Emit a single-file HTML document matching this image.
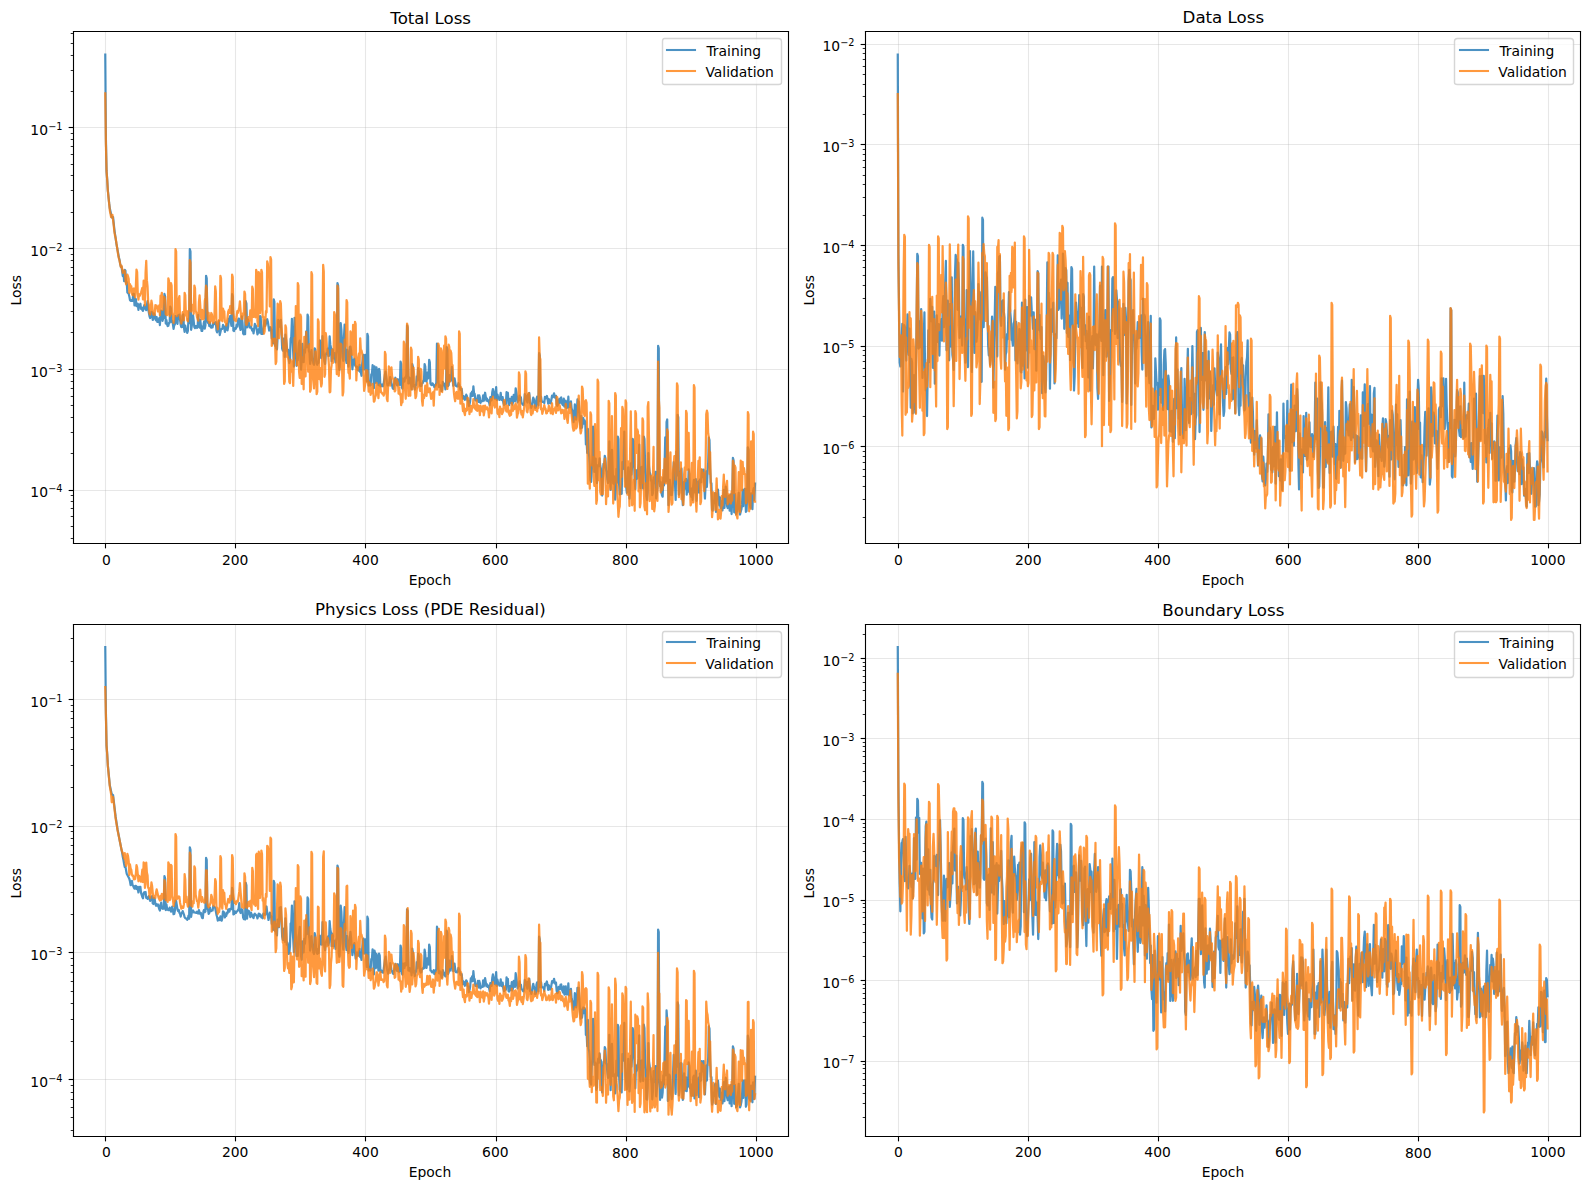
<!DOCTYPE html>
<html><head><meta charset="utf-8"><title>Training Losses</title>
<style>html,body{margin:0;padding:0;background:#fff}body{width:1590px;height:1189px;position:relative;overflow:hidden;font-family:"DejaVu Sans","Liberation Sans",sans-serif}</style>
</head><body>
<svg width="1590" height="1189" viewBox="0 0 1590 1189" style="position:absolute;left:0;top:0;display:block"><g transform="translate(1.4156 0.336) scale(1.388889)"><defs><style type="text/css">*{stroke-linejoin: round; stroke-linecap: butt}</style></defs><g id="figure_1"><g id="patch_1"><path d="M-0.299 855.118L1143.781 855.118L1143.781 -0.242L-0.299 -0.242z" style="fill: #ffffff"/></g><g id="axes_1"><g id="patch_2"><path d="M51.541 390.718L566.341 390.718L566.341 22.078L51.541 22.078z" style="fill: #ffffff"/></g><g id="matplotlib.axis_1"><g id="xtick_1"><g id="line2d_1"><path d="M74.941 391.078L74.941 22.438" clip-path="url(#pe0cba275ca)" style="fill: none; stroke: #b0b0b0; stroke-opacity: 0.3; stroke-width: 0.8; stroke-linecap: square"/></g><g id="line2d_2"><defs><path id="m1504cfccaf" d="M 0 0 L 0 3.5 " style="stroke: #000000; stroke-width: 0.8"/></defs><g><use href="#m1504cfccaf" x="74.941" y="391.078" style="stroke: #000000; stroke-width: 0.8"/></g></g><g id="text_1" transform="translate(0.823 1.153)"><text style="font-size: 10px; font-family: 'DejaVu Sans', 'Liberation Sans', sans-serif; text-anchor: middle" x="74.769" y="405.477">0</text></g></g><g id="xtick_2"><g id="line2d_3"><path d="M168.541 391.078L168.541 22.438" clip-path="url(#pe0cba275ca)" style="fill: none; stroke: #b0b0b0; stroke-opacity: 0.3; stroke-width: 0.8; stroke-linecap: square"/></g><g id="line2d_4"><g><use href="#m1504cfccaf" x="168.541" y="391.078" style="stroke: #000000; stroke-width: 0.8"/></g></g><g id="text_2" transform="translate(-0.089 0.995)"><text style="font-size: 10px; font-family: 'DejaVu Sans', 'Liberation Sans', sans-serif; text-anchor: middle" x="168.427" y="405.477">200</text></g></g><g id="xtick_3"><g id="line2d_5"><path d="M262.141 391.078L262.141 22.438" clip-path="url(#pe0cba275ca)" style="fill: none; stroke: #b0b0b0; stroke-opacity: 0.3; stroke-width: 0.8; stroke-linecap: square"/></g><g id="line2d_6"><g><use href="#m1504cfccaf" x="262.141" y="391.078" style="stroke: #000000; stroke-width: 0.8"/></g></g><g id="text_3" transform="translate(0.076 0.909)"><text style="font-size: 10px; font-family: 'DejaVu Sans', 'Liberation Sans', sans-serif; text-anchor: middle" x="262.085" y="405.477">400</text></g></g><g id="xtick_4"><g id="line2d_7"><path d="M356.461 391.078L356.461 22.438" clip-path="url(#pe0cba275ca)" style="fill: none; stroke: #b0b0b0; stroke-opacity: 0.3; stroke-width: 0.8; stroke-linecap: square"/></g><g id="line2d_8"><g><use href="#m1504cfccaf" x="356.461" y="391.078" style="stroke: #000000; stroke-width: 0.8"/></g></g><g id="text_4" transform="translate(-0.14 1.194)"><text style="font-size: 10px; font-family: 'DejaVu Sans', 'Liberation Sans', sans-serif; text-anchor: middle" x="355.743" y="405.477">600</text></g></g><g id="xtick_5"><g id="line2d_9"><path d="M450.061 391.078L450.061 22.438" clip-path="url(#pe0cba275ca)" style="fill: none; stroke: #b0b0b0; stroke-opacity: 0.3; stroke-width: 0.8; stroke-linecap: square"/></g><g id="line2d_10"><g><use href="#m1504cfccaf" x="450.061" y="391.078" style="stroke: #000000; stroke-width: 0.8"/></g></g><g id="text_5" transform="translate(-0.215 1.091)"><text style="font-size: 10px; font-family: 'DejaVu Sans', 'Liberation Sans', sans-serif; text-anchor: middle" x="449.4" y="405.477">800</text></g></g><g id="xtick_6"><g id="line2d_11"><path d="M543.661 391.078L543.661 22.438" clip-path="url(#pe0cba275ca)" style="fill: none; stroke: #b0b0b0; stroke-opacity: 0.3; stroke-width: 0.8; stroke-linecap: square"/></g><g id="line2d_12"><g><use href="#m1504cfccaf" x="543.661" y="391.078" style="stroke: #000000; stroke-width: 0.8"/></g></g><g id="text_6" transform="translate(0.141 1.043)"><text style="font-size: 10px; font-family: 'DejaVu Sans', 'Liberation Sans', sans-serif; text-anchor: middle" x="543.058" y="405.477">1000</text></g></g><g id="text_7" transform="translate(-0.08 1.515)"><text style="font-size: 10px; font-family: 'DejaVu Sans', 'Liberation Sans', sans-serif; text-anchor: middle" x="308.68" y="419.155">Epoch</text></g></g><g id="matplotlib.axis_2"><g id="ytick_1"><g id="line2d_13"><path d="M51.901 352.918L566.701 352.918" clip-path="url(#pe0cba275ca)" style="fill: none; stroke: #b0b0b0; stroke-opacity: 0.3; stroke-width: 0.8; stroke-linecap: square"/></g><g id="line2d_14"><defs><path id="m5d545ce8f8" d="M 0 0 L -3.5 0 " style="stroke: #000000; stroke-width: 0.8"/></defs><g><use href="#m5d545ce8f8" x="51.901" y="352.918" style="stroke: #000000; stroke-width: 0.8"/></g></g><g id="text_8" transform="translate(-0.039 1.5)"><g transform="translate(20.878 356.105)"><text><tspan x="0" y="-0.064" style="font-size: 10px; font-family: 'DejaVu Sans', 'Liberation Sans', sans-serif">1</tspan><tspan x="6.362" y="-0.064" style="font-size: 10px; font-family: 'DejaVu Sans', 'Liberation Sans', sans-serif">0</tspan><tspan x="12.82" y="-3.892" style="font-size: 7px; font-family: 'DejaVu Sans', 'Liberation Sans', sans-serif">−</tspan><tspan x="18.686" y="-3.892" style="font-size: 7px; font-family: 'DejaVu Sans', 'Liberation Sans', sans-serif">4</tspan></text></g></g></g><g id="ytick_2"><g id="line2d_15"><path d="M51.901 265.798L566.701 265.798" clip-path="url(#pe0cba275ca)" style="fill: none; stroke: #b0b0b0; stroke-opacity: 0.3; stroke-width: 0.8; stroke-linecap: square"/></g><g id="line2d_16"><g><use href="#m5d545ce8f8" x="51.901" y="265.798" style="stroke: #000000; stroke-width: 0.8"/></g></g><g id="text_9" transform="translate(-0.097 3.13)"><g transform="translate(20.878 269.129)"><text><tspan x="0" y="-0.977" style="font-size: 10px; font-family: 'DejaVu Sans', 'Liberation Sans', sans-serif">1</tspan><tspan x="6.362" y="-0.977" style="font-size: 10px; font-family: 'DejaVu Sans', 'Liberation Sans', sans-serif">0</tspan><tspan x="12.82" y="-4.805" style="font-size: 7px; font-family: 'DejaVu Sans', 'Liberation Sans', sans-serif">−</tspan><tspan x="18.686" y="-4.805" style="font-size: 7px; font-family: 'DejaVu Sans', 'Liberation Sans', sans-serif">3</tspan></text></g></g></g><g id="ytick_3"><g id="line2d_17"><path d="M51.901 178.678L566.701 178.678" clip-path="url(#pe0cba275ca)" style="fill: none; stroke: #b0b0b0; stroke-opacity: 0.3; stroke-width: 0.8; stroke-linecap: square"/></g><g id="line2d_18"><g><use href="#m5d545ce8f8" x="51.901" y="178.678" style="stroke: #000000; stroke-width: 0.8"/></g></g><g id="text_10" transform="translate(-0.033 2.888)"><g transform="translate(20.878 182.153)"><text><tspan x="0" y="-0.977" style="font-size: 10px; font-family: 'DejaVu Sans', 'Liberation Sans', sans-serif">1</tspan><tspan x="6.362" y="-0.977" style="font-size: 10px; font-family: 'DejaVu Sans', 'Liberation Sans', sans-serif">0</tspan><tspan x="12.82" y="-4.805" style="font-size: 7px; font-family: 'DejaVu Sans', 'Liberation Sans', sans-serif">−</tspan><tspan x="18.686" y="-4.805" style="font-size: 7px; font-family: 'DejaVu Sans', 'Liberation Sans', sans-serif">2</tspan></text></g></g></g><g id="ytick_4"><g id="line2d_19"><path d="M51.901 91.558L566.701 91.558" clip-path="url(#pe0cba275ca)" style="fill: none; stroke: #b0b0b0; stroke-opacity: 0.3; stroke-width: 0.8; stroke-linecap: square"/></g><g id="line2d_20"><g><use href="#m5d545ce8f8" x="51.901" y="91.558" style="stroke: #000000; stroke-width: 0.8"/></g></g><g id="text_11" transform="translate(-0.035 1.767)"><g transform="translate(20.878 95.177)"><text><tspan x="0" y="-0.064" style="font-size: 10px; font-family: 'DejaVu Sans', 'Liberation Sans', sans-serif">1</tspan><tspan x="6.362" y="-0.064" style="font-size: 10px; font-family: 'DejaVu Sans', 'Liberation Sans', sans-serif">0</tspan><tspan x="12.82" y="-3.892" style="font-size: 7px; font-family: 'DejaVu Sans', 'Liberation Sans', sans-serif">−</tspan><tspan x="18.686" y="-3.892" style="font-size: 7px; font-family: 'DejaVu Sans', 'Liberation Sans', sans-serif">1</tspan></text></g></g></g><g id="ytick_5"><g id="line2d_21"><defs><path id="mc3d89a154a" d="M 0 0 L -2 0 " style="stroke: #000000; stroke-width: 0.6"/></defs><g><use href="#mc3d89a154a" x="51.901" y="387.478" style="stroke: #000000; stroke-width: 0.6"/></g></g></g><g id="ytick_6"><g id="line2d_22"><g><use href="#mc3d89a154a" x="51.901" y="378.838" style="stroke: #000000; stroke-width: 0.6"/></g></g></g><g id="ytick_7"><g id="line2d_23"><g><use href="#mc3d89a154a" x="51.901" y="371.638" style="stroke: #000000; stroke-width: 0.6"/></g></g></g><g id="ytick_8"><g id="line2d_24"><g><use href="#mc3d89a154a" x="51.901" y="365.878" style="stroke: #000000; stroke-width: 0.6"/></g></g></g><g id="ytick_9"><g id="line2d_25"><g><use href="#mc3d89a154a" x="51.901" y="360.838" style="stroke: #000000; stroke-width: 0.6"/></g></g></g><g id="ytick_10"><g id="line2d_26"><g><use href="#mc3d89a154a" x="51.901" y="356.518" style="stroke: #000000; stroke-width: 0.6"/></g></g></g><g id="ytick_11"><g id="line2d_27"><g><use href="#mc3d89a154a" x="51.901" y="326.278" style="stroke: #000000; stroke-width: 0.6"/></g></g></g><g id="ytick_12"><g id="line2d_28"><g><use href="#mc3d89a154a" x="51.901" y="311.158" style="stroke: #000000; stroke-width: 0.6"/></g></g></g><g id="ytick_13"><g id="line2d_29"><g><use href="#mc3d89a154a" x="51.901" y="300.358" style="stroke: #000000; stroke-width: 0.6"/></g></g></g><g id="ytick_14"><g id="line2d_30"><g><use href="#mc3d89a154a" x="51.901" y="291.718" style="stroke: #000000; stroke-width: 0.6"/></g></g></g><g id="ytick_15"><g id="line2d_31"><g><use href="#mc3d89a154a" x="51.901" y="285.238" style="stroke: #000000; stroke-width: 0.6"/></g></g></g><g id="ytick_16"><g id="line2d_32"><g><use href="#mc3d89a154a" x="51.901" y="279.478" style="stroke: #000000; stroke-width: 0.6"/></g></g></g><g id="ytick_17"><g id="line2d_33"><g><use href="#mc3d89a154a" x="51.901" y="274.438" style="stroke: #000000; stroke-width: 0.6"/></g></g></g><g id="ytick_18"><g id="line2d_34"><g><use href="#mc3d89a154a" x="51.901" y="269.398" style="stroke: #000000; stroke-width: 0.6"/></g></g></g><g id="ytick_19"><g id="line2d_35"><g><use href="#mc3d89a154a" x="51.901" y="239.158" style="stroke: #000000; stroke-width: 0.6"/></g></g></g><g id="ytick_20"><g id="line2d_36"><g><use href="#mc3d89a154a" x="51.901" y="224.038" style="stroke: #000000; stroke-width: 0.6"/></g></g></g><g id="ytick_21"><g id="line2d_37"><g><use href="#mc3d89a154a" x="51.901" y="213.238" style="stroke: #000000; stroke-width: 0.6"/></g></g></g><g id="ytick_22"><g id="line2d_38"><g><use href="#mc3d89a154a" x="51.901" y="204.598" style="stroke: #000000; stroke-width: 0.6"/></g></g></g><g id="ytick_23"><g id="line2d_39"><g><use href="#mc3d89a154a" x="51.901" y="198.118" style="stroke: #000000; stroke-width: 0.6"/></g></g></g><g id="ytick_24"><g id="line2d_40"><g><use href="#mc3d89a154a" x="51.901" y="192.358" style="stroke: #000000; stroke-width: 0.6"/></g></g></g><g id="ytick_25"><g id="line2d_41"><g><use href="#mc3d89a154a" x="51.901" y="187.318" style="stroke: #000000; stroke-width: 0.6"/></g></g></g><g id="ytick_26"><g id="line2d_42"><g><use href="#mc3d89a154a" x="51.901" y="182.998" style="stroke: #000000; stroke-width: 0.6"/></g></g></g><g id="ytick_27"><g id="line2d_43"><g><use href="#mc3d89a154a" x="51.901" y="152.758" style="stroke: #000000; stroke-width: 0.6"/></g></g></g><g id="ytick_28"><g id="line2d_44"><g><use href="#mc3d89a154a" x="51.901" y="136.918" style="stroke: #000000; stroke-width: 0.6"/></g></g></g><g id="ytick_29"><g id="line2d_45"><g><use href="#mc3d89a154a" x="51.901" y="126.118" style="stroke: #000000; stroke-width: 0.6"/></g></g></g><g id="ytick_30"><g id="line2d_46"><g><use href="#mc3d89a154a" x="51.901" y="118.198" style="stroke: #000000; stroke-width: 0.6"/></g></g></g><g id="ytick_31"><g id="line2d_47"><g><use href="#mc3d89a154a" x="51.901" y="110.998" style="stroke: #000000; stroke-width: 0.6"/></g></g></g><g id="ytick_32"><g id="line2d_48"><g><use href="#mc3d89a154a" x="51.901" y="105.238" style="stroke: #000000; stroke-width: 0.6"/></g></g></g><g id="ytick_33"><g id="line2d_49"><g><use href="#mc3d89a154a" x="51.901" y="100.198" style="stroke: #000000; stroke-width: 0.6"/></g></g></g><g id="ytick_34"><g id="line2d_50"><g><use href="#mc3d89a154a" x="51.901" y="95.878" style="stroke: #000000; stroke-width: 0.6"/></g></g></g><g id="ytick_35"><g id="line2d_51"><g><use href="#mc3d89a154a" x="51.901" y="65.638" style="stroke: #000000; stroke-width: 0.6"/></g></g></g><g id="ytick_36"><g id="line2d_52"><g><use href="#mc3d89a154a" x="51.901" y="50.518" style="stroke: #000000; stroke-width: 0.6"/></g></g></g><g id="ytick_37"><g id="line2d_53"><g><use href="#mc3d89a154a" x="51.901" y="39.718" style="stroke: #000000; stroke-width: 0.6"/></g></g></g><g id="ytick_38"><g id="line2d_54"><g><use href="#mc3d89a154a" x="51.901" y="31.078" style="stroke: #000000; stroke-width: 0.6"/></g></g></g><g id="ytick_39"><g id="line2d_55"><g><use href="#mc3d89a154a" x="51.901" y="23.878" style="stroke: #000000; stroke-width: 0.6"/></g></g></g><g id="text_12" transform="translate(-0.534 2.131)"><text style="font-size: 10px; font-family: 'DejaVu Sans', 'Liberation Sans', sans-serif; text-anchor: middle" x="14.798" y="206.598" transform="rotate(-90 14.798 206.598)">Loss</text></g></g><g id="line2d_56"><path d="M74.77 39.03L75.24 99.95L75.71 122.82L76.17 129.03L76.64 136.92L77.58 146.02L78.05 149.73L79.45 156.31L79.92 156.72L80.39 156.13L81.33 165.04L82.73 174.84L84.6 185.11L85.07 187.01L85.54 189.76L86.01 191.77L86.48 191.68L87.41 198.64L87.88 195.18L88.35 202.22L88.82 194.12L89.29 194.51L89.75 203.66L90.22 202.91L90.69 210.33L91.63 211.3L92.1 213.17L92.56 215.84L93.03 216.4L93.5 216.36L93.97 215.64L94.44 216.4L94.91 211.33L95.37 211.32L95.84 219.7L96.31 218.21L96.78 215.02L97.25 220.15L97.72 218.84L98.18 218.45L98.65 222.85L99.12 219.41L99.59 220.85L100.06 218.44L100.53 222.16L100.99 221.24L101.46 222.94L101.93 223.56L102.87 219.5L103.33 221.46L104.27 223.07L105.21 216.62L105.68 222.13L106.61 227.39L107.08 228.76L107.55 227.2L108.02 224.27L108.49 224.56L108.95 230.15L109.42 228.93L109.89 225.38L110.36 226.65L110.83 229.23L111.3 230.37L111.76 227.98L112.23 231.48L112.7 230.59L113.17 231.54L113.64 228.81L114.11 233.79L114.57 226.03L115.04 223.45L115.51 223.69L115.98 230.81L116.45 229.07L116.92 228.62L117.38 211.4L117.85 213.14L118.32 232.72L118.79 230.16L119.26 233.33L119.72 234.55L120.19 234.33L120.66 232.24L121.13 232.15L121.6 220.47L122.07 221.74L122.53 231.58L123 230.66L123.47 233.05L123.94 236.53L124.41 233.9L124.88 233.38L125.34 227.17L125.81 228.5L126.28 231.89L126.75 232.94L127.22 226.77L127.69 229.29L128.15 226.33L129.09 233.71L129.56 235.36L130.03 235.23L130.5 226.89L130.96 226.15L131.43 235.75L131.9 238.71L132.37 234.28L132.84 237.11L133.31 236.36L133.77 239.45L134.24 238.01L134.71 229.2L135.18 232.49L135.65 179.05L136.12 180.79L136.58 237.19L137.05 234.48L137.99 226.82L138.92 235.3L139.39 236.04L139.86 234.58L140.33 234.48L140.8 235.93L141.27 235.07L141.73 226.44L142.2 232.98L142.67 235.64L143.14 230.1L144.08 238L144.54 238.02L145.48 233.76L145.95 231.24L146.42 236.32L146.89 233.95L147.35 198.36L147.82 200.1L148.29 230.82L148.76 232.32L149.23 231.72L149.7 234.47L150.16 231.89L150.63 235.22L151.1 235.68L151.57 234.53L152.04 235.52L152.51 232.56L152.97 233.25L153.44 232.74L153.91 232.06L154.38 231.7L154.85 237.77L155.31 239.1L155.78 237.94L156.25 232.77L156.72 230.82L157.19 241L158.12 236.94L158.59 236.62L159.06 236.51L159.53 233.62L160.47 235.94L160.93 238.71L161.4 234.76L161.87 237.17L162.34 232.91L162.81 237.66L163.28 234.97L163.74 229.25L164.21 229.51L164.68 227.34L165.15 231.42L165.62 234.33L166.09 211.59L166.55 213.1L167.02 237.81L167.49 238.06L167.96 236.12L168.43 236.57L168.9 236.41L169.36 233.49L169.83 234.89L170.3 230.72L170.77 229.09L171.24 229.23L171.71 235.48L172.17 237.35L172.64 235.79L173.11 227.59L173.58 232.03L174.05 239.9L174.51 240.48L174.98 240.22L175.45 240.36L175.92 216.62L176.39 218.36L176.86 235.5L177.32 229.59L177.79 230.51L178.73 235.55L179.2 235.59L179.67 234.92L180.6 237.87L181.07 236.83L181.54 239.73L182.48 232.93L182.94 234.02L183.41 234.61L184.35 240.52L185.29 236.77L185.75 239.19L186.22 227.28L186.69 227.91L187.16 240.13L187.63 239.26L188.1 240.1L189.03 233.41L189.5 230.42L189.97 234.41L190.44 232.74L190.9 230.5L191.37 229.59L191.84 231.4L192.78 237.75L193.25 236.01L193.71 235.41L194.18 237.08L194.65 243.48L195.12 241.98L195.59 246.92L196.06 215.32L196.52 217.06L196.99 248.74L197.46 244.19L197.93 250.6L198.4 251.24L198.87 242.1L199.33 230.13L199.8 231.11L200.27 232.62L200.74 235.22L201.21 230L201.68 239.32L202.14 250.85L202.61 252.2L203.08 243.49L203.55 246.94L204.02 256.7L204.49 240.68L204.95 244.23L205.89 252.82L206.36 251.6L206.83 255.36L207.29 261.14L207.76 259.02L208.23 243.76L208.7 242.48L209.17 229.28L209.64 243.66L210.57 263.66L211.04 228.58L212.45 263.11L212.91 255.84L213.38 259.06L213.85 251.21L214.32 246.52L214.79 245.04L215.26 257.71L215.72 265.84L216.19 259.65L216.66 247.38L217.13 255.02L217.6 260.48L218.07 251.73L218.53 253.68L219 247.45L219.47 238.37L219.94 249.79L220.41 226.19L220.88 227.93L221.34 252.31L221.81 253.78L222.28 261.8L222.75 257.65L223.22 251.77L223.69 258.05L224.15 259.2L224.62 261.55L225.09 262.41L225.56 250.6L226.03 251.49L226.96 261.28L227.43 262.39L227.9 260.14L228.37 260.98L228.84 255.71L229.3 244.74L230.24 257.54L230.71 254.04L231.18 241.75L231.65 252.05L232.11 255.2L232.58 260.03L233.05 261.74L233.52 255.32L233.99 254.09L234.46 254.49L234.92 250.8L235.39 255.92L235.86 255.99L236.33 241.88L236.8 247.91L237.27 249.91L237.73 259.77L238.2 251.24L238.67 251.42L239.14 257.78L239.61 253.8L240.08 256.41L240.54 260.68L241.01 254.52L241.48 251.74L241.95 203.58L242.42 205.32L242.88 260.79L243.35 266.11L243.82 256.32L244.29 232.34L244.76 236.99L245.69 257.33L246.16 259.52L246.63 242.62L247.1 233.44L248.04 258.59L248.5 261.07L248.97 251.67L249.44 258.94L249.91 263.67L250.38 258.21L250.85 249.53L251.31 249.3L251.78 252.02L252.72 265.63L253.19 260.77L253.66 258.98L254.12 258.08L254.59 262.53L255.06 263.49L255.53 263.91L256 263.79L256.47 266.09L256.93 265.73L257.4 266.6L257.87 262.52L258.34 267.56L258.81 268L259.28 270.3L259.74 262.08L260.21 257.17L260.68 255.29L261.15 265.84L261.62 257.4L262.08 255.28L263.02 274.26L263.49 240.11L263.96 241.85L264.43 277.37L264.89 274.96L265.36 274.48L265.83 277.28L266.3 269.3L266.77 268.91L267.24 262.72L267.7 264.46L268.17 279.3L268.64 263.59L269.11 265.33L269.58 275.37L270.05 264.34L270.51 266.83L271.45 277.08L271.92 265.33L272.39 267.07L272.86 277.87L273.32 277.87L273.79 276.65L274.26 277.55L274.73 277.84L275.2 275.98L276.13 269.37L276.6 267.29L277.54 275.27L278.01 277.27L278.47 277.15L279.41 274.77L279.88 271.27L280.35 273.03L280.82 275.81L281.28 277.24L281.75 279.28L282.22 279.75L283.16 273.61L283.63 271.74L284.56 276.8L285.03 277.25L285.5 272.81L286.44 276.76L286.9 276.86L287.37 260.11L287.84 261.85L288.31 278.91L288.78 279.58L289.25 272.37L290.18 274.48L290.65 271.48L291.12 272.14L291.59 269.08L292.06 234.02L292.52 235.76L292.99 275.83L293.46 275.81L293.93 271.73L294.4 275.52L294.87 275.68L295.33 280.19L295.8 261.85L296.27 263.59L296.74 277.88L297.21 276.91L297.67 280.32L298.14 277.71L298.61 276.75L299.08 270.74L299.55 273.76L300.02 264.74L300.48 266.58L300.95 270.23L301.42 277.45L301.89 277.73L302.36 277.57L302.83 275.75L303.29 275.61L303.76 273.88L304.23 274.19L304.7 261.85L305.17 263.59L305.64 274.11L306.1 274.52L306.57 267.98L307.04 272.3L307.51 271.7L307.98 258.81L308.45 260.55L308.91 275.87L309.38 276.77L309.85 277.03L310.32 275.76L311.26 276.88L311.72 278.59L312.19 277.1L312.66 277.31L313.13 275.23L313.6 247.07L314.06 248.8L314.53 273.27L315 278.36L315.47 278.14L315.94 277.21L316.41 278.81L316.87 281.24L317.34 280.63L317.81 274.75L318.28 277.29L318.75 276.38L319.22 275.95L319.68 280.14L320.15 275.88L320.62 249.67L321.09 251.41L321.56 277.71L322.03 277.06L322.49 269.91L322.96 273.52L323.43 273.9L323.9 270.69L324.37 263.87L324.84 271.96L325.3 277.51L325.77 276.66L326.24 272.1L327.18 277.51L328.11 278.05L328.58 277.83L329.05 275.62L329.52 276.53L329.99 278.05L330.46 280.29L330.92 280.49L331.39 279.72L331.86 284.1L332.33 286.81L332.8 285.01L333.26 285.84L333.73 287.62L334.2 285.98L334.67 283.93L335.14 284.85L335.61 288.13L336.07 288.4L336.54 292.04L337.01 290.98L337.48 288.74L337.95 282.95L338.42 284.88L338.88 281.64L339.35 284.74L339.82 277.85L340.29 282.74L340.76 283.39L341.23 288.01L341.69 287.07L342.16 288.24L342.63 287.23L343.1 284.43L343.57 289.09L344.04 284.38L344.5 286.21L344.97 289.82L345.44 288.46L346.38 288.62L346.85 284.36L347.31 288.26L348.25 282.53L349.19 288.23L349.65 286.77L350.12 288.5L350.59 287.88L351.06 289.22L351.53 291.42L352 285.65L352.46 287.25L352.93 287.93L353.4 282.24L353.87 279.86L354.81 284.52L355.27 286.81L356.21 278.51L356.68 287.79L357.15 283.82L357.62 285.86L358.08 285.99L358.55 287.69L359.02 286.5L359.49 282.65L359.96 287.45L360.43 287.79L360.89 285.63L361.36 289.68L361.83 291.35L362.3 288.86L362.77 288.92L363.24 290.53L363.7 282.03L364.17 283.56L364.64 282.6L365.11 290.26L365.58 291.47L366.05 287L366.51 289.85L366.98 289.24L367.45 285.47L367.92 291.02L368.39 289.08L368.85 284.05L369.32 288.43L369.79 288.57L370.26 279.3L370.73 281.97L371.66 289.41L372.13 287.86L372.6 288.04L373.07 284.6L373.54 287.82L374.01 285.8L374.47 289.75L375.41 291.06L375.88 291.4L376.35 289.97L376.82 283.49L377.28 284.42L377.75 285.03L378.22 287.97L378.69 289.57L379.16 283.92L379.63 285.4L380.09 282.71L380.56 289.89L381.03 290.45L381.5 293.41L381.97 291.49L382.44 288.34L382.9 286.08L383.37 287.18L383.84 289.5L384.31 293.43L384.78 293.14L385.24 287.01L385.71 285.39L386.18 289.1L386.65 291.6L387.12 254.02L387.59 255.76L388.05 288.64L388.52 285.37L388.99 288.54L389.46 289.07L390.4 288.96L390.86 289.94L391.33 285.45L391.8 286.65L392.74 284.8L393.21 286.77L393.67 290.42L394.14 287.05L394.61 289.47L395.08 290.09L395.55 289.76L396.48 284.56L396.95 285.82L397.42 285.04L397.89 282.95L398.36 285.39L398.83 286.21L399.29 284.72L399.76 290.74L400.23 291.94L400.7 291.15L401.17 287.71L401.63 287.07L402.1 289.84L402.57 286.6L403.04 285.91L403.51 289.99L403.98 291.09L404.44 291.62L404.91 286.81L405.38 292.59L405.85 289.16L406.32 288.26L406.79 293.52L407.25 290.85L407.72 293.24L408.19 285.38L408.66 292.9L409.13 291.88L409.6 292.62L410.06 288.68L410.53 293.76L411 295.01L411.94 303.68L412.41 299.87L412.87 290.93L413.34 295.23L413.81 301.92L414.28 297.89L414.75 287.33L415.22 296.42L415.68 288.87L416.15 298.23L416.62 304.1L417.09 308.15L417.56 299.41L418.03 307.61L418.49 303.59L418.96 300.85L419.43 304.78L419.9 302.44L420.37 303.76L420.83 319.7L421.3 316.7L421.77 325.89L422.24 308.59L422.71 324.88L423.18 328.28L424.11 345.41L424.58 346.71L425.52 330.3L425.99 306.89L426.45 311.97L426.92 339.59L427.39 338.12L427.86 329.87L428.33 343.25L428.8 347.56L429.26 336.59L429.73 334.38L430.2 335.16L430.67 329.81L431.14 334.94L431.61 337.15L432.54 356.53L433.48 333.73L433.95 336.25L434.42 327.95L434.88 329.69L435.35 338.13L435.82 339.71L436.29 345.08L436.76 347.53L437.22 339.09L437.69 317.57L438.16 337.77L438.63 352.52L439.1 333.99L439.57 323.65L440.5 347.92L440.97 342.52L441.44 345.96L441.91 359.52L442.38 350.41L442.84 337.36L443.31 347.29L443.78 314.04L444.25 315.78L444.72 347.93L445.19 355.79L446.12 352.06L446.59 355.29L447.06 332.55L447.53 337.55L448 331.38L448.46 310.49L448.93 333.89L449.4 344.88L449.87 350.71L450.34 354.55L450.81 347.53L451.27 336.28L452.21 358.73L452.68 351.69L453.15 333.32L453.62 341.53L454.08 335.84L454.55 315.78L455.02 317.52L455.96 345.18L456.42 351.91L456.89 338.28L457.36 344.54L457.83 344.18L458.77 333.7L459.23 319.8L459.7 347.76L460.17 351.19L460.64 338.01L461.11 335.88L461.58 338.16L462.04 351.53L462.51 314.04L462.98 315.78L463.45 333.7L463.92 341.97L464.39 356.88L464.85 359.71L465.32 354.07L465.79 326.02L466.26 335.71L466.73 339.71L467.2 341.07L467.66 345.74L468.13 345.66L468.6 356.23L469.07 354.84L469.54 343.43L470.01 347.68L470.47 344.51L470.94 339.51L471.41 358.62L472.35 351.15L472.81 248.8L473.28 250.54L473.75 342.96L474.22 349.84L474.69 346.83L475.16 353.86L475.62 356.41L476.09 357.38L476.56 343.61L477.03 349.25L477.5 334.42L477.97 314.72L478.43 346.54L478.9 303.6L479.37 301.77L480.31 363.48L480.78 346.93L481.24 345.27L481.71 353.39L482.18 356.26L482.65 356.17L483.12 351.84L483.59 344.37L484.05 332.52L484.52 336.12L485.46 359.75L485.93 324.84L486.4 342.03L486.86 298.38L487.33 300.12L487.8 355.95L488.27 349.62L488.74 346.12L489.21 338.99L489.67 337.22L490.14 354.3L490.61 363.45L491.08 357.27L491.55 346.71L492.01 351.63L492.48 345.18L492.95 344.62L493.42 355.87L493.89 348.18L494.36 353.74L494.82 337.63L495.29 341.38L495.76 355.36L496.23 354.82L496.7 357.45L497.17 351.38L497.63 359.61L498.1 349.19L498.57 345.23L499.04 354.21L499.51 350.4L499.98 344.64L500.44 360.33L500.91 350.76L501.38 346.71L501.85 346.44L502.32 354.43L502.79 345.07L503.25 346.49L503.72 347.01L504.19 337.8L504.66 343.36L505.13 342.42L505.6 337.81L506.53 358.73L507.47 339.15L507.94 350.28L508.4 339.69L508.87 332.73L509.34 314.91L509.81 316.65L510.28 337.53L510.75 347.41L511.21 347.81L511.68 366.78L512.15 367.45L512.62 360.15L513.09 362.12L513.56 355.05L514.02 354.74L514.49 368.3L514.96 357.57L515.43 357.24L515.9 352.33L516.83 363.7L517.3 357.83L517.77 365.61L518.24 361.21L518.71 360.65L519.18 367.29L519.64 357.21L520.11 352.45L520.58 365.41L521.52 350.04L521.99 352.2L522.45 364.05L522.92 365.56L523.39 364.7L523.86 356.59L524.33 367.42L524.8 363.61L525.26 355.72L525.73 369.89L526.2 358.6L526.67 329.34L527.14 331.08L527.6 368.6L528.07 355.36L529.01 370.06L529.95 366.45L530.88 354.5L531.35 364.03L531.82 370.28L532.29 368.12L532.76 366.59L533.22 363.3L533.69 352.47L534.16 364.14L534.63 352.71L535.1 351.79L535.57 351.78L536.03 368.29L536.5 367.67L536.97 355.44L537.44 321.86L537.91 323.6L538.38 361.08L539.31 365.35L539.78 355.03L540.25 359.39L540.72 366.35L541.19 353.3L541.65 351.2L542.12 359.67L542.59 347.96L542.59 347.96" clip-path="url(#pe0cba275ca)" style="fill: none; stroke: #1f77b4; stroke-opacity: 0.8; stroke-width: 1.6; stroke-linecap: square"/></g><g id="line2d_57"><path d="M74.77 67.04L75.24 103.99L75.71 123.25L76.17 129.46L76.64 137.41L78.05 151.28L78.98 156.05L79.45 155.8L79.92 154.44L80.86 161.94L81.33 166.74L81.79 169.43L82.26 171.21L84.13 183.74L84.6 185.89L85.07 187.5L85.54 190.09L86.01 192.05L86.48 191.12L86.94 193.26L87.41 196.18L87.88 195.69L88.35 194.5L88.82 194.88L89.29 200.97L89.75 204.45L90.22 202.71L90.69 197.49L91.16 198.79L91.63 200.53L92.1 210.66L92.56 204.34L93.03 205.68L93.5 205.87L93.97 211.3L94.44 212.28L94.91 207.61L95.37 207.39L95.84 212.72L96.31 213.88L96.78 206.47L97.25 193.91L97.72 195.65L98.18 211.32L98.65 215.5L99.12 211.69L99.59 212.76L100.06 211.42L100.53 210.45L101.46 206.97L101.93 215.29L102.4 201.84L102.87 203.58L103.33 219.67L103.8 195.87L104.27 187.58L104.74 201.47L105.21 205.88L105.68 217.25L106.14 219.25L106.61 225.43L107.08 226.17L108.02 216.18L108.49 218.96L108.95 223.81L109.42 226.23L109.89 225.9L110.36 226.51L110.83 219.4L111.3 221.38L111.76 219.79L112.23 221.59L112.7 224.03L113.17 222.92L113.64 219.54L114.11 226.69L114.57 212.66L115.04 213.43L115.51 210.55L115.98 222.86L116.45 213.54L116.92 213.29L117.38 214.01L117.85 215.75L118.32 226.25L119.26 226.62L119.72 225.91L120.19 200.1L120.66 201.84L121.13 227.34L121.6 225.9L122.07 203.58L122.53 205.32L123 225.64L123.47 226.38L123.94 232.22L124.41 227.36L124.88 224.25L125.34 179.05L125.81 180.79L126.28 227.36L126.75 226.97L127.22 223.64L127.69 214.67L128.15 212.98L128.62 227.87L129.56 232.69L130.03 229.43L130.5 224.48L131.43 230.36L131.9 210.54L132.37 212.27L132.84 226.91L133.31 223.62L133.77 230.21L134.24 231.11L134.71 223.92L135.18 223.28L135.65 187.05L136.12 188.79L136.58 224.08L137.05 220.33L137.52 221.42L137.99 219.08L138.46 225.71L138.92 205.32L139.39 207.06L139.86 223.42L140.33 224.78L140.8 228.02L141.27 229.68L141.73 230.63L142.2 217.32L142.67 212.47L143.14 219.23L143.61 227.61L144.08 229.63L144.54 222.85L145.01 228.95L145.48 229.72L145.95 228.63L146.42 216.33L146.89 213.87L147.35 205.32L147.82 207.06L148.29 225.83L148.76 230.42L149.23 225.07L149.7 232.27L150.16 232.13L150.63 230.25L151.1 225.11L151.57 226.21L152.04 230.91L152.51 232.26L152.97 231.06L153.44 225.3L153.91 205.98L154.38 209.6L154.85 233.14L155.31 233.34L155.78 236.83L156.25 231.36L156.72 230.11L157.19 230.68L157.66 198.36L158.12 200.1L158.59 229.4L159.06 231.07L159.53 221.94L160 223.64L160.47 223.98L160.93 231.61L161.4 231.39L161.87 234.18L162.34 232.14L163.28 224.07L163.74 222.9L164.21 225.01L164.68 220.13L165.15 223.58L165.62 225.56L166.09 197.49L166.55 199.23L167.02 224.17L167.49 228.98L167.96 230.49L168.43 229.82L168.9 230.88L169.36 227.84L169.83 223.81L170.3 225.01L171.24 221.21L171.71 216.72L172.64 228.37L173.11 229.58L173.58 229.38L174.05 225.16L174.51 226.12L174.98 209.67L175.45 211.4L175.92 231.9L176.39 233.7L176.86 232.65L177.32 230.65L177.79 228.02L178.26 230.73L178.73 229.8L179.2 223.24L180.13 234.1L180.6 206.19L181.07 207.93L181.54 227.95L182.01 226.48L182.94 228.17L183.41 194.01L183.88 195.75L184.35 230.76L184.82 234.5L185.29 195.75L185.75 197.49L186.22 225.27L186.69 220.18L187.16 194.01L187.63 195.75L188.1 228.04L188.56 227.72L189.03 240.11L189.5 238.37L189.97 232.32L190.44 223.74L190.9 224.68L191.37 187.92L191.84 189.66L192.31 195.75L192.78 197.49L193.25 220.34L193.71 184.88L194.18 186.62L194.65 248.8L195.12 247.07L195.59 244.16L196.06 245.62L196.52 243.53L196.99 243.93L197.46 261.85L197.93 260.11L198.4 234.69L198.87 218.36L199.33 220.1L199.8 243.29L200.27 240.37L200.74 216.62L201.21 218.36L201.68 233.66L202.14 241.97L202.61 247.66L203.08 251.21L203.55 276.2L204.02 274.46L204.49 234.02L204.95 235.76L205.42 248.7L205.89 256.86L206.36 256.61L206.83 260.73L207.29 274.81L207.76 275.65L208.23 258.71L208.7 266.25L209.17 267.38L209.64 260.01L210.1 277.57L211.04 243.07L211.51 252.89L211.98 220.1L212.45 221.84L212.91 262.76L213.38 203.58L213.85 205.32L214.32 267.44L214.79 271.9L215.26 226.19L215.72 227.93L216.19 276.15L216.66 268.32L217.13 256.85L217.6 280.05L218.07 242.33L218.53 269.97L219 270.67L219.47 238.61L219.94 251.71L220.41 248.7L220.88 267.32L221.81 247.51L222.28 281.86L222.75 280.12L223.22 195.75L223.69 197.49L224.15 270.42L225.09 279.36L226.03 252.68L226.49 262.48L226.96 283.59L227.43 281.86L227.9 229.67L228.37 231.41L228.84 272.66L229.3 264.63L229.77 272.48L230.24 278.06L230.71 275.95L231.65 190.5L232.11 195.31L232.58 271.1L233.05 269.28L233.52 239.58L233.99 243.34L234.46 251.76L234.92 251.77L235.39 256.43L235.86 263.54L236.33 282.23L236.8 281.86L237.27 266.06L237.73 262.79L238.2 251.71L238.67 261.05L239.14 256.26L239.61 224.45L240.08 226.19L240.54 247.27L241.01 256.1L241.48 269.18L241.95 205.32L242.42 207.06L242.88 270.48L243.35 265.75L243.82 263.45L244.29 247.17L244.76 247.74L245.23 261.63L245.69 284.46L246.16 281.98L247.1 244.53L247.57 249.27L248.04 242.05L248.5 215.75L248.97 217.49L249.44 259.81L249.91 268.29L250.38 267.97L250.85 272.3L251.31 238.37L251.78 240.11L252.25 254.55L252.72 255.16L253.19 233.74L253.66 238.94L254.12 257.17L254.59 231.41L255.06 233.15L255.53 273.63L256 263.98L256.47 266.25L256.93 256.9L257.4 254.19L257.87 262.67L258.34 243.39L258.81 252.41L259.28 252.09L259.74 254.26L260.21 258.09L260.68 267.96L261.15 281.18L262.08 275.35L262.55 266.32L263.02 274.86L263.49 266.54L264.43 281.82L264.89 275.05L265.36 276.47L265.83 284.04L266.3 281.82L266.77 282.79L267.24 276.05L267.7 281.8L268.17 288.99L268.64 288.43L269.11 285.67L269.58 284.58L270.05 275.33L270.51 276.78L270.98 280.48L271.45 286.45L271.92 279.49L272.39 276.66L272.86 278.18L273.32 282.25L273.79 282.24L274.26 283.36L274.73 283.24L275.2 284.59L275.67 283.27L276.13 253.15L276.6 254.89L277.07 277.88L277.54 287.03L278.01 288.59L278.94 263.59L279.41 265.33L279.88 277.42L280.35 272.54L280.82 264.25L281.28 270.55L281.75 272.29L282.22 272.62L282.69 275.5L283.16 281.61L283.63 280.99L284.09 272.59L284.56 273.36L285.5 275.47L285.97 283.24L286.44 278.64L286.9 283.89L287.37 283.26L287.84 291.45L288.31 287.9L288.78 289.43L289.25 276.43L289.71 245.76L290.18 247.5L290.65 280.73L291.12 286.87L291.59 270.2L292.06 232.71L292.52 234.45L292.99 284.72L293.46 284.36L293.93 283.67L294.4 284.64L294.87 250.11L295.33 251.85L295.8 280.07L296.27 273.1L296.74 264.42L297.21 270.51L297.67 280.05L298.14 286.47L298.61 285.2L299.08 279.86L299.55 277.79L300.02 256.63L300.48 258.37L300.95 277.74L301.42 281.18L301.89 265.33L302.36 267.07L302.83 288.06L303.29 291.85L303.76 284.11L304.23 286.44L304.7 284.29L305.17 277.47L305.64 283.8L306.1 284.79L306.57 275.67L307.04 282.14L307.51 282.16L307.98 279.51L308.45 279.36L309.38 286.99L309.85 285.35L310.32 283.09L310.79 282.17L311.26 291.81L311.72 281.33L312.66 278.72L313.13 276.66L313.6 280.29L314.06 275.27L314.53 247.07L315 248.8L315.47 284.13L315.94 278.77L316.41 250.54L316.87 252.28L317.34 282.06L318.28 257.1L318.75 248.61L319.22 265.06L319.68 241.85L320.15 243.59L320.62 277.71L321.09 279.81L321.56 271.95L322.03 247.93L322.49 249.67L322.96 274.57L323.43 252.28L323.9 254.02L324.37 263.8L324.84 262.52L325.3 275.54L325.77 282.14L326.24 286.22L326.71 288.64L327.18 282.95L327.65 281.99L328.11 286.33L328.58 286.81L329.05 286.78L329.52 238.37L329.99 240.11L330.46 290.43L330.92 278.54L331.39 282.31L331.86 290.91L332.33 295.83L332.8 290.67L333.26 296.8L333.73 298.6L334.2 294.09L334.67 295.61L335.14 295.27L335.61 286.03L336.07 286.58L336.54 290.59L337.01 297.96L337.48 292.36L337.95 291.95L338.42 296.19L338.88 292.98L339.35 292.87L339.82 287.12L340.29 291.77L340.76 293.82L341.23 293.98L341.69 294.84L342.16 287.77L342.63 295.59L343.1 291.62L343.57 295.23L344.04 292.33L344.5 298.67L344.97 291.75L345.91 295.11L346.38 296.02L346.85 291.91L347.31 298.79L347.78 296.1L348.25 291.88L348.72 294.33L349.19 293.81L349.65 293.03L350.12 294.95L350.59 295.7L351.06 300.28L351.53 293.13L352.46 287.19L352.93 297.4L353.4 289.31L353.87 285.28L354.34 288.94L354.81 291.47L355.27 293.17L355.74 287.43L356.21 287.97L356.68 288.01L357.15 297.16L357.62 297.93L358.08 294.74L358.55 300.05L359.02 292.54L359.49 294.58L359.96 294.11L360.43 297.93L361.36 295.78L361.83 288.42L362.3 287.69L363.24 295.08L363.7 296.05L364.17 291.78L364.64 291.74L365.11 296.78L366.05 299.12L366.51 295.2L366.98 298.4L367.45 289.87L367.92 294.27L368.39 295.49L368.85 293.9L369.32 291.69L369.79 294.06L370.26 290.22L370.73 292.89L371.2 300.44L371.66 298.04L372.13 297.15L372.6 267.94L373.07 269.68L373.54 293.33L374.47 298.27L374.94 295.74L375.41 300.34L376.82 289.98L377.28 267.07L377.75 268.81L378.22 295.69L378.69 296.58L379.16 293.63L379.63 282.73L380.09 284.46L380.56 291.51L381.03 296.75L381.5 298.56L381.97 291.98L382.44 297.47L382.9 294.23L383.84 291.57L384.31 294.9L384.78 294.93L385.24 293.63L385.71 296.03L386.18 292.26L386.65 293.42L387.12 242.72L387.59 256.63L388.05 258.37L388.52 294.52L388.99 293.77L389.46 297.72L389.93 295.63L390.4 294.37L390.86 291.42L391.33 293.46L391.8 294.06L392.27 297.35L392.74 297.21L393.21 295.43L393.67 295.63L394.14 291.77L394.61 294.83L395.08 294.38L395.55 297.31L396.02 293.2L396.48 290.08L396.95 297.94L397.42 295.85L397.89 294.42L398.36 295.03L398.83 292.9L399.29 297.11L399.76 285.4L400.23 285.82L400.7 295.23L401.17 294.79L401.63 291.12L402.1 292.39L403.04 297.39L403.51 295.08L403.98 294.83L404.44 297.04L404.91 295.31L405.38 301.29L405.85 297.61L406.32 290.48L407.25 301.43L407.72 304.27L408.19 298.32L408.66 294.05L409.13 296.97L409.6 290.23L410.06 295.22L410.53 298.31L411.47 307.75L411.94 309.84L412.41 309.47L412.87 300.1L413.34 301.48L413.81 308.17L414.28 307.32L414.75 303.2L415.22 291.57L415.68 284.62L416.62 307.8L417.09 311.8L417.56 309.96L418.03 278.03L418.49 279.77L418.96 291.24L419.43 297.48L419.9 299.31L420.37 288.62L420.83 287.94L421.3 289.68L421.77 310.73L422.24 347.96L423.18 339.7L423.64 351.61L424.11 296.64L424.58 298.38L425.05 334.79L425.52 329.66L425.99 328.9L426.45 343.28L426.92 349.62L427.39 305.11L428.33 362.51L428.8 359.7L429.26 273.15L429.73 274.89L430.2 345.53L430.67 325.16L431.14 354.05L431.61 355.79L432.07 352.04L432.54 344.29L433.01 355.62L433.48 337.13L434.42 330L434.88 333.43L435.35 362.79L435.82 350.54L436.29 349.95L436.76 357.14L437.22 288.38L437.69 290.12L438.16 347.81L438.63 352.16L439.1 337.78L439.57 299.35L440.03 326.41L440.5 362.31L440.97 350.32L441.44 343.53L441.91 282.73L442.38 284.46L442.84 346.02L443.31 350.4L444.25 371.86L444.72 366.22L445.19 364.48L445.65 350.1L446.12 308.05L446.59 343.18L447.06 292.73L447.53 294.47L448 306.48L448.46 313.4L448.93 350.19L449.4 287.94L449.87 289.68L450.34 345.91L450.81 355.97L451.27 331.93L451.74 345.52L452.21 364.08L452.68 322.74L453.15 295.94L454.08 363.61L454.55 361.87L455.02 362.06L455.49 345.02L455.96 367.52L456.42 295.76L456.89 297.5L457.36 325.89L457.83 308.82L458.3 310.56L458.77 353.56L459.23 313.19L459.7 365.04L460.17 361.95L460.64 342.6L461.11 347.45L461.58 300.99L462.04 302.73L462.51 352.32L462.98 364.43L463.45 367.09L463.92 347.78L464.39 347.86L464.85 370.05L465.32 292.73L465.79 289.27L466.26 315.75L466.73 360.49L467.2 356.33L467.66 347.84L468.13 342.35L468.6 366.31L469.54 321.56L470.01 367.89L470.47 364.37L470.94 352.15L471.41 359.26L471.88 342.16L472.35 360.41L472.81 260.11L473.28 286.4L473.75 293.16L474.22 348.09L474.69 354.25L475.16 343.4L475.62 352.63L476.09 350.92L476.56 338.05L477.03 346.94L477.5 330.04L477.97 347.37L478.43 347.85L478.9 345.87L479.37 308.82L479.84 310.56L480.31 368.4L480.78 361.64L481.24 340.67L481.71 325.51L482.18 354.72L482.65 363.09L483.12 361.97L483.59 337.98L484.05 334.45L484.52 328.12L484.99 334.37L485.46 345.16L486.4 275.77L486.86 277.51L487.33 345.28L487.8 357.69L488.27 340.33L488.74 354.31L489.21 332.67L489.67 359.14L490.14 356.67L491.08 363.23L491.55 341.06L492.01 336.29L492.48 346.22L492.95 295.51L493.42 297.25L493.89 337.97L494.36 318.46L494.82 311.4L495.29 335.93L496.23 363.61L496.7 361.87L497.17 332.99L497.63 343.3L498.1 361.48L498.57 277.07L499.04 278.81L499.51 351.22L500.44 368.16L500.91 352.34L501.38 344.79L501.85 331.6L502.32 335.6L502.79 328.99L503.25 362.74L503.72 361L504.19 337.71L504.66 340.85L505.13 340.1L506.06 353.37L506.53 347.5L507 335.95L507.47 297.95L507.94 295.43L508.4 297.17L508.87 311.68L509.34 314.61L509.81 341.03L510.28 325.27L510.75 348.58L511.21 357.41L511.68 372.1L512.15 366.45L512.62 354.21L513.09 360.71L513.56 355.3L514.02 366.94L514.49 357.95L514.96 344.1L515.9 373.78L516.37 372.39L516.83 366.85L517.3 371.92L517.77 373.21L518.24 367.76L518.71 356.7L519.18 363.73L519.64 350.06L520.11 341.5L520.58 352.11L521.05 357.62L521.52 350.88L521.99 348.93L522.45 346L522.92 362.85L523.39 360.92L523.86 355.72L524.8 361.17L525.26 362.32L525.73 353.58L526.2 360.3L526.67 331.43L527.14 333.17L527.6 354.79L528.07 334.91L528.54 336.65L529.01 370.56L529.48 371.06L529.95 373.06L530.88 339.72L531.35 367.91L531.82 368.46L532.29 331.43L532.76 333.17L533.22 352.79L533.69 332.32L534.16 341.03L534.63 336.81L535.1 340.13L535.57 341.87L536.03 362.14L536.5 361.49L536.97 348.04L537.44 296.47L537.91 298.21L538.38 367.87L538.84 349.31L539.31 366.22L539.78 317.52L540.25 319.26L540.72 355.01L541.19 310.56L541.65 312.3L542.12 361L542.59 361L542.59 361" clip-path="url(#pe0cba275ca)" style="fill: none; stroke: #ff7f0e; stroke-opacity: 0.8; stroke-width: 1.6; stroke-linecap: square"/></g><g id="patch_3"><path d="M51.901 391.078L51.901 22.438" style="fill: none; stroke: #000000; stroke-width: 0.8; stroke-linejoin: miter; stroke-linecap: square"/></g><g id="patch_4"><path d="M566.701 391.078L566.701 22.438" style="fill: none; stroke: #000000; stroke-width: 0.8; stroke-linejoin: miter; stroke-linecap: square"/></g><g id="patch_5"><path d="M51.901 391.078L566.701 391.078" style="fill: none; stroke: #000000; stroke-width: 0.8; stroke-linejoin: miter; stroke-linecap: square"/></g><g id="patch_6"><path d="M51.901 22.438L566.701 22.438" style="fill: none; stroke: #000000; stroke-width: 0.8; stroke-linejoin: miter; stroke-linecap: square"/></g><g id="text_13" transform="translate(0.391 0.37)"><text style="font-size: 12px; font-family: 'DejaVu Sans', 'Liberation Sans', sans-serif; text-anchor: middle" x="308.68" y="16.318">Total Loss</text></g><g id="legend_1"><g id="patch_7"><path d="M477.42 60.6L559.5 60.6Q561.66 60.6 561.66 59.16L561.66 29.64Q561.66 27.48 559.5 27.48L477.42 27.48Q475.98 27.48 475.98 29.64L475.98 59.16Q475.98 60.6 477.42 60.6z" style="fill: #ffffff; opacity: 0.8; stroke: #cccccc; stroke-linejoin: miter"/></g><g id="line2d_58"><path d="M479.221 35.758L489.301 35.758L499.381 35.758" style="fill: none; stroke: #1f77b4; stroke-opacity: 0.8; stroke-width: 1.5; stroke-linecap: square"/></g><g id="text_14" transform="translate(0.012 1.289)"><text style="font-size: 10px; font-family: 'DejaVu Sans', 'Liberation Sans', sans-serif; text-anchor: start" x="507.6" y="38.917">Training</text></g><g id="line2d_59"><path d="M479.221 50.878L489.301 50.878L499.381 50.878" style="fill: none; stroke: #ff7f0e; stroke-opacity: 0.8; stroke-width: 1.5; stroke-linecap: square"/></g><g id="text_15" transform="translate(-0.744 1.419)"><text style="font-size: 10px; font-family: 'DejaVu Sans', 'Liberation Sans', sans-serif; text-anchor: start" x="507.6" y="53.595">Validation</text></g></g></g><g id="axes_2"><g id="patch_8"><path d="M621.781 390.718L1136.581 390.718L1136.581 22.078L621.781 22.078z" style="fill: #ffffff"/></g><g id="matplotlib.axis_3"><g id="xtick_7"><g id="line2d_60"><path d="M645.901 391.078L645.901 22.438" clip-path="url(#pb84562664e)" style="fill: none; stroke: #b0b0b0; stroke-opacity: 0.3; stroke-width: 0.8; stroke-linecap: square"/></g><g id="line2d_61"><g><use href="#m1504cfccaf" x="645.901" y="391.078" style="stroke: #000000; stroke-width: 0.8"/></g></g><g id="text_16" transform="translate(0.459 1.153)"><text style="font-size: 10px; font-family: 'DejaVu Sans', 'Liberation Sans', sans-serif; text-anchor: middle" x="645.369" y="405.477">0</text></g></g><g id="xtick_8"><g id="line2d_62"><path d="M739.501 391.078L739.501 22.438" clip-path="url(#pb84562664e)" style="fill: none; stroke: #b0b0b0; stroke-opacity: 0.3; stroke-width: 0.8; stroke-linecap: square"/></g><g id="line2d_63"><g><use href="#m1504cfccaf" x="739.501" y="391.078" style="stroke: #000000; stroke-width: 0.8"/></g></g><g id="text_17" transform="translate(0.292 0.997)"><text style="font-size: 10px; font-family: 'DejaVu Sans', 'Liberation Sans', sans-serif; text-anchor: middle" x="739.027" y="405.477">200</text></g></g><g id="xtick_9"><g id="line2d_64"><path d="M833.101 391.078L833.101 22.438" clip-path="url(#pb84562664e)" style="fill: none; stroke: #b0b0b0; stroke-opacity: 0.3; stroke-width: 0.8; stroke-linecap: square"/></g><g id="line2d_65"><g><use href="#m1504cfccaf" x="833.101" y="391.078" style="stroke: #000000; stroke-width: 0.8"/></g></g><g id="text_18" transform="translate(-0.265 0.916)"><text style="font-size: 10px; font-family: 'DejaVu Sans', 'Liberation Sans', sans-serif; text-anchor: middle" x="832.685" y="405.477">400</text></g></g><g id="xtick_10"><g id="line2d_66"><path d="M926.701 391.078L926.701 22.438" clip-path="url(#pb84562664e)" style="fill: none; stroke: #b0b0b0; stroke-opacity: 0.3; stroke-width: 0.8; stroke-linecap: square"/></g><g id="line2d_67"><g><use href="#m1504cfccaf" x="926.701" y="391.078" style="stroke: #000000; stroke-width: 0.8"/></g></g><g id="text_19" transform="translate(0.227 1.198)"><text style="font-size: 10px; font-family: 'DejaVu Sans', 'Liberation Sans', sans-serif; text-anchor: middle" x="926.343" y="405.477">600</text></g></g><g id="xtick_11"><g id="line2d_68"><path d="M1020.301 391.078L1020.301 22.438" clip-path="url(#pb84562664e)" style="fill: none; stroke: #b0b0b0; stroke-opacity: 0.3; stroke-width: 0.8; stroke-linecap: square"/></g><g id="line2d_69"><g><use href="#m1504cfccaf" x="1020.301" y="391.078" style="stroke: #000000; stroke-width: 0.8"/></g></g><g id="text_20" transform="translate(0.143 1.09)"><text style="font-size: 10px; font-family: 'DejaVu Sans', 'Liberation Sans', sans-serif; text-anchor: middle" x="1020" y="405.477">800</text></g></g><g id="xtick_12"><g id="line2d_70"><path d="M1113.901 391.078L1113.901 22.438" clip-path="url(#pb84562664e)" style="fill: none; stroke: #b0b0b0; stroke-opacity: 0.3; stroke-width: 0.8; stroke-linecap: square"/></g><g id="line2d_71"><g><use href="#m1504cfccaf" x="1113.901" y="391.078" style="stroke: #000000; stroke-width: 0.8"/></g></g><g id="text_21" transform="translate(-0.209 1.043)"><text style="font-size: 10px; font-family: 'DejaVu Sans', 'Liberation Sans', sans-serif; text-anchor: middle" x="1113.658" y="405.477">1000</text></g></g><g id="text_22" transform="translate(0.229 1.522)"><text style="font-size: 10px; font-family: 'DejaVu Sans', 'Liberation Sans', sans-serif; text-anchor: middle" x="879.28" y="419.155">Epoch</text></g></g><g id="matplotlib.axis_4"><g id="ytick_40"><g id="line2d_72"><path d="M622.141 321.238L1136.941 321.238" clip-path="url(#pb84562664e)" style="fill: none; stroke: #b0b0b0; stroke-opacity: 0.3; stroke-width: 0.8; stroke-linecap: square"/></g><g id="line2d_73"><g><use href="#m5d545ce8f8" x="622.141" y="321.238" style="stroke: #000000; stroke-width: 0.8"/></g></g><g id="text_23" transform="translate(-0.464 2.951)"><g transform="translate(591.478 324.821)"><text><tspan x="0" y="-0.977" style="font-size: 10px; font-family: 'DejaVu Sans', 'Liberation Sans', sans-serif">1</tspan><tspan x="6.362" y="-0.977" style="font-size: 10px; font-family: 'DejaVu Sans', 'Liberation Sans', sans-serif">0</tspan><tspan x="12.82" y="-4.805" style="font-size: 7px; font-family: 'DejaVu Sans', 'Liberation Sans', sans-serif">−</tspan><tspan x="18.686" y="-4.805" style="font-size: 7px; font-family: 'DejaVu Sans', 'Liberation Sans', sans-serif">6</tspan></text></g></g></g><g id="ytick_41"><g id="line2d_74"><path d="M622.141 249.238L1136.941 249.238" clip-path="url(#pb84562664e)" style="fill: none; stroke: #b0b0b0; stroke-opacity: 0.3; stroke-width: 0.8; stroke-linecap: square"/></g><g id="line2d_75"><g><use href="#m5d545ce8f8" x="622.141" y="249.238" style="stroke: #000000; stroke-width: 0.8"/></g></g><g id="text_24" transform="translate(-0.436 1.731)"><g transform="translate(591.478 252.353)"><text><tspan x="0" y="-0.064" style="font-size: 10px; font-family: 'DejaVu Sans', 'Liberation Sans', sans-serif">1</tspan><tspan x="6.362" y="-0.064" style="font-size: 10px; font-family: 'DejaVu Sans', 'Liberation Sans', sans-serif">0</tspan><tspan x="12.82" y="-3.892" style="font-size: 7px; font-family: 'DejaVu Sans', 'Liberation Sans', sans-serif">−</tspan><tspan x="18.686" y="-3.892" style="font-size: 7px; font-family: 'DejaVu Sans', 'Liberation Sans', sans-serif">5</tspan></text></g></g></g><g id="ytick_42"><g id="line2d_76"><path d="M622.141 176.518L1136.941 176.518" clip-path="url(#pb84562664e)" style="fill: none; stroke: #b0b0b0; stroke-opacity: 0.3; stroke-width: 0.8; stroke-linecap: square"/></g><g id="line2d_77"><g><use href="#m5d545ce8f8" x="622.141" y="176.518" style="stroke: #000000; stroke-width: 0.8"/></g></g><g id="text_25" transform="translate(-0.4 2.107)"><g transform="translate(591.478 179.885)"><text><tspan x="0" y="-0.064" style="font-size: 10px; font-family: 'DejaVu Sans', 'Liberation Sans', sans-serif">1</tspan><tspan x="6.362" y="-0.064" style="font-size: 10px; font-family: 'DejaVu Sans', 'Liberation Sans', sans-serif">0</tspan><tspan x="12.82" y="-3.892" style="font-size: 7px; font-family: 'DejaVu Sans', 'Liberation Sans', sans-serif">−</tspan><tspan x="18.686" y="-3.892" style="font-size: 7px; font-family: 'DejaVu Sans', 'Liberation Sans', sans-serif">4</tspan></text></g></g></g><g id="ytick_43"><g id="line2d_78"><path d="M622.141 103.798L1136.941 103.798" clip-path="url(#pb84562664e)" style="fill: none; stroke: #b0b0b0; stroke-opacity: 0.3; stroke-width: 0.8; stroke-linecap: square"/></g><g id="line2d_79"><g><use href="#m5d545ce8f8" x="622.141" y="103.798" style="stroke: #000000; stroke-width: 0.8"/></g></g><g id="text_26" transform="translate(-0.455 2.804)"><g transform="translate(591.478 107.418)"><text><tspan x="0" y="-0.977" style="font-size: 10px; font-family: 'DejaVu Sans', 'Liberation Sans', sans-serif">1</tspan><tspan x="6.362" y="-0.977" style="font-size: 10px; font-family: 'DejaVu Sans', 'Liberation Sans', sans-serif">0</tspan><tspan x="12.82" y="-4.805" style="font-size: 7px; font-family: 'DejaVu Sans', 'Liberation Sans', sans-serif">−</tspan><tspan x="18.686" y="-4.805" style="font-size: 7px; font-family: 'DejaVu Sans', 'Liberation Sans', sans-serif">3</tspan></text></g></g></g><g id="ytick_44"><g id="line2d_80"><path d="M622.141 31.798L1136.941 31.798" clip-path="url(#pb84562664e)" style="fill: none; stroke: #b0b0b0; stroke-opacity: 0.3; stroke-width: 0.8; stroke-linecap: square"/></g><g id="line2d_81"><g><use href="#m5d545ce8f8" x="622.141" y="31.798" style="stroke: #000000; stroke-width: 0.8"/></g></g><g id="text_27" transform="translate(-0.387 2.548)"><g transform="translate(591.478 34.95)"><text><tspan x="0" y="-0.977" style="font-size: 10px; font-family: 'DejaVu Sans', 'Liberation Sans', sans-serif">1</tspan><tspan x="6.362" y="-0.977" style="font-size: 10px; font-family: 'DejaVu Sans', 'Liberation Sans', sans-serif">0</tspan><tspan x="12.82" y="-4.805" style="font-size: 7px; font-family: 'DejaVu Sans', 'Liberation Sans', sans-serif">−</tspan><tspan x="18.686" y="-4.805" style="font-size: 7px; font-family: 'DejaVu Sans', 'Liberation Sans', sans-serif">2</tspan></text></g></g></g><g id="ytick_45"><g id="line2d_82"><g><use href="#mc3d89a154a" x="622.141" y="372.358" style="stroke: #000000; stroke-width: 0.6"/></g></g></g><g id="ytick_46"><g id="line2d_83"><g><use href="#mc3d89a154a" x="622.141" y="359.398" style="stroke: #000000; stroke-width: 0.6"/></g></g></g><g id="ytick_47"><g id="line2d_84"><g><use href="#mc3d89a154a" x="622.141" y="350.038" style="stroke: #000000; stroke-width: 0.6"/></g></g></g><g id="ytick_48"><g id="line2d_85"><g><use href="#mc3d89a154a" x="622.141" y="342.838" style="stroke: #000000; stroke-width: 0.6"/></g></g></g><g id="ytick_49"><g id="line2d_86"><g><use href="#mc3d89a154a" x="622.141" y="337.798" style="stroke: #000000; stroke-width: 0.6"/></g></g></g><g id="ytick_50"><g id="line2d_87"><g><use href="#mc3d89a154a" x="622.141" y="332.758" style="stroke: #000000; stroke-width: 0.6"/></g></g></g><g id="ytick_51"><g id="line2d_88"><g><use href="#mc3d89a154a" x="622.141" y="328.438" style="stroke: #000000; stroke-width: 0.6"/></g></g></g><g id="ytick_52"><g id="line2d_89"><g><use href="#mc3d89a154a" x="622.141" y="324.838" style="stroke: #000000; stroke-width: 0.6"/></g></g></g><g id="ytick_53"><g id="line2d_90"><g><use href="#mc3d89a154a" x="622.141" y="299.638" style="stroke: #000000; stroke-width: 0.6"/></g></g></g><g id="ytick_54"><g id="line2d_91"><g><use href="#mc3d89a154a" x="622.141" y="286.678" style="stroke: #000000; stroke-width: 0.6"/></g></g></g><g id="ytick_55"><g id="line2d_92"><g><use href="#mc3d89a154a" x="622.141" y="278.038" style="stroke: #000000; stroke-width: 0.6"/></g></g></g><g id="ytick_56"><g id="line2d_93"><g><use href="#mc3d89a154a" x="622.141" y="270.838" style="stroke: #000000; stroke-width: 0.6"/></g></g></g><g id="ytick_57"><g id="line2d_94"><g><use href="#mc3d89a154a" x="622.141" y="265.078" style="stroke: #000000; stroke-width: 0.6"/></g></g></g><g id="ytick_58"><g id="line2d_95"><g><use href="#mc3d89a154a" x="622.141" y="260.038" style="stroke: #000000; stroke-width: 0.6"/></g></g></g><g id="ytick_59"><g id="line2d_96"><g><use href="#mc3d89a154a" x="622.141" y="255.718" style="stroke: #000000; stroke-width: 0.6"/></g></g></g><g id="ytick_60"><g id="line2d_97"><g><use href="#mc3d89a154a" x="622.141" y="252.118" style="stroke: #000000; stroke-width: 0.6"/></g></g></g><g id="ytick_61"><g id="line2d_98"><g><use href="#mc3d89a154a" x="622.141" y="226.918" style="stroke: #000000; stroke-width: 0.6"/></g></g></g><g id="ytick_62"><g id="line2d_99"><g><use href="#mc3d89a154a" x="622.141" y="214.678" style="stroke: #000000; stroke-width: 0.6"/></g></g></g><g id="ytick_63"><g id="line2d_100"><g><use href="#mc3d89a154a" x="622.141" y="205.318" style="stroke: #000000; stroke-width: 0.6"/></g></g></g><g id="ytick_64"><g id="line2d_101"><g><use href="#mc3d89a154a" x="622.141" y="198.118" style="stroke: #000000; stroke-width: 0.6"/></g></g></g><g id="ytick_65"><g id="line2d_102"><g><use href="#mc3d89a154a" x="622.141" y="192.358" style="stroke: #000000; stroke-width: 0.6"/></g></g></g><g id="ytick_66"><g id="line2d_103"><g><use href="#mc3d89a154a" x="622.141" y="187.318" style="stroke: #000000; stroke-width: 0.6"/></g></g></g><g id="ytick_67"><g id="line2d_104"><g><use href="#mc3d89a154a" x="622.141" y="183.718" style="stroke: #000000; stroke-width: 0.6"/></g></g></g><g id="ytick_68"><g id="line2d_105"><g><use href="#mc3d89a154a" x="622.141" y="180.118" style="stroke: #000000; stroke-width: 0.6"/></g></g></g><g id="ytick_69"><g id="line2d_106"><g><use href="#mc3d89a154a" x="622.141" y="154.918" style="stroke: #000000; stroke-width: 0.6"/></g></g></g><g id="ytick_70"><g id="line2d_107"><g><use href="#mc3d89a154a" x="622.141" y="141.958" style="stroke: #000000; stroke-width: 0.6"/></g></g></g><g id="ytick_71"><g id="line2d_108"><g><use href="#mc3d89a154a" x="622.141" y="132.598" style="stroke: #000000; stroke-width: 0.6"/></g></g></g><g id="ytick_72"><g id="line2d_109"><g><use href="#mc3d89a154a" x="622.141" y="126.118" style="stroke: #000000; stroke-width: 0.6"/></g></g></g><g id="ytick_73"><g id="line2d_110"><g><use href="#mc3d89a154a" x="622.141" y="120.358" style="stroke: #000000; stroke-width: 0.6"/></g></g></g><g id="ytick_74"><g id="line2d_111"><g><use href="#mc3d89a154a" x="622.141" y="115.318" style="stroke: #000000; stroke-width: 0.6"/></g></g></g><g id="ytick_75"><g id="line2d_112"><g><use href="#mc3d89a154a" x="622.141" y="110.998" style="stroke: #000000; stroke-width: 0.6"/></g></g></g><g id="ytick_76"><g id="line2d_113"><g><use href="#mc3d89a154a" x="622.141" y="107.398" style="stroke: #000000; stroke-width: 0.6"/></g></g></g><g id="ytick_77"><g id="line2d_114"><g><use href="#mc3d89a154a" x="622.141" y="82.198" style="stroke: #000000; stroke-width: 0.6"/></g></g></g><g id="ytick_78"><g id="line2d_115"><g><use href="#mc3d89a154a" x="622.141" y="69.238" style="stroke: #000000; stroke-width: 0.6"/></g></g></g><g id="ytick_79"><g id="line2d_116"><g><use href="#mc3d89a154a" x="622.141" y="60.598" style="stroke: #000000; stroke-width: 0.6"/></g></g></g><g id="ytick_80"><g id="line2d_117"><g><use href="#mc3d89a154a" x="622.141" y="53.398" style="stroke: #000000; stroke-width: 0.6"/></g></g></g><g id="ytick_81"><g id="line2d_118"><g><use href="#mc3d89a154a" x="622.141" y="47.638" style="stroke: #000000; stroke-width: 0.6"/></g></g></g><g id="ytick_82"><g id="line2d_119"><g><use href="#mc3d89a154a" x="622.141" y="42.598" style="stroke: #000000; stroke-width: 0.6"/></g></g></g><g id="ytick_83"><g id="line2d_120"><g><use href="#mc3d89a154a" x="622.141" y="38.278" style="stroke: #000000; stroke-width: 0.6"/></g></g></g><g id="ytick_84"><g id="line2d_121"><g><use href="#mc3d89a154a" x="622.141" y="34.678" style="stroke: #000000; stroke-width: 0.6"/></g></g></g><g id="text_28" transform="translate(-0.534 2.131)"><text style="font-size: 10px; font-family: 'DejaVu Sans', 'Liberation Sans', sans-serif; text-anchor: middle" x="585.398" y="206.598" transform="rotate(-90 585.398 206.598)">Loss</text></g></g><g id="line2d_122"><path d="M645.37 39.07L645.84 183.33L646.77 260.82L647.24 263.64L647.71 241.94L648.18 243.74L648.65 232.95L649.12 281.68L649.58 234.81L650.05 233.92L650.52 235.22L650.99 244.81L651.46 259.34L652.39 226.17L652.86 245.02L653.33 255.4L653.8 236.33L654.27 261.63L654.73 293.26L655.2 258.14L655.67 260.69L656.14 297.4L656.61 289.72L657.08 269.85L658.01 296.96L658.95 230.49L659.42 182.61L659.89 184.06L660.35 250.76L660.82 230.96L661.29 249.93L661.76 242.56L662.23 222.23L663.16 271.91L663.63 252.97L664.1 242.4L664.57 224.71L665.04 268.23L665.51 280.93L665.97 278.02L666.44 299.29L667.38 237.62L667.85 260.54L668.32 226.74L668.78 214.96L669.25 224.8L669.72 231.24L670.19 220.73L670.66 264.6L671.59 224.03L672.06 276.01L672.53 254.66L673 243.74L673.47 226.75L673.93 242.09L674.4 246L674.87 233.04L675.34 255.78L675.81 236.3L676.28 235.26L676.74 229.52L677.21 245.1L677.68 220.39L678.15 212.94L678.62 235.36L679.09 225.79L679.55 202.59L680.02 187.65L680.49 252L681.43 216.27L681.9 233.01L682.36 259.17L682.83 218.79L683.3 249.26L683.77 236.35L684.24 199.48L684.71 255.39L685.17 258.51L685.64 266.16L686.11 242.59L686.58 196.89L687.05 183.3L687.52 185.51L687.98 186.96L688.45 222.8L688.92 188.91L689.39 204.59L689.86 243.04L690.32 232.56L690.79 227.66L691.26 235L691.73 248.55L692.2 176.09L692.67 177.54L693.13 228.44L693.6 235.79L694.07 260.84L694.54 254.95L695.01 208.59L695.48 220.85L695.94 264.09L696.41 216.45L696.88 203.57L697.35 180.57L697.82 205.44L698.75 267.52L699.22 217.03L699.69 180.78L700.63 253.91L701.1 224.45L701.56 242.35L702.03 245.79L702.5 241.38L702.97 230.29L703.44 204.29L703.91 218.12L704.37 210.16L704.84 229.95L705.31 228.26L705.78 274.7L706.25 156.52L706.72 157.97L707.18 235.3L708.12 212.66L708.59 195.82L709.06 198.6L709.52 199.82L710.46 248.33L710.93 255.69L711.4 250.77L711.87 262.41L712.33 256.73L713.27 227.72L713.74 237.11L714.21 278.93L715.61 206.28L716.08 208.1L716.55 240.92L717.02 256.36L717.49 196.71L717.95 194.31L718.42 184.49L718.89 184.02L719.36 228.26L719.83 234.36L720.3 219.51L720.76 216.57L721.23 215.95L721.7 223.79L722.17 228.29L722.64 265.9L723.11 254.95L723.57 253.15L724.04 240.34L724.51 243.92L725.45 210.15L725.91 219.36L726.85 229.94L727.32 244.52L727.79 244.35L728.26 248.66L728.72 232.85L729.19 231.45L729.66 223.13L730.13 259.31L730.6 231.45L731.07 243.58L731.53 261.37L732 249.26L732.47 251.53L732.94 236.75L733.41 246.58L733.88 267.27L734.34 267.91L734.81 217.68L735.28 221.98L735.75 263.03L736.22 250.5L736.69 272.27L737.15 215.53L737.62 252.04L738.09 244.47L738.56 220.93L739.03 264.54L739.5 247.71L739.96 212.72L740.43 216.62L740.9 226.95L741.37 213.86L741.84 223.59L742.31 228.32L742.77 236.52L743.24 224.71L743.71 251.07L744.18 229.96L744.65 239.39L745.11 266.63L745.58 240.71L746.05 195L746.52 196.37L746.99 237.13L747.46 226.47L747.92 238.45L748.39 243.78L748.86 235.26L749.33 282.87L749.8 257.08L750.27 256.22L750.73 262.28L751.2 275.71L751.67 282.26L752.14 272.77L753.08 188.68L753.54 216.75L754.01 210.61L754.48 228.17L754.95 279.64L755.89 222.51L756.35 238.5L756.82 231.87L757.29 217.65L758.23 275.79L758.7 254.62L759.16 240.35L759.63 243.26L760.57 183.63L761.04 222.84L761.5 221.73L761.97 203.87L762.44 206.12L762.91 201.11L763.38 229.14L763.85 219.91L764.31 182.29L764.78 191.49L765.25 236.48L765.72 224.92L766.19 192.75L766.66 194.2L767.12 239.57L767.59 203.44L768.06 242.28L769 226.95L769.47 259.09L769.93 218.87L770.4 192.03L770.87 193.48L771.34 233.04L771.81 236.6L772.28 280.94L772.74 270.59L773.21 236.25L773.68 217.69L774.15 224.24L774.62 232.38L775.09 224.55L775.55 235.19L776.02 212.22L776.96 228.32L777.43 221.49L777.89 254.45L778.36 264.7L778.83 211.46L779.3 213.37L779.77 240.56L780.24 233.82L780.7 245.41L781.17 237.93L781.64 250.7L782.11 240.54L782.58 271.46L783.05 227.76L783.51 236.66L783.98 281.05L784.45 263.05L785.39 241.79L785.86 265.02L786.32 245.19L786.79 191.71L787.26 229.48L787.73 248L788.67 240.48L789.13 279.36L789.6 286.93L790.07 243.88L790.54 237.06L791.01 205.46L791.48 238.8L791.94 245.25L792.41 191.71L792.88 225.98L793.35 269.85L793.82 252.11L794.29 242.69L794.75 223.08L795.22 229.07L795.69 256.66L796.16 245.01L796.63 191.71L797.09 191.71L797.56 288.42L798.5 262.29L798.97 237.21L799.44 238.25L799.9 200.36L800.37 199.22L800.84 211.23L801.78 240.13L802.25 234.21L802.71 208.8L803.18 215.09L803.65 243.17L804.12 216.92L804.59 222.91L805.52 260.02L805.99 263.09L806.46 262.3L806.93 289.18L807.87 218.52L808.33 240.99L808.8 221.84L809.27 221.5L809.74 229.87L810.21 290.24L810.68 275.88L811.61 201.97L812.08 194.13L812.55 200L813.02 201.45L813.48 291.29L813.95 256.05L814.89 222.97L815.36 236.9L815.83 241.45L816.29 275.92L816.76 251.93L817.23 250.28L817.7 242.71L818.17 231.61L818.64 243.34L819.1 240.26L819.57 242.93L820.04 229.6L820.51 226.89L820.98 253.16L821.45 265.85L821.91 214.74L822.38 229.96L822.85 226.32L823.32 227.62L823.79 255.65L824.26 270.52L824.72 253.44L825.19 240.93L825.66 231.63L826.13 269.54L826.6 275.64L827.07 257.25L827.53 227.26L828 307.56L828.47 302.36L828.94 292.03L829.41 293.48L829.88 301.4L830.34 291.64L830.81 257.79L831.75 276.71L832.22 275.37L832.68 294.71L833.15 281.99L833.62 284.12L834.09 228.99L834.56 230.44L835.03 289.67L835.49 272.96L835.96 279.06L836.43 294.95L836.9 262.25L837.37 251.95L837.84 251.07L838.3 261.41L838.77 282.16L839.24 294L839.71 294.31L840.18 270.22L840.65 274.67L841.11 310.22L841.58 299.43L842.05 310.48L842.52 295.55L842.99 305.32L843.46 317.87L843.92 295.24L844.39 287L844.86 315.28L845.33 288.19L845.8 242.73L846.27 293.62L846.73 265.67L847.67 301.15L848.14 294.29L848.61 312.95L849.07 275.88L849.54 264.77L850.01 295.85L850.48 298.39L850.95 315.25L851.42 306.1L851.88 272.56L852.35 308.59L852.82 309.43L854.23 250.92L854.69 283.66L855.16 304.26L855.63 286.48L856.1 290.44L856.57 297.97L857.5 248.91L858.44 297.11L858.91 283.2L859.38 315.92L859.85 301.65L860.31 298.39L860.78 238.67L861.25 237.53L861.72 265.38L862.19 277.31L862.66 310.82L863.12 284.28L863.59 235.9L864.06 273.36L864.53 268.71L865 253.95L865.47 294.83L865.93 271.68L866.4 238.85L867.34 273.73L867.81 259.76L868.27 293.88L868.74 285.96L869.21 252.82L869.68 286.51L870.15 267.13L870.62 272.88L871.08 310.01L871.55 293.55L872.02 291.47L872.49 277.03L872.96 291.18L873.43 264.98L873.89 277.68L874.36 274.27L874.83 280.98L875.3 284.36L875.77 253.58L876.24 257.86L877.17 298.09L877.64 263.19L878.11 247.78L878.58 272.86L879.05 272.02L879.51 288.79L879.98 299.17L880.45 295.84L880.92 274.42L881.39 264.05L881.86 283.35L882.79 250.47L883.26 262.04L884.2 239.13L884.66 240.58L885.13 264.79L885.6 268.97L886.07 257.59L886.54 287.23L887.01 257.05L887.47 273.93L887.94 282.06L888.41 297.19L888.88 274.14L889.35 241.54L889.82 238.85L890.28 245.5L890.75 291.6L891.22 298.61L891.69 286.7L892.16 291.89L892.63 259.35L893.09 257.52L893.56 270.86L894.03 262.77L894.5 283.98L894.97 295.28L895.44 294.42L895.9 270.85L896.37 260.27L896.84 257.1L897.31 244.85L897.78 285.51L898.25 292.53L898.71 282.79L899.18 310.77L899.65 318.44L900.12 292.25L900.59 285.95L901.06 296.34L901.52 315.25L901.99 327.15L902.46 310.1L902.93 322.26L903.4 322.53L903.86 302.37L904.8 335.06L905.27 328.96L905.74 316.05L906.21 313.25L906.67 319.07L907.14 315.53L907.61 342L908.08 346.35L908.55 328.58L909.02 336.03L909.48 348.32L909.95 349.28L910.42 344.76L910.89 333.49L911.36 339.58L911.83 328.94L912.29 298.16L912.76 314.94L913.23 307.44L913.7 311.61L914.17 338.04L914.64 336.03L915.1 339.82L915.57 321.5L916.04 335.53L916.51 314.51L916.98 307.13L917.45 347.95L917.91 328.73L918.38 296.61L918.85 326.08L919.32 317.06L919.79 342.65L920.25 334.27L920.72 345.65L921.19 330.51L921.66 345.87L922.13 352.52L922.6 336.41L923.06 290.3L923.53 314.95L924.47 313.84L924.94 324.45L925.41 313.48L925.87 288.42L926.34 324.8L926.81 319.63L927.28 306.99L927.75 338.74L928.22 301.74L928.68 276.64L929.15 318.22L929.62 294.88L930.09 301.17L930.56 320.68L931.03 291.76L931.96 310.2L932.43 286.81L932.9 279.86L933.37 289.41L933.84 333.51L934.3 352.17L934.77 311.81L935.24 323.97L935.71 323.15L936.18 334.06L936.65 329.57L937.11 339.91L937.58 299.35L938.05 321.2L938.52 327.99L938.99 321.85L939.45 296.93L939.92 330.85L940.39 329.64L940.86 321.33L941.33 309.69L941.8 303.8L942.26 321.25L942.73 317.43L943.2 321.62L943.67 312.23L944.14 315L944.61 328.73L945.07 323.08L945.54 310.78L946.01 275.29L946.48 305.23L946.95 316.11L947.42 286.83L947.88 338.7L948.35 351.09L948.82 350.03L949.29 328.39L949.76 275L950.23 286.71L950.69 290.58L951.16 309.75L951.63 350.83L952.1 350.8L952.57 319.03L953.04 303.73L953.5 336.02L953.97 307.91L954.44 332.34L954.91 309.78L955.38 278.66L955.84 317.19L956.31 340.34L956.78 311.04L957.25 327.21L957.72 310.51L958.19 328.6L958.65 312.4L959.12 306.96L959.59 322.44L960.06 334.01L960.53 319.56L961 344.51L961.46 335.66L961.93 324.63L962.4 307.03L962.87 330.64L963.34 295.56L963.81 305.7L964.27 336.59L964.74 300.52L965.21 273.81L966.15 331.51L966.62 322.59L967.08 326.6L967.55 326.16L968.02 289.26L968.49 293.57L968.96 309.13L969.43 307.64L969.89 313.32L970.36 300.17L970.83 290.97L971.3 314.06L971.77 316.61L972.23 273.27L972.7 284.65L973.17 314.76L973.64 278.44L974.11 295.78L974.58 332.68L975.04 312.86L975.51 324.21L975.98 330.36L976.45 313.76L976.92 314.54L977.39 328.44L977.85 330.13L978.32 329.11L978.79 298.88L979.26 317.43L979.73 330.13L980.2 282.29L980.66 306.48L981.6 276.49L982.54 339.12L983.47 298.32L983.94 290.71L984.41 304.78L985.35 277.77L985.82 320.96L986.28 298.26L986.75 298.51L987.22 322.87L987.69 324.83L988.16 282.93L988.63 279.08L989.09 335.95L989.56 328.18L990.03 316.79L990.5 319.15L990.97 324.83L991.43 342.59L991.9 312.72L992.37 323.35L992.84 328.64L993.31 327.81L993.78 331.67L994.24 308.09L994.71 301.03L995.18 322.93L995.65 335.71L996.12 330.27L996.59 301.46L997.05 303.77L997.52 309.66L997.99 318.61L998.46 321.97L998.93 313.58L999.4 342.95L999.86 302.25L1000.33 314.88L1000.8 330.6L1001.27 295.41L1001.74 298.46L1002.67 324.21L1003.14 344.83L1003.61 324.74L1004.08 291.02L1004.55 320.05L1005.02 298.06L1005.48 322.35L1005.95 335.96L1006.42 312.61L1006.89 310.47L1007.36 302.24L1008.29 337.64L1008.76 349.16L1009.23 349.16L1009.7 342.03L1010.17 346.62L1010.63 321.7L1011.1 323.37L1011.57 349.16L1012.04 287.23L1012.51 307.58L1012.98 341.95L1013.44 303.72L1013.91 281.67L1014.38 324.31L1014.85 347.97L1015.32 342.98L1015.79 303.39L1016.25 310.46L1016.72 330.63L1017.19 322.14L1017.66 292.86L1018.13 327.81L1018.6 332.46L1019.06 340.4L1019.53 287.4L1020 273.19L1020.47 280.23L1020.94 308.74L1021.41 304.01L1021.87 343.43L1022.34 327.46L1022.81 334.2L1023.28 346.87L1024.22 326.2L1024.68 307.44L1025.15 296.35L1025.62 303.37L1026.09 327.85L1026.56 311L1027.02 310.73L1027.49 293.73L1028.43 348.66L1028.9 344.39L1029.37 278.71L1029.83 285.61L1030.3 313.86L1030.77 299.8L1031.24 296.79L1031.71 301.13L1032.18 319.02L1032.64 317.36L1033.11 309.95L1034.05 337.4L1034.52 321.08L1034.99 294.82L1035.45 293.04L1035.92 298.91L1036.39 300.13L1036.86 272.19L1037.33 285.02L1037.8 292.14L1038.26 272.11L1038.73 294.72L1039.2 308.61L1040.14 272.49L1040.61 292.25L1041.07 304.2L1041.54 308.82L1042.01 332.45L1042.48 304.21L1042.95 308.1L1043.41 221.74L1043.88 223.19L1044.35 342.52L1044.82 343.6L1045.29 321.41L1045.76 328.17L1046.22 302.07L1046.69 328.44L1047.16 321L1048.1 280.66L1048.57 282.25L1049.03 300.22L1049.5 309.53L1049.97 313.53L1050.44 292.31L1050.91 314.57L1051.38 309.48L1051.84 309.93L1052.31 309.39L1052.78 315.31L1053.25 275.29L1053.72 305.21L1054.19 314.14L1054.65 305.29L1055.12 298.8L1055.59 298.61L1056.06 300.54L1056.53 290.28L1057 328.94L1057.46 324.58L1057.93 332.31L1058.4 318.79L1058.87 329.66L1059.34 337.38L1059.81 321.2L1060.27 286.8L1060.74 288.47L1061.21 301.41L1061.68 283.22L1062.61 346.63L1063.08 335.83L1063.55 320.15L1064.02 291.64L1064.49 270.55L1064.96 316.38L1065.42 278.07L1065.89 270.46L1066.36 281.61L1066.83 297.25L1067.3 270.38L1067.77 287.68L1068.23 318.95L1068.7 313.56L1069.17 332.73L1069.64 315.33L1070.11 309.48L1070.58 306.64L1071.04 301.91L1071.51 325.86L1071.98 296.94L1072.45 317.46L1072.92 304.52L1073.39 330.07L1073.85 318.47L1074.32 321.78L1074.79 317.48L1075.26 321.65L1075.73 345.85L1076.2 345.82L1077.13 299.02L1077.6 329.92L1078.07 345.71L1078.54 342.29L1079 321.69L1079.47 323.12L1079.94 329.28L1080.41 302.82L1080.88 285.02L1081.35 297.58L1081.81 334.66L1082.75 344.29L1083.22 360.03L1083.69 340.17L1084.16 335.29L1084.62 347.57L1085.09 326.55L1085.56 322.52L1086.03 325.7L1086.5 320.42L1086.97 324.62L1087.43 352.93L1087.9 354.25L1088.37 331.51L1088.84 345.58L1089.31 346.5L1089.78 336.83L1090.24 320.26L1090.71 315.13L1091.18 321.52L1091.65 338.92L1092.12 331.35L1092.59 329.14L1093.05 341.1L1093.52 325.2L1093.99 326.61L1094.46 348.38L1094.93 330.47L1095.4 337.38L1095.86 336.19L1096.33 356.67L1096.8 351.54L1097.27 353.55L1098.2 364.5L1098.67 326.46L1099.14 330.07L1099.61 340.34L1100.08 325.94L1100.55 336.7L1101.01 336.43L1101.48 355.27L1101.95 348.15L1102.42 346.23L1102.89 338.6L1103.36 336.74L1103.82 357.5L1104.29 364.5L1104.76 364.5L1105.23 339.48L1105.7 331.85L1106.17 334.26L1106.63 363.53L1107.1 360.97L1107.57 355.73L1108.04 333.25L1108.51 329.97L1108.98 310.42L1109.44 311.71L1109.91 332.58L1110.38 336.21L1110.85 317.83L1111.32 310.77L1111.79 314.51L1112.25 272.39L1112.72 298.34L1113.19 316.67L1113.19 316.67" clip-path="url(#pb84562664e)" style="fill: none; stroke: #1f77b4; stroke-opacity: 0.8; stroke-width: 1.6; stroke-linecap: square"/></g><g id="line2d_123"><path d="M645.37 67.46L645.84 190.58L646.31 231.16L646.77 256.85L647.24 254.44L647.71 241.13L648.18 290.83L648.65 313.37L649.58 196.55L650.05 168.84L650.52 170.29L650.99 298.46L651.46 242.58L651.93 296.79L652.39 276.01L652.86 278.99L653.33 277.54L653.8 224.52L654.27 255.16L654.73 228.91L655.2 254.61L655.67 303.4L656.14 296.69L656.61 244.1L657.08 251.44L657.54 289.14L658.01 287.69L658.48 297.72L658.95 221.27L659.42 189.13L659.89 190.58L660.35 246.21L661.29 293.41L661.76 266.85L662.23 223.57L662.7 231.22L663.16 295.49L663.63 267.46L664.1 313.05L664.57 311.6L665.04 265.46L665.51 279.57L665.97 261.37L666.44 277.94L666.91 258.92L667.38 257.97L667.85 176.09L668.32 177.54L668.78 278.55L669.25 248.2L669.72 239.69L670.19 213.5L670.66 254.57L671.13 252.68L671.59 229.56L672.06 266.42L672.53 264.2L673 292.47L673.47 212.51L673.93 259.77L674.4 169.93L674.87 171.38L675.34 237.47L675.81 222.91L676.28 215.31L676.74 197.62L677.21 224.7L677.68 176.95L678.62 245.55L679.09 238.19L679.55 233.26L680.02 203.15L680.49 213.29L680.96 308.7L681.43 307.25L681.9 228.4L682.36 233.81L682.83 175.72L683.77 221.7L684.24 218.47L684.71 250.45L685.17 255.21L685.64 292.19L686.11 258.1L686.58 215.24L687.05 201.05L687.52 259.66L688.45 193.19L688.92 175.85L689.86 272.67L690.79 229.12L691.73 253.87L692.2 184.78L692.67 186.23L693.13 250.96L693.6 257.95L694.07 273.96L694.54 253.31L695.01 243.03L695.48 244.18L695.94 155.51L696.41 156.95L696.88 235.58L697.35 221.81L697.82 220.43L698.29 299.28L698.75 297.83L699.22 217.86L699.69 216.3L700.16 208.67L700.63 226.14L701.1 216.51L701.56 229.81L702.03 264.21L702.5 260.14L702.97 231.06L703.44 188.87L703.91 211.77L704.37 290.66L704.84 274.55L705.31 226.65L705.78 229.9L706.25 181.88L706.72 183.33L707.18 175.46L707.65 182.3L708.12 184.24L708.59 230.88L709.52 189.21L709.99 233.59L710.46 238.48L710.93 234.63L711.4 253.55L711.87 263.83L712.33 259.27L712.8 238.34L713.27 239.18L713.74 230.86L714.21 296.97L714.68 279.7L715.14 274.74L715.61 302.91L716.08 301.46L717.02 177.54L717.49 178.98L717.95 172.72L718.42 210.33L718.89 182.7L719.36 257.47L719.83 265.24L720.3 228.6L720.76 242.72L721.23 229.7L721.7 210.9L722.17 252.2L722.64 274.35L723.11 260.95L723.57 299.15L724.04 268.1L724.51 264.47L724.98 309.43L725.45 307.98L725.91 198.3L726.38 223.9L726.85 196.17L727.32 209.91L727.79 177.54L728.26 178.98L728.72 206.72L729.19 193.17L729.66 174.43L730.13 242.96L730.6 268.65L731.07 300.98L731.53 296.04L732 235.16L732.47 232.33L732.94 232.72L733.41 253.19L733.88 279.37L734.34 274.98L734.81 221.16L735.28 265.92L735.75 261.4L736.22 169.93L736.69 171.38L737.15 241.95L737.62 266.3L738.09 273.72L738.56 267.96L739.03 277.8L739.5 275.32L739.96 179.74L740.43 207.77L740.9 253.39L741.37 244.73L741.84 300.01L742.31 298.56L742.77 274.07L743.24 227.65L743.71 280.82L744.18 252.52L744.65 269.52L745.11 275.06L746.05 196.05L746.52 196.66L746.99 308.7L747.46 307.25L747.92 241.06L748.39 241.59L748.86 218.41L749.33 272.24L749.8 286.49L750.27 253.5L751.2 299.41L751.67 299.61L752.14 257.29L752.61 226.81L753.08 260.09L753.54 234.59L754.01 181.88L754.48 183.33L754.95 260.83L755.42 254.36L755.89 216.81L756.35 213.89L756.82 181.88L757.29 183.33L757.76 240.79L758.23 242.78L758.7 274.64L759.16 265.09L760.57 190.49L761.04 204.93L761.5 206.86L761.97 167.39L762.44 168.84L762.91 215.63L763.38 194.09L763.85 162.32L764.31 163.77L764.78 208.78L765.25 205.41L765.72 180.62L766.19 186.64L766.66 199.17L767.12 249.56L767.59 210.98L768.06 254.55L768.53 249.96L769 236.48L769.47 266.2L769.93 280.58L770.4 265.1L770.87 253.45L771.34 234.12L772.28 264.09L772.74 241.67L773.21 211.66L773.68 235.31L774.62 244.15L775.09 255.5L775.55 283.33L776.02 242.68L776.49 249.74L776.96 194.9L777.43 207.31L777.89 258.68L778.36 271.19L778.83 184.64L779.77 257.76L780.24 314.5L780.7 313.05L781.17 243.93L781.64 225.62L782.11 263.55L782.58 281.57L783.05 198.12L783.51 196.38L783.98 197.83L784.45 281.82L784.92 305.27L785.39 277.54L785.86 235.14L786.32 244.68L786.79 234.75L787.26 251.82L787.73 244.48L788.2 223.02L788.67 211.78L789.13 266.51L789.6 269.85L790.07 283.32L790.54 236.97L791.01 203.24L791.48 215.99L791.94 210.57L792.41 321.02L792.88 184.78L793.35 186.23L793.82 305.77L794.29 272.53L794.75 230.33L795.22 259.64L795.69 251.39L796.16 236.87L796.63 191.67L797.09 218.04L797.56 305.77L798.03 270.41L798.5 310.88L798.97 309.43L799.44 253.65L799.9 228.05L800.37 222.39L800.84 237.53L801.31 287.32L801.78 160.58L802.25 162.03L802.71 247.44L803.18 237.77L803.65 243.58L804.12 262.23L804.59 223L805.06 215.67L805.52 232.37L805.99 221.74L806.93 306.53L807.4 279.69L807.87 195.39L808.33 202.93L808.8 230.65L809.27 239.75L809.74 231.7L810.21 307.59L810.68 304.82L811.14 262.57L811.61 189.19L812.08 203.54L812.55 182.8L813.02 235.51L813.48 308.64L813.95 223.63L814.42 239.58L814.89 229.76L815.36 195.98L815.83 238.15L816.29 303.48L816.76 242.92L817.23 238.15L817.7 273.97L818.17 277.95L818.64 268.42L819.1 227.29L819.57 242.36L820.04 226.04L820.51 190.46L820.98 205.78L821.45 215.03L821.91 185.14L822.38 261.1L822.85 226.22L823.32 215.16L824.26 292.53L824.72 203.62L825.19 205.07L826.13 292.95L826.6 302.19L827.07 280.96L827.53 232.81L828 298.94L828.47 306.73L828.94 279.53L829.41 292.64L829.88 296.88L830.34 314.36L830.81 282.95L831.28 281.34L831.75 350.73L832.22 349.28L833.15 314.95L833.62 312.78L834.09 298.8L834.56 279.71L835.03 318.77L835.49 293.83L835.96 301.94L836.43 305.6L836.9 292.26L837.37 313.34L837.84 273.77L838.3 266.93L838.77 318.55L839.24 350.01L840.18 319.51L840.65 313.52L841.11 312.4L841.58 277.84L842.05 313.66L842.52 286.62L842.99 281.09L843.46 322.77L843.92 342.67L844.39 303.92L844.86 305.58L845.33 250.87L845.8 246.73L846.27 279L846.73 247.2L847.2 305.36L847.67 319.74L848.14 312.39L848.61 292.29L849.07 267.35L849.54 339.8L850.01 313.18L850.48 315.99L850.95 318.02L851.42 318.96L851.88 294.34L852.35 305.9L852.82 310.74L853.29 320.59L853.76 270.86L854.23 257.2L854.69 298.27L855.16 303.74L855.63 307.32L856.1 273.79L856.57 287.81L857.04 282.88L857.5 264.28L857.97 305.38L858.44 334.39L858.91 301.26L859.38 305.51L859.85 271.83L860.31 276.35L860.78 272.48L861.25 254.38L861.72 250.69L862.19 213.04L862.66 214.49L863.12 304.29L863.59 241.55L864.06 281.27L864.53 270.93L865 289.71L865.47 293.46L865.93 284.59L866.4 240.63L866.87 243.48L867.34 244.93L868.27 318.95L868.74 310.31L869.21 259.59L869.68 274.82L870.15 267.21L870.62 269.95L871.08 292.45L871.55 275.06L872.02 251.41L872.49 264.91L872.96 287.39L873.89 320.4L874.36 302.48L874.83 310.16L875.3 292.28L875.77 241.18L876.7 294.15L877.17 308.33L877.64 273.9L878.11 270.64L878.58 274.8L879.05 266.86L879.51 280.26L879.98 279.67L880.45 286.49L880.92 275.9L881.39 234.49L881.86 269.29L882.32 257.5L882.79 253.44L883.26 279.26L883.73 277.09L884.2 293.76L884.66 288.01L885.13 283.74L885.6 288.36L886.07 246.93L886.54 279.5L887.01 245.2L887.47 261.72L887.94 264.99L888.41 297.66L888.88 219.57L889.35 221.02L889.82 220.11L890.28 217.76L890.75 219.2L891.22 278.52L891.69 226.81L892.16 228.26L892.63 268.61L893.09 246.25L893.56 276.53L894.03 278.76L894.5 293.38L894.97 299.58L895.44 315.1L895.9 311.97L896.37 284.35L896.84 299.57L897.31 293.65L897.78 306.52L898.25 315.38L898.71 292.51L899.18 315.12L899.65 243.48L900.12 244.93L900.59 324.4L901.06 308.36L901.52 313.41L901.99 335.63L902.46 318.3L902.93 322.92L903.4 324.94L903.86 289.05L904.33 321.34L904.8 334.54L905.27 324.05L905.74 324.98L906.21 340.83L906.67 325.05L907.14 314.89L907.61 339.95L908.08 344.71L908.55 332.81L909.02 350.08L909.48 348.85L909.95 365.82L910.42 356.73L910.89 356.77L911.36 355.55L911.83 325.91L912.29 311.38L912.76 333.4L913.23 284.06L913.7 285.51L914.17 347.3L914.64 346.69L915.1 322.77L915.57 306.94L916.04 327.2L916.51 337.92L916.98 318.98L917.45 360.1L917.91 336.19L918.38 325.93L918.85 310.7L919.32 336.37L919.79 338.55L920.25 317.07L920.72 363.89L921.19 350.31L921.66 327.81L922.13 337.8L922.6 353.4L923.06 325.93L923.53 343.7L924 345.47L924.47 338.76L924.94 306.6L925.41 305.74L925.87 307.57L926.34 336.07L927.28 297.7L927.75 348.55L928.22 294.42L928.68 297.04L929.15 338.62L930.09 275.92L930.56 317.3L931.03 305L931.49 284.68L931.96 294.94L932.43 275.76L932.9 268.63L933.37 290.37L933.84 322.66L934.3 329.31L935.24 298.93L935.71 347.91L936.18 367.38L936.65 315.11L937.11 320.19L937.58 320.62L938.05 325.92L938.52 308.12L938.99 327.53L939.45 301L939.92 329.05L940.39 335.43L940.86 328.94L941.33 298.19L941.8 325.62L942.26 342.12L942.73 315.09L943.2 341.69L943.67 357.38L944.14 326.36L944.61 327.06L945.07 330.35L945.54 318.46L946.01 310.4L946.48 268.69L946.95 314.19L947.42 321.47L947.88 365.67L948.35 366.57L948.82 255.8L949.29 257.25L950.23 306.87L950.69 275.25L951.16 298.09L951.63 366.31L952.1 359.76L952.57 324.72L953.04 306.57L953.5 329.22L953.97 311.14L954.44 329.57L954.91 333.17L955.38 333.61L955.84 319.62L956.31 333.6L956.78 365.23L957.25 363.78L957.72 217.76L958.19 219.2L958.65 305.85L959.12 318.58L960.06 362.52L960.53 346.07L961 352.74L961.93 331.67L962.4 328.59L962.87 347.46L963.34 314.92L963.81 309.82L964.27 336.44L964.74 279.85L965.21 271.66L966.15 342.8L966.62 314.68L967.55 364.89L968.49 305.09L968.96 332.46L969.43 303.19L969.89 308.95L970.36 338.7L970.83 324.4L971.3 289.08L971.77 322.51L972.23 324.05L972.7 304.29L973.17 291.61L973.64 265.51L974.11 305.61L974.58 333.6L975.04 312.61L975.51 303.56L975.98 281.23L976.45 302.56L976.92 297.65L977.39 326.03L977.85 325.34L978.32 342.13L979.26 323.03L979.73 343.67L980.2 291.35L980.66 318.51L981.13 310.69L981.6 296.82L982.07 322.78L982.54 338.99L983.47 265.51L983.94 298.53L984.41 320.87L984.88 306.97L985.35 316.33L985.82 328.82L986.75 320.95L987.22 305.13L987.69 351.85L988.63 286.59L989.09 348.38L990.03 311.69L990.5 327.62L990.97 309.88L991.43 352.38L991.9 320.79L992.37 326.17L992.84 350.67L993.31 342.36L993.78 340.56L994.24 304.97L994.71 331.82L995.18 342.95L995.65 345.22L996.12 308.27L996.59 319.46L997.05 304.85L997.52 339.19L998.46 326.14L998.93 315.31L999.4 349.61L999.86 227.25L1000.33 228.7L1000.8 323.78L1001.27 292.12L1002.21 362.33L1002.67 360.88L1003.14 360.96L1003.61 355.07L1004.08 295.09L1004.55 276.92L1005.02 310.73L1005.48 330.48L1005.95 317.61L1006.42 270.32L1006.89 341.93L1007.36 332.49L1007.82 314.05L1008.29 357.01L1008.76 354.05L1009.7 327.28L1010.17 347.7L1010.63 324.94L1011.57 342.92L1012.04 294.95L1012.51 323.14L1012.98 244.93L1013.44 246.38L1013.91 265.51L1014.38 302.43L1014.85 348.74L1015.32 371.75L1015.79 370.3L1016.25 289.05L1016.72 341.12L1017.19 333.66L1017.66 304.58L1018.13 333.36L1018.6 351.68L1019.06 326.83L1019.53 280.29L1020 283.81L1020.47 329.93L1020.94 341.45L1021.41 320.89L1021.87 327.39L1022.34 329.73L1022.81 320.05L1023.28 332.48L1024.22 364.4L1024.68 360.33L1025.62 330.17L1026.09 326.57L1027.02 244.21L1027.49 245.66L1028.43 332.22L1028.9 343.73L1029.37 305.09L1029.83 329.3L1030.3 321.76L1031.24 275.04L1031.71 275.61L1032.18 297.63L1032.64 290.94L1033.58 336.82L1034.05 368.85L1034.52 367.4L1034.99 322.42L1035.45 314.58L1035.92 300.91L1036.39 252.9L1036.86 254.35L1037.33 319.14L1037.8 278.07L1038.73 337.17L1039.2 323.42L1039.67 329.54L1040.14 316.01L1040.61 310.1L1041.07 336.12L1041.54 323.43L1042.01 323.74L1042.48 332.25L1042.95 326.91L1043.41 221.52L1043.88 222.97L1044.35 333.91L1044.82 326.11L1045.29 323.76L1045.76 314.86L1046.22 295.04L1046.69 343.13L1047.16 324.35L1047.63 288.96L1048.1 273.24L1048.57 303.11L1049.03 307.94L1049.5 285.72L1049.97 301.77L1050.44 279.78L1050.91 283.51L1051.38 304.78L1051.84 304.49L1052.31 315.83L1052.78 302.87L1053.25 284.62L1053.72 324.21L1054.19 324.58L1054.65 315.32L1055.12 302.45L1055.59 296.24L1056.06 326.94L1056.53 325.96L1057 329L1057.46 247.1L1057.93 248.55L1058.4 271.18L1058.87 284.56L1059.34 327.14L1059.81 311.68L1060.27 267.42L1060.74 281.52L1061.21 337.46L1061.68 313.1L1062.15 318.84L1062.61 308.62L1063.08 346.51L1063.55 311.68L1064.02 291.46L1064.49 265.47L1064.96 317.37L1065.42 293.51L1065.89 262.78L1066.36 283.74L1066.83 362.33L1067.3 360.88L1067.77 309.21L1068.23 328.8L1068.7 328.21L1069.17 248.55L1069.64 250L1070.11 323.58L1070.58 351L1071.98 269.65L1072.45 285.11L1072.92 274.31L1073.39 330.77L1073.85 325.17L1074.32 361.41L1074.79 352.5L1075.26 318.17L1075.73 361.33L1076.2 361.3L1076.66 360.08L1077.13 315.91L1077.6 305.86L1078.07 290.73L1078.54 242.03L1079 243.48L1079.47 361.11L1079.94 344.71L1080.41 287.59L1080.88 318.39L1081.81 346.64L1082.28 344.91L1082.75 350.03L1083.22 353.71L1083.69 326.58L1084.62 339.56L1085.09 308.39L1086.03 355.49L1086.5 331.53L1086.97 374.13L1087.43 372.68L1087.9 339.19L1088.37 335.41L1088.84 337.97L1089.31 351.15L1090.24 320.65L1090.71 319.08L1091.18 309.62L1091.65 318.9L1092.12 339.24L1092.59 328.55L1093.05 360.31L1093.99 308.39L1094.46 323.65L1094.93 326.58L1095.4 337.64L1095.86 329.1L1096.33 355.89L1096.8 346.39L1097.27 352.48L1097.74 363.73L1098.2 365.53L1098.67 334.23L1099.14 359.41L1099.61 326.7L1100.08 317.27L1100.55 361.52L1101.01 337.7L1101.48 348.08L1101.95 346.88L1102.42 336.64L1102.89 349.64L1103.36 374.13L1103.82 374.13L1104.29 363.18L1104.76 347.24L1105.23 346.54L1105.7 346.8L1106.17 335.66L1106.63 361.16L1107.1 373.18L1107.57 348.45L1108.04 262.32L1108.51 263.77L1108.98 314.75L1109.44 320.84L1110.38 345.22L1111.32 288.2L1111.79 277.65L1112.25 275.37L1112.72 276.82L1113.19 339.14L1113.19 339.14" clip-path="url(#pb84562664e)" style="fill: none; stroke: #ff7f0e; stroke-opacity: 0.8; stroke-width: 1.6; stroke-linecap: square"/></g><g id="patch_9"><path d="M622.141 391.078L622.141 22.438" style="fill: none; stroke: #000000; stroke-width: 0.8; stroke-linejoin: miter; stroke-linecap: square"/></g><g id="patch_10"><path d="M1136.941 391.078L1136.941 22.438" style="fill: none; stroke: #000000; stroke-width: 0.8; stroke-linejoin: miter; stroke-linecap: square"/></g><g id="patch_11"><path d="M622.141 391.078L1136.941 391.078" style="fill: none; stroke: #000000; stroke-width: 0.8; stroke-linejoin: miter; stroke-linecap: square"/></g><g id="patch_12"><path d="M622.141 22.438L1136.941 22.438" style="fill: none; stroke: #000000; stroke-width: 0.8; stroke-linejoin: miter; stroke-linecap: square"/></g><g id="text_29" transform="translate(0.524 0.315)"><text style="font-size: 12px; font-family: 'DejaVu Sans', 'Liberation Sans', sans-serif; text-anchor: middle" x="879.28" y="16.318">Data Loss</text></g><g id="legend_2"><g id="patch_13"><path d="M1048.38 60.6L1129.74 60.6Q1131.9 60.6 1131.9 59.16L1131.9 29.64Q1131.9 27.48 1129.74 27.48L1048.38 27.48Q1046.22 27.48 1046.22 29.64L1046.22 59.16Q1046.22 60.6 1048.38 60.6z" style="fill: #ffffff; opacity: 0.8; stroke: #cccccc; stroke-linejoin: miter"/></g><g id="line2d_124"><path d="M1050.181 35.758L1060.261 35.758L1070.341 35.758" style="fill: none; stroke: #1f77b4; stroke-opacity: 0.8; stroke-width: 1.5; stroke-linecap: square"/></g><g id="text_30" transform="translate(0.376 1.284)"><text style="font-size: 10px; font-family: 'DejaVu Sans', 'Liberation Sans', sans-serif; text-anchor: start" x="1078.2" y="38.917">Training</text></g><g id="line2d_125"><path d="M1050.181 50.878L1060.261 50.878L1070.341 50.878" style="fill: none; stroke: #ff7f0e; stroke-opacity: 0.8; stroke-width: 1.5; stroke-linecap: square"/></g><g id="text_31" transform="translate(-0.39 1.423)"><text style="font-size: 10px; font-family: 'DejaVu Sans', 'Liberation Sans', sans-serif; text-anchor: start" x="1078.2" y="53.595">Validation</text></g></g></g><g id="axes_3"><g id="patch_14"><path d="M51.541 817.678L566.341 817.678L566.341 449.038L51.541 449.038z" style="fill: #ffffff"/></g><g id="matplotlib.axis_5"><g id="xtick_13"><g id="line2d_126"><path d="M74.941 818.038L74.941 449.398" clip-path="url(#p14eb2305f6)" style="fill: none; stroke: #b0b0b0; stroke-opacity: 0.3; stroke-width: 0.8; stroke-linecap: square"/></g><g id="line2d_127"><g><use href="#m1504cfccaf" x="74.941" y="818.038" style="stroke: #000000; stroke-width: 0.8"/></g></g><g id="text_32" transform="translate(0.823 0.793)"><text style="font-size: 10px; font-family: 'DejaVu Sans', 'Liberation Sans', sans-serif; text-anchor: middle" x="74.769" y="832.077">0</text></g></g><g id="xtick_14"><g id="line2d_128"><path d="M168.541 818.038L168.541 449.398" clip-path="url(#p14eb2305f6)" style="fill: none; stroke: #b0b0b0; stroke-opacity: 0.3; stroke-width: 0.8; stroke-linecap: square"/></g><g id="line2d_129"><g><use href="#m1504cfccaf" x="168.541" y="818.038" style="stroke: #000000; stroke-width: 0.8"/></g></g><g id="text_33" transform="translate(-0.089 0.995)"><text style="font-size: 10px; font-family: 'DejaVu Sans', 'Liberation Sans', sans-serif; text-anchor: middle" x="168.427" y="832.077">200</text></g></g><g id="xtick_15"><g id="line2d_130"><path d="M262.141 818.038L262.141 449.398" clip-path="url(#p14eb2305f6)" style="fill: none; stroke: #b0b0b0; stroke-opacity: 0.3; stroke-width: 0.8; stroke-linecap: square"/></g><g id="line2d_131"><g><use href="#m1504cfccaf" x="262.141" y="818.038" style="stroke: #000000; stroke-width: 0.8"/></g></g><g id="text_34" transform="translate(0.076 0.909)"><text style="font-size: 10px; font-family: 'DejaVu Sans', 'Liberation Sans', sans-serif; text-anchor: middle" x="262.085" y="832.077">400</text></g></g><g id="xtick_16"><g id="line2d_132"><path d="M356.461 818.038L356.461 449.398" clip-path="url(#p14eb2305f6)" style="fill: none; stroke: #b0b0b0; stroke-opacity: 0.3; stroke-width: 0.8; stroke-linecap: square"/></g><g id="line2d_133"><g><use href="#m1504cfccaf" x="356.461" y="818.038" style="stroke: #000000; stroke-width: 0.8"/></g></g><g id="text_35" transform="translate(-0.14 0.834)"><text style="font-size: 10px; font-family: 'DejaVu Sans', 'Liberation Sans', sans-serif; text-anchor: middle" x="355.743" y="832.077">600</text></g></g><g id="xtick_17"><g id="line2d_134"><path d="M450.061 818.038L450.061 449.398" clip-path="url(#p14eb2305f6)" style="fill: none; stroke: #b0b0b0; stroke-opacity: 0.3; stroke-width: 0.8; stroke-linecap: square"/></g><g id="line2d_135"><g><use href="#m1504cfccaf" x="450.061" y="818.038" style="stroke: #000000; stroke-width: 0.8"/></g></g><g id="text_36" transform="translate(-0.215 1.091)"><text style="font-size: 10px; font-family: 'DejaVu Sans', 'Liberation Sans', sans-serif; text-anchor: middle" x="449.4" y="832.077">800</text></g></g><g id="xtick_18"><g id="line2d_136"><path d="M543.661 818.038L543.661 449.398" clip-path="url(#p14eb2305f6)" style="fill: none; stroke: #b0b0b0; stroke-opacity: 0.3; stroke-width: 0.8; stroke-linecap: square"/></g><g id="line2d_137"><g><use href="#m1504cfccaf" x="543.661" y="818.038" style="stroke: #000000; stroke-width: 0.8"/></g></g><g id="text_37" transform="translate(0.141 1.043)"><text style="font-size: 10px; font-family: 'DejaVu Sans', 'Liberation Sans', sans-serif; text-anchor: middle" x="543.058" y="832.077">1000</text></g></g><g id="text_38" transform="translate(-0.071 1.513)"><text style="font-size: 10px; font-family: 'DejaVu Sans', 'Liberation Sans', sans-serif; text-anchor: middle" x="308.68" y="845.755">Epoch</text></g></g><g id="matplotlib.axis_6"><g id="ytick_85"><g id="line2d_138"><path d="M51.901 776.998L566.701 776.998" clip-path="url(#p14eb2305f6)" style="fill: none; stroke: #b0b0b0; stroke-opacity: 0.3; stroke-width: 0.8; stroke-linecap: square"/></g><g id="line2d_139"><g><use href="#m5d545ce8f8" x="51.901" y="776.998" style="stroke: #000000; stroke-width: 0.8"/></g></g><g id="text_39" transform="translate(-0.039 1.907)"><g transform="translate(20.878 780.632)"><text><tspan x="0" y="-0.064" style="font-size: 10px; font-family: 'DejaVu Sans', 'Liberation Sans', sans-serif">1</tspan><tspan x="6.362" y="-0.064" style="font-size: 10px; font-family: 'DejaVu Sans', 'Liberation Sans', sans-serif">0</tspan><tspan x="12.82" y="-3.892" style="font-size: 7px; font-family: 'DejaVu Sans', 'Liberation Sans', sans-serif">−</tspan><tspan x="18.686" y="-3.892" style="font-size: 7px; font-family: 'DejaVu Sans', 'Liberation Sans', sans-serif">4</tspan></text></g></g></g><g id="ytick_86"><g id="line2d_140"><path d="M51.901 685.558L566.701 685.558" clip-path="url(#p14eb2305f6)" style="fill: none; stroke: #b0b0b0; stroke-opacity: 0.3; stroke-width: 0.8; stroke-linecap: square"/></g><g id="line2d_141"><g><use href="#m5d545ce8f8" x="51.901" y="685.558" style="stroke: #000000; stroke-width: 0.8"/></g></g><g id="text_40" transform="translate(-0.097 2.607)"><g transform="translate(20.878 689.329)"><text><tspan x="0" y="-0.977" style="font-size: 10px; font-family: 'DejaVu Sans', 'Liberation Sans', sans-serif">1</tspan><tspan x="6.362" y="-0.977" style="font-size: 10px; font-family: 'DejaVu Sans', 'Liberation Sans', sans-serif">0</tspan><tspan x="12.82" y="-4.805" style="font-size: 7px; font-family: 'DejaVu Sans', 'Liberation Sans', sans-serif">−</tspan><tspan x="18.686" y="-4.805" style="font-size: 7px; font-family: 'DejaVu Sans', 'Liberation Sans', sans-serif">3</tspan></text></g></g></g><g id="ytick_87"><g id="line2d_142"><path d="M51.901 594.838L566.701 594.838" clip-path="url(#p14eb2305f6)" style="fill: none; stroke: #b0b0b0; stroke-opacity: 0.3; stroke-width: 0.8; stroke-linecap: square"/></g><g id="line2d_143"><g><use href="#m5d545ce8f8" x="51.901" y="594.838" style="stroke: #000000; stroke-width: 0.8"/></g></g><g id="text_41" transform="translate(-0.033 2.36)"><g transform="translate(20.878 598.025)"><text><tspan x="0" y="-0.977" style="font-size: 10px; font-family: 'DejaVu Sans', 'Liberation Sans', sans-serif">1</tspan><tspan x="6.362" y="-0.977" style="font-size: 10px; font-family: 'DejaVu Sans', 'Liberation Sans', sans-serif">0</tspan><tspan x="12.82" y="-4.805" style="font-size: 7px; font-family: 'DejaVu Sans', 'Liberation Sans', sans-serif">−</tspan><tspan x="18.686" y="-4.805" style="font-size: 7px; font-family: 'DejaVu Sans', 'Liberation Sans', sans-serif">2</tspan></text></g></g></g><g id="ytick_88"><g id="line2d_144"><path d="M51.901 503.398L566.701 503.398" clip-path="url(#p14eb2305f6)" style="fill: none; stroke: #b0b0b0; stroke-opacity: 0.3; stroke-width: 0.8; stroke-linecap: square"/></g><g id="line2d_145"><g><use href="#m5d545ce8f8" x="51.901" y="503.398" style="stroke: #000000; stroke-width: 0.8"/></g></g><g id="text_42" transform="translate(-0.035 2.216)"><g transform="translate(20.878 506.722)"><text><tspan x="0" y="-0.064" style="font-size: 10px; font-family: 'DejaVu Sans', 'Liberation Sans', sans-serif">1</tspan><tspan x="6.362" y="-0.064" style="font-size: 10px; font-family: 'DejaVu Sans', 'Liberation Sans', sans-serif">0</tspan><tspan x="12.82" y="-3.892" style="font-size: 7px; font-family: 'DejaVu Sans', 'Liberation Sans', sans-serif">−</tspan><tspan x="18.686" y="-3.892" style="font-size: 7px; font-family: 'DejaVu Sans', 'Liberation Sans', sans-serif">1</tspan></text></g></g></g><g id="ytick_89"><g id="line2d_146"><g><use href="#mc3d89a154a" x="51.901" y="813.718" style="stroke: #000000; stroke-width: 0.6"/></g></g></g><g id="ytick_90"><g id="line2d_147"><g><use href="#mc3d89a154a" x="51.901" y="804.358" style="stroke: #000000; stroke-width: 0.6"/></g></g></g><g id="ytick_91"><g id="line2d_148"><g><use href="#mc3d89a154a" x="51.901" y="797.158" style="stroke: #000000; stroke-width: 0.6"/></g></g></g><g id="ytick_92"><g id="line2d_149"><g><use href="#mc3d89a154a" x="51.901" y="791.398" style="stroke: #000000; stroke-width: 0.6"/></g></g></g><g id="ytick_93"><g id="line2d_150"><g><use href="#mc3d89a154a" x="51.901" y="786.358" style="stroke: #000000; stroke-width: 0.6"/></g></g></g><g id="ytick_94"><g id="line2d_151"><g><use href="#mc3d89a154a" x="51.901" y="781.318" style="stroke: #000000; stroke-width: 0.6"/></g></g></g><g id="ytick_95"><g id="line2d_152"><g><use href="#mc3d89a154a" x="51.901" y="749.638" style="stroke: #000000; stroke-width: 0.6"/></g></g></g><g id="ytick_96"><g id="line2d_153"><g><use href="#mc3d89a154a" x="51.901" y="733.798" style="stroke: #000000; stroke-width: 0.6"/></g></g></g><g id="ytick_97"><g id="line2d_154"><g><use href="#mc3d89a154a" x="51.901" y="722.278" style="stroke: #000000; stroke-width: 0.6"/></g></g></g><g id="ytick_98"><g id="line2d_155"><g><use href="#mc3d89a154a" x="51.901" y="713.638" style="stroke: #000000; stroke-width: 0.6"/></g></g></g><g id="ytick_99"><g id="line2d_156"><g><use href="#mc3d89a154a" x="51.901" y="706.438" style="stroke: #000000; stroke-width: 0.6"/></g></g></g><g id="ytick_100"><g id="line2d_157"><g><use href="#mc3d89a154a" x="51.901" y="699.958" style="stroke: #000000; stroke-width: 0.6"/></g></g></g><g id="ytick_101"><g id="line2d_158"><g><use href="#mc3d89a154a" x="51.901" y="694.918" style="stroke: #000000; stroke-width: 0.6"/></g></g></g><g id="ytick_102"><g id="line2d_159"><g><use href="#mc3d89a154a" x="51.901" y="689.878" style="stroke: #000000; stroke-width: 0.6"/></g></g></g><g id="ytick_103"><g id="line2d_160"><g><use href="#mc3d89a154a" x="51.901" y="658.198" style="stroke: #000000; stroke-width: 0.6"/></g></g></g><g id="ytick_104"><g id="line2d_161"><g><use href="#mc3d89a154a" x="51.901" y="642.358" style="stroke: #000000; stroke-width: 0.6"/></g></g></g><g id="ytick_105"><g id="line2d_162"><g><use href="#mc3d89a154a" x="51.901" y="630.838" style="stroke: #000000; stroke-width: 0.6"/></g></g></g><g id="ytick_106"><g id="line2d_163"><g><use href="#mc3d89a154a" x="51.901" y="622.198" style="stroke: #000000; stroke-width: 0.6"/></g></g></g><g id="ytick_107"><g id="line2d_164"><g><use href="#mc3d89a154a" x="51.901" y="614.998" style="stroke: #000000; stroke-width: 0.6"/></g></g></g><g id="ytick_108"><g id="line2d_165"><g><use href="#mc3d89a154a" x="51.901" y="608.518" style="stroke: #000000; stroke-width: 0.6"/></g></g></g><g id="ytick_109"><g id="line2d_166"><g><use href="#mc3d89a154a" x="51.901" y="603.478" style="stroke: #000000; stroke-width: 0.6"/></g></g></g><g id="ytick_110"><g id="line2d_167"><g><use href="#mc3d89a154a" x="51.901" y="598.438" style="stroke: #000000; stroke-width: 0.6"/></g></g></g><g id="ytick_111"><g id="line2d_168"><g><use href="#mc3d89a154a" x="51.901" y="566.758" style="stroke: #000000; stroke-width: 0.6"/></g></g></g><g id="ytick_112"><g id="line2d_169"><g><use href="#mc3d89a154a" x="51.901" y="550.918" style="stroke: #000000; stroke-width: 0.6"/></g></g></g><g id="ytick_113"><g id="line2d_170"><g><use href="#mc3d89a154a" x="51.901" y="539.398" style="stroke: #000000; stroke-width: 0.6"/></g></g></g><g id="ytick_114"><g id="line2d_171"><g><use href="#mc3d89a154a" x="51.901" y="530.758" style="stroke: #000000; stroke-width: 0.6"/></g></g></g><g id="ytick_115"><g id="line2d_172"><g><use href="#mc3d89a154a" x="51.901" y="523.558" style="stroke: #000000; stroke-width: 0.6"/></g></g></g><g id="ytick_116"><g id="line2d_173"><g><use href="#mc3d89a154a" x="51.901" y="517.078" style="stroke: #000000; stroke-width: 0.6"/></g></g></g><g id="ytick_117"><g id="line2d_174"><g><use href="#mc3d89a154a" x="51.901" y="512.038" style="stroke: #000000; stroke-width: 0.6"/></g></g></g><g id="ytick_118"><g id="line2d_175"><g><use href="#mc3d89a154a" x="51.901" y="507.718" style="stroke: #000000; stroke-width: 0.6"/></g></g></g><g id="ytick_119"><g id="line2d_176"><g><use href="#mc3d89a154a" x="51.901" y="476.038" style="stroke: #000000; stroke-width: 0.6"/></g></g></g><g id="ytick_120"><g id="line2d_177"><g><use href="#mc3d89a154a" x="51.901" y="459.478" style="stroke: #000000; stroke-width: 0.6"/></g></g></g><g id="text_43" transform="translate(-0.542 2.485)"><text style="font-size: 10px; font-family: 'DejaVu Sans', 'Liberation Sans', sans-serif; text-anchor: middle" x="14.798" y="633.198" transform="rotate(-90 14.798 633.198)">Loss</text></g></g><g id="line2d_178"><path d="M74.77 465.67L75.24 513.23L75.71 536.41L76.17 542.62L76.64 550.84L78.05 565.2L78.98 569.53L79.45 571.55L80.39 572.27L82.26 587.97L83.67 597.16L86.48 611.66L86.94 613.77L87.41 616.79L87.88 618.96L88.35 621.83L88.82 623.92L89.29 623.79L90.22 628.89L92.1 632.53L92.56 634.26L93.03 636.99L93.5 634.67L93.97 634.03L94.44 637.29L94.91 637.52L95.37 638.87L95.84 639.59L96.31 637.68L96.78 637.53L97.25 639.85L97.72 638.32L98.18 639.46L98.65 642.33L99.12 638.24L99.59 639.83L100.06 638.23L100.53 642.61L101.46 645.62L101.93 646.57L102.4 642.78L102.87 642.16L103.33 643.14L103.8 642.03L104.27 646.27L104.74 645.81L105.21 646.94L105.68 646.22L106.14 645.07L107.08 648.35L108.02 645.38L108.49 645.02L108.95 650.15L109.42 650.61L109.89 646.3L110.36 647.23L110.83 650.37L111.3 651.92L111.76 650.87L112.23 651.76L112.7 650.93L113.64 654.33L114.11 655.39L114.57 651.24L115.04 649.57L115.51 653.57L115.98 654.03L116.45 653.47L116.92 653.97L117.38 630.48L117.85 632.08L118.32 654.99L118.79 650.81L119.26 653.75L119.72 654.66L120.19 655.06L120.66 654.96L121.13 653.25L121.6 655.06L122.07 656.14L123 652.45L123.47 654.89L123.94 658L124.41 657.87L124.88 655.53L125.34 648.15L125.81 648.5L126.75 654.62L127.22 655.72L127.69 654.91L128.15 656.97L128.62 657.62L129.09 659.73L129.56 657.42L130.03 657.03L130.5 655.72L131.43 658.26L131.9 660.16L132.37 660.85L132.84 660.93L133.77 662.01L134.24 661.51L134.71 658.92L135.18 661.17L135.65 609.83L136.12 611.65L136.58 659.9L137.05 656.76L137.52 656.44L137.99 655.26L138.46 656.6L138.92 656.54L139.39 656.79L139.86 656.81L140.33 657.03L140.8 656.22L141.27 657.14L141.73 657.55L142.2 655.05L142.67 657L143.14 657.83L143.61 657.12L144.08 659.29L144.54 660.64L145.01 660.81L145.48 655.86L145.95 654.82L146.42 656.48L146.89 656.04L147.35 617.46L147.82 618.83L148.29 654.07L148.76 654.59L149.23 657.75L149.7 657.07L150.16 653.23L150.63 655.62L151.1 655.72L151.57 655.27L152.04 655.32L152.51 652.2L152.97 652.88L153.44 652.82L153.91 653.29L154.85 658.44L155.31 659.99L155.78 662.57L156.25 661.45L156.72 660.83L157.19 662.29L157.66 659.55L158.12 659.76L158.59 662.69L159.06 660.67L159.53 655.93L160 657.37L160.47 656.74L160.93 660.35L161.4 658.7L161.87 659.21L162.34 656.93L162.81 657.39L163.28 654.6L163.74 654.44L164.21 656.09L164.68 654.1L165.15 654.43L165.62 654.39L166.09 639.02L166.55 640.84L167.02 658.19L167.49 657.94L167.96 655.96L168.9 657.05L169.36 655.85L169.83 655.86L170.3 655.1L170.77 654.09L171.24 649.93L171.71 655.66L172.17 657.14L172.64 656.58L173.11 654.42L173.58 654.9L174.05 660.44L174.51 661.48L174.98 661.37L175.45 661.77L175.92 635.34L176.39 637.17L176.86 661.25L177.32 656.28L177.79 655.45L178.26 655.76L179.2 660.03L179.67 656.89L180.13 658.08L180.6 658.87L181.07 660.22L181.54 660.77L182.01 658.21L182.48 657.63L182.94 658.39L183.41 658.73L183.88 659.37L184.35 661.06L185.29 657.54L185.75 659.38L186.22 658.1L186.69 658.55L187.16 660.35L187.63 660.47L188.1 660.87L188.56 657.58L189.03 658.3L189.5 658.06L189.97 658.3L190.44 655.68L190.9 652.43L191.37 657.02L191.84 659.3L192.31 662.15L192.78 659.83L193.25 656.89L193.71 658.44L194.18 659.6L194.65 665.03L195.12 665.05L195.59 669.2L196.06 633.91L196.52 635.32L196.99 670.15L197.46 665.2L197.93 672.08L198.4 673.24L198.87 661.85L199.33 665.85L199.8 667.33L200.27 653.31L200.74 655.95L201.21 652.84L202.14 674L202.61 676.5L203.08 668.46L203.55 668.26L204.02 677.83L204.49 660.97L204.95 667.4L205.42 679.93L205.89 678.42L206.36 680.04L206.83 686.53L207.29 686.2L207.76 681.05L208.23 664.74L208.7 664.01L209.17 651.78L209.64 669.4L210.1 675.9L210.57 685.34L211.04 648.69L211.51 663.11L211.98 673.9L212.45 688.06L212.91 685.75L213.38 688L213.85 674.44L214.32 671.78L214.79 667.08L215.26 679.46L215.72 688.13L216.19 690.7L216.66 677.62L217.13 680.51L217.6 685.5L218.07 675.72L218.53 679.15L219 673.66L219.47 661.48L219.94 672.3L220.41 645.83L220.88 647L221.34 672.75L221.81 676.23L222.28 684.28L222.75 679.74L223.22 673.72L223.69 679.61L224.15 681.3L224.62 685.61L225.09 686.7L225.56 671.65L226.03 673.75L226.49 681.6L226.96 685.51L227.43 686.57L227.9 683.06L228.37 685.95L229.3 673.47L229.77 675.43L230.24 679.78L230.71 679.89L231.18 663.75L231.65 673.27L232.11 678.41L232.58 681.63L233.05 683.89L233.52 678.58L233.99 677.08L234.46 675.94L234.92 674.15L235.39 680.25L235.86 678.41L236.33 662.9L236.8 668.63L237.27 671.36L237.73 681L238.2 671.95L238.67 673.22L239.14 680.95L239.61 677.01L240.08 678.08L240.54 683.03L241.01 676.79L241.48 674.69L241.95 622.94L242.42 624.77L242.88 685.9L243.35 688.61L243.82 678.36L244.29 651.85L244.76 656.34L245.69 679.59L246.16 683.49L246.63 664.98L247.1 652.88L248.04 680.38L248.5 683.86L248.97 673.83L249.91 685.84L250.85 676.33L251.31 670.75L251.78 675.35L252.72 687.46L253.66 680.52L254.12 678.82L254.59 685.42L255.06 690.01L256 685.44L256.47 687.31L256.93 687.86L257.4 687.25L257.87 682.86L258.34 688.84L258.81 688.53L259.28 690.95L259.74 683.07L260.21 677.44L260.68 675.51L261.15 686.44L261.62 677.69L262.08 676.14L263.02 695.91L263.49 659.78L263.96 661.5L264.43 698.53L264.89 696.2L265.36 696.32L265.83 698.52L266.3 690.24L266.77 690L267.24 683.29L267.7 685.4L268.17 701.34L268.64 684.25L269.11 686.49L269.58 696.86L270.05 686.61L270.51 688.16L271.45 698.59L271.92 686.33L272.39 687.74L272.86 699.06L273.32 699.64L273.79 698.55L274.73 700.1L275.2 697.92L276.13 690.82L276.6 688.51L277.54 696.81L278.01 699.11L278.47 700.83L278.94 698.2L279.41 697.06L279.88 693.18L280.82 697.79L281.75 700.49L282.22 700.96L283.63 693.73L284.09 695.76L284.56 698.61L285.03 698.85L285.5 694.01L286.44 699.6L286.9 698.84L287.37 680.58L287.84 682.45L288.31 700.73L288.78 701.4L289.25 693.54L289.71 695.38L290.18 696.71L290.65 693.2L291.12 695.01L291.59 694.4L292.06 654.49L292.52 655.59L292.99 698.48L293.46 698.62L293.93 696.73L294.4 699.08L294.87 697.64L295.33 701.97L295.8 682.67L296.27 685.71L296.74 699.99L297.21 698.72L297.67 702.5L298.14 700.21L298.61 698.73L299.08 692.47L299.55 696.88L300.02 686.35L300.48 687.67L300.95 691.58L301.42 698.85L301.89 699.95L302.36 699.78L302.83 697.34L303.29 697.43L303.76 696.46L304.23 696.89L304.7 683.52L305.17 686.51L305.64 696.44L306.1 696.6L306.57 689.74L307.04 693.74L307.51 694.2L307.98 679.8L308.45 681.6L308.91 698.46L309.38 698.59L309.85 699.69L310.32 699.9L310.79 699.52L311.26 698.27L311.72 701.13L312.66 699.39L313.13 697.2L313.6 666.98L314.06 668.91L314.53 695.77L315 700.42L315.47 700.57L315.94 699.21L316.41 701.18L316.87 703.67L317.34 703.41L317.81 698.2L318.28 700.19L318.75 700.18L319.22 702.06L319.68 702.75L320.15 698.1L320.62 669.84L321.09 671.57L321.56 701.09L322.03 699.83L322.49 691.43L322.96 696.65L323.43 698.55L324.37 688.19L325.3 699.03L325.77 698.58L326.24 693.62L326.71 697.46L327.18 699.62L327.65 699.59L328.11 699.92L328.58 699.17L329.05 696.54L329.52 697.56L329.99 699.35L330.46 701.62L330.92 701.82L331.39 701.16L331.86 705.77L332.33 708.41L332.8 706.41L333.26 707.41L333.73 709.52L334.2 707.84L334.67 705.54L335.14 706.28L335.61 709.81L336.07 710.19L336.54 714.18L337.01 712.69L337.48 710.28L337.95 704.26L338.42 706.32L338.88 702.83L339.35 706.16L339.82 698.87L340.29 704.15L340.76 704.73L341.23 709.62L341.69 708.6L342.16 709.84L342.63 708.81L343.1 705.92L343.57 710.77L344.04 705.92L344.5 707.72L344.97 711.44L345.44 710.05L345.91 710.31L346.38 710.29L346.85 705.65L347.31 709.9L347.78 707.42L348.25 703.99L349.19 709.84L349.65 708.54L350.12 710.36L350.59 709.46L351.06 710.8L351.53 713.32L352 707.54L352.46 709.08L352.93 709.61L353.4 703.91L353.87 701.27L354.34 704.12L354.81 706.06L355.27 708.48L356.21 699.66L356.68 709.59L357.15 705.14L357.62 707.51L358.08 707.85L358.55 709.43L359.02 708.87L359.49 704.91L359.96 709.64L360.43 709.73L360.89 707.19L361.36 711.46L361.83 713.43L362.3 711.4L362.77 710.9L363.24 712.34L363.7 703.42L364.17 705.27L364.64 704.57L365.11 713.28L365.58 713.71L366.05 709.7L366.51 712.6L366.98 711.16L367.45 706.95L367.92 712.88L368.39 710.91L368.85 705.94L369.32 710.2L369.79 710.26L370.26 700.45L370.73 703.45L371.66 711.32L372.13 709.62L372.6 709.77L373.07 706.36L373.54 709.85L374.01 708.74L374.47 711.88L374.94 712.16L375.41 713.05L375.88 713.58L376.35 711.83L376.82 705.33L377.75 706.86L378.22 709.58L378.69 711.6L379.16 706.46L379.63 707.16L380.09 704.61L380.56 713.29L381.03 713.01L381.5 715.37L381.97 713.37L382.44 710.16L382.9 708.08L383.37 710.32L383.84 711.6L384.31 715.58L384.78 715.29L385.24 708.61L385.71 707.11L386.65 713.6L387.12 674.09L387.59 676.03L388.05 710.57L388.52 706.84L388.99 710.24L389.46 710.76L390.4 710.57L390.86 713.19L391.33 708.22L391.8 709.26L392.74 706.41L393.21 708.88L393.67 712.5L394.14 709.13L394.61 711.57L395.08 712.17L395.55 711.46L396.48 706.13L396.95 707.3L397.42 706.71L397.89 704.48L398.36 707L398.83 708.19L399.29 707.21L399.76 713.08L400.23 714.86L400.7 714.31L401.17 710.26L401.63 710.49L402.1 711.93L402.57 708.76L403.04 708.49L403.51 712.19L403.98 713.21L404.44 714.52L404.91 710.01L405.38 715.97L405.85 711.14L406.32 709.96L406.79 715.81L407.25 713.64L407.72 715.66L408.19 707.78L408.66 716.4L409.13 715.03L409.6 715.24L410.06 711.75L410.53 718.52L411 720.72L411.94 726.75L412.41 723.18L412.87 714.81L413.34 718.77L413.81 725.01L414.28 721.48L414.75 710.95L415.22 719.18L415.68 711L416.15 720.88L416.62 727.84L417.09 733.14L417.56 726.73L418.03 732.39L418.96 725.15L419.43 729.18L419.9 725.61L420.37 727.34L420.83 744.89L421.3 741.86L421.77 753.04L422.24 734.12L422.71 754.89L423.18 756.55L423.64 763.16L424.11 779.25L424.58 780.71L425.05 766.93L425.52 761.88L425.99 733.26L426.45 738.93L426.92 766.51L427.39 764.58L427.86 765.88L428.33 784.4L428.8 783.02L429.26 764.69L429.73 761.91L430.2 764.81L430.67 758.17L431.14 763.39L431.61 763.1L432.54 786.25L433.48 764.17L433.95 764.72L434.42 753.72L434.88 754.99L435.35 765.52L435.82 765.91L436.29 772.27L436.76 775.87L437.22 765.82L437.69 744.88L438.63 784.64L439.57 751.37L440.5 774.6L440.97 773L441.44 774.41L441.91 786.96L442.38 779.33L442.84 763.42L443.31 774.23L443.78 737.57L444.25 739.28L444.72 773.72L445.19 784.29L445.65 785.41L446.12 785L446.59 786.24L447.06 758.71L447.53 763.51L448 759.33L448.46 736.29L448.93 760.8L449.4 774.33L450.34 784.2L450.81 774.87L451.27 762.05L451.74 775.94L452.21 785.63L452.68 779.28L453.15 760.04L453.62 767.84L454.08 761.46L454.55 740.04L455.02 742.04L456.42 783.33L456.89 766.75L457.36 770.76L457.83 769.6L458.77 761.97L459.23 745.16L459.7 774.38L460.17 778.45L460.64 763.97L461.11 763.2L461.58 764.49L462.04 778.1L462.51 737.56L462.98 740.1L463.45 764.82L463.92 770.05L464.39 791.16L464.85 791.45L465.32 782.72L465.79 750.81L466.26 764.03L467.2 770.61L468.13 780.11L468.6 791.24L469.07 785.73L469.54 770.89L470.01 778.75L470.47 775.47L470.94 767.29L471.41 789.12L472.35 779.01L472.81 669.07L473.28 670.82L473.75 769.69L474.22 791.69L474.69 778.45L475.16 782.57L475.62 789.98L476.09 786.31L476.56 774.06L477.03 780.64L477.97 738.96L478.43 773.95L478.9 727.27L479.37 733.97L479.84 792.48L480.31 791.84L480.78 773.5L481.24 774.36L481.71 786L482.18 787.45L482.65 791.14L483.12 786.03L484.05 759.3L484.52 765.55L484.99 778.58L485.46 787.35L485.93 749.2L486.4 767.81L486.86 721.53L487.33 723.44L487.8 788.52L488.27 783.62L488.74 777.51L489.21 765.22L489.67 765.37L490.14 782.95L490.61 791.65L491.08 786.42L491.55 772.57L492.01 782.03L492.48 784.96L492.95 775.43L493.42 785.36L493.89 775.62L494.36 782.09L494.82 764.71L495.29 768.26L495.76 783.19L496.23 783.25L496.7 788.8L497.17 780.51L497.63 788.46L498.1 775.32L498.57 774.24L499.04 790.58L499.51 778.82L499.98 770.67L500.44 788.25L500.91 779.75L501.85 775.71L502.32 789.7L502.79 772.79L503.25 778L503.72 777.49L504.19 763.78L504.66 771.07L505.13 770.83L505.6 763.73L506.06 780.87L506.53 787.78L507.47 766.93L507.94 777.75L508.4 766.26L508.87 761.76L509.34 738.81L509.81 740.32L510.28 763.88L510.75 775.11L511.21 775.29L511.68 795.02L512.15 793.7L512.62 786.23L513.09 788.95L513.56 781.32L514.02 779.99L514.49 794.56L514.96 783.2L515.43 782.93L515.9 777.84L516.83 789.43L517.3 783.49L517.77 791.62L518.24 786.77L518.71 786.43L519.18 794.24L519.64 783.41L520.11 778.9L520.58 792.64L521.52 775.74L521.99 777.78L522.45 789.95L522.92 791.85L523.39 791.06L523.86 781.98L524.33 794.16L524.8 789.79L525.26 781.02L525.73 796.22L526.2 784.09L526.67 753.14L527.14 754.78L527.6 794.52L528.07 780.88L529.01 796.88L529.48 796.14L529.95 793.15L530.88 780.11L531.35 790.24L531.82 797.07L532.29 795.64L532.76 793.29L533.22 789.29L533.69 777.57L534.16 790.26L534.63 778.38L535.1 777.71L535.57 777.59L536.03 796.65L536.5 795.14L536.97 781.43L537.44 745.48L537.91 748.2L538.38 790.49L539.31 792.22L539.78 781.33L540.25 788.58L540.72 793.39L541.19 779.09L541.65 782.04L542.12 790.91L542.59 774.99L542.59 774.99" clip-path="url(#p14eb2305f6)" style="fill: none; stroke: #1f77b4; stroke-opacity: 0.8; stroke-width: 1.6; stroke-linecap: square"/></g><g id="line2d_179"><path d="M74.77 494.47L75.71 536.7L76.17 543.13L76.64 551.4L78.05 565.99L78.98 571.52L79.45 577.39L80.39 573.58L82.26 589.28L83.67 597.8L86.48 611.47L87.41 614.4L87.88 615.88L88.35 617.88L88.82 613.92L89.29 619.69L89.75 623.2L90.22 621.2L90.69 614.56L91.16 616.19L91.63 619.61L92.1 629.79L92.56 622.09L93.03 625.05L93.5 625.98L93.97 629.57L94.44 630.43L94.91 630.3L95.37 632.92L95.84 632.83L96.31 632.46L96.78 629.21L97.25 622.58L97.72 624.41L98.65 634.27L99.12 630.29L99.59 631.35L100.06 633.61L100.53 634.58L101.46 625.86L101.93 634.86L102.4 620.74L102.87 621.33L103.33 639.03L103.8 636.42L104.27 620.76L104.74 628.06L105.21 629.89L105.68 639.06L106.14 638.99L106.61 644.61L107.08 646.31L108.02 635.13L108.49 637.6L108.95 642.61L109.42 646.13L109.89 644.82L110.36 645.06L110.83 646.42L111.3 642.26L111.76 640.11L113.17 646.09L114.11 648.17L114.57 644.79L115.04 647.75L115.51 643.31L115.98 646.63L116.45 646.81L116.92 645.05L117.38 633.37L117.85 634.85L118.32 647.91L118.79 645.74L119.26 646.28L119.72 649.13L120.19 620.58L120.66 621.9L121.13 647.86L121.6 647.09L122.07 622.42L122.53 623.15L123 644.69L123.47 646.9L123.94 652.07L124.41 649.15L124.88 648.77L125.34 600.31L125.81 602.13L126.28 647.16L126.75 646.44L127.22 646.5L127.69 645.13L128.15 645.51L128.62 649.69L129.56 654.01L130.03 652.5L130.5 653.37L130.96 653.44L131.43 650.74L131.9 629.15L132.37 632.88L132.84 649.09L133.31 645.25L133.77 649.66L134.24 652.46L134.71 651.76L135.18 648.59L135.65 613.68L136.12 615.51L136.58 651.92L137.05 649.77L137.52 652.46L137.99 648.58L138.46 650.01L138.92 623.51L139.39 624.77L139.86 643.95L140.8 648.63L141.27 648.86L141.73 653.31L142.2 649.53L142.67 641.76L143.14 640.36L143.61 646.72L144.08 649.05L144.54 645.7L145.01 647.64L145.48 648.47L145.95 649.7L146.42 649.72L146.89 645.17L147.35 626.4L147.82 626.37L148.29 649.77L148.76 652.32L149.23 653.08L150.16 651.15L150.63 649.26L151.1 644.11L151.57 645.45L152.04 649.95L152.51 651.52L152.97 651.95L153.44 646.36L153.91 632.63L154.38 634.45L154.85 653.04L155.31 653.21L155.78 657.67L156.25 654.76L156.72 656.51L157.19 652.76L157.66 616.21L158.12 617.56L158.59 652.1L159.06 653.98L159.53 640.64L160 643.41L160.47 642.54L160.93 650.83L161.4 650.79L161.87 654.09L162.34 651.94L163.28 647.03L164.21 649.56L164.68 644.86L165.15 647.61L165.62 647.3L166.09 615.35L166.55 617.4L167.02 642.76L167.49 647.8L167.96 649.89L168.43 648.87L168.9 650.78L169.83 648.27L170.3 648.77L171.24 641.78L171.71 635.55L173.11 652.85L173.58 651.13L174.05 652.94L174.51 653.72L174.98 628.54L175.45 631.23L175.92 652.43L176.39 653.03L176.86 653.35L177.32 651.9L177.79 649.09L178.26 652.22L178.73 651.23L179.2 648.41L179.67 652.52L180.13 655.08L180.6 624.56L181.07 627.09L181.54 648.89L182.01 650.94L182.48 650.09L182.94 651.95L183.41 615.17L183.88 614.43L184.35 650.04L184.82 654.25L185.29 612.95L185.75 615.11L186.22 646.28L186.69 640.35L187.16 612.16L187.63 614.61L188.1 648.26L188.56 646.33L189.03 659.59L189.5 661.09L189.97 653.83L190.44 643.31L190.9 645.46L191.37 608.78L191.84 609.29L192.31 613.18L192.78 615.22L193.25 641.21L193.71 602.86L194.18 603.84L194.65 670.62L195.12 669.56L195.59 665.96L196.06 666.38L196.52 663.22L196.99 665.03L197.46 685.32L197.93 682.49L198.4 654.71L198.87 636.47L199.33 638.77L199.8 666.96L200.27 661.97L200.74 635.15L201.21 637.85L201.68 658.8L202.14 665.21L202.61 678.26L203.08 679.18L203.55 698.81L204.02 696.77L204.49 653.77L204.95 658.43L205.42 679.75L205.89 694.27L206.36 696.97L206.83 693.42L207.29 700.2L207.76 699L208.23 685.86L208.7 712.06L209.17 710.23L209.64 688.55L210.1 701.53L210.57 707L211.04 678.53L211.51 675.05L211.98 639.18L212.45 641.27L212.91 690.58L213.38 622.61L213.85 623.98L214.32 695.86L214.79 694.87L215.26 645.21L215.72 646.77L216.19 702.61L216.66 697.17L217.13 697.76L217.6 705.72L218.07 662.61L218.53 701.1L219 702.93L219.47 658.55L219.94 674.03L220.41 678.22L220.88 692.9L221.81 667.39L222.28 708.28L222.75 705.99L223.22 613.05L223.69 614.55L224.15 692.87L225.09 703.27L226.03 674.74L226.49 686.99L226.96 707.51L227.43 708.12L227.9 652.6L228.37 653.19L228.84 697.03L229.3 689.79L229.77 696.76L230.24 700.66L230.71 702.35L231.18 688.47L231.65 616.65L232.11 612.77L232.58 694.66L233.05 699.18L233.52 663.88L233.99 674.54L234.46 680.93L234.92 675.04L235.39 677.17L235.86 684.2L236.33 711.15L236.8 709.02L237.27 693.24L237.73 688.67L238.2 672.96L238.67 682.64L239.14 677.89L239.61 642.94L240.08 644.61L240.54 667L241.48 692.96L241.95 624.6L242.42 625.22L242.88 692.44L243.35 692.38L243.82 685.58L244.29 667.93L244.76 669.05L245.23 682.5L245.69 709.41L246.16 710.23L246.63 690.28L247.1 665.07L247.57 669.84L248.04 663.41L248.5 637.79L248.97 637.52L249.44 681.65L249.91 694.67L250.38 696.54L250.85 695.9L251.31 659.29L251.78 664.29L252.25 682.25L252.72 676.03L253.19 655.41L253.66 660.39L254.12 679.06L254.59 651.19L255.06 653.22L255.53 697.5L256 686.74L256.47 688.28L256.93 677.98L257.4 674.12L257.87 683.14L258.34 662.84L258.81 672.34L259.28 672.75L259.74 674.69L260.21 678.7L260.68 688.83L261.15 702.28L262.08 696.65L262.55 687.14L263.02 697.58L263.49 687.82L264.43 703.85L264.89 697.82L265.36 697.75L265.83 705.54L266.3 703.15L266.77 704.1L267.24 697.16L267.7 703.51L268.17 711.59L268.64 710.63L269.11 707.86L269.58 706.44L270.05 699.89L270.51 699.92L270.98 702.45L271.45 709.4L272.39 701.61L272.86 699.46L273.32 705.31L274.26 704.96L274.73 705.29L275.2 706.87L275.67 705.99L276.13 673.37L276.6 675.63L277.07 699.87L277.54 709.32L278.01 710.65L278.47 699.28L278.94 685.07L279.41 686.08L279.88 700.21L280.35 696.52L280.82 687.11L281.28 692.21L281.75 693.35L282.22 693.37L282.69 696.75L283.16 703.85L283.63 703.29L284.09 694L284.56 694.59L285.5 696.7L285.97 705.05L286.44 700.19L286.9 706.07L287.37 706.14L287.84 713.79L288.31 709.65L288.78 711.55L289.25 698.21L289.71 665.77L290.18 667.18L290.65 702.81L291.12 710.25L291.59 705.99L292.06 656.07L292.52 653.67L292.99 708.37L293.46 707.37L293.93 713.93L294.4 710.26L294.87 669.92L295.33 671.89L295.8 708.56L296.27 699.54L296.74 685.82L297.21 691.92L297.67 703.16L298.14 709.96L298.61 708.5L299.08 702.29L299.55 701.17L300.02 677.13L300.48 678.89L300.95 700.41L301.42 703.32L301.89 686.65L302.36 687.84L302.83 710.06L303.29 714.7L303.76 708.05L304.23 710.4L304.7 709.97L305.17 708.05L306.1 708.98L306.57 702.46L307.04 706.18L307.51 708.54L307.98 702.59L308.45 702.34L308.91 705.81L309.38 710.19L309.85 710.28L310.32 708.88L310.79 704.99L311.26 714.49L311.72 708.5L312.19 709.54L312.66 702.01L313.13 700.17L314.06 705.79L314.53 670.52L315 668.57L315.47 709.62L315.94 700.35L316.41 670.63L316.87 672.41L317.34 704.42L317.81 691.47L318.28 684.61L318.75 673.73L319.22 689.27L319.68 661.82L320.15 663.86L320.62 702.06L321.09 708.74L321.56 698.55L322.03 667.85L322.49 669.7L322.96 696.22L323.43 672.72L323.9 675.01L324.37 689.99L324.84 684.91L325.3 696.8L325.77 705.41L326.71 711.53L327.18 708.05L327.65 706.73L328.11 708.23L328.58 708.35L329.05 709.02L329.52 657.59L329.99 659.26L330.46 712.47L330.92 699.71L331.39 703.73L331.86 712.75L332.33 717.71L332.8 712.26L333.26 719.22L333.73 721.27L334.2 716.17L334.67 717.45L335.14 717.09L335.61 707.52L336.07 708.26L336.54 712.59L337.01 720.18L337.48 714.19L337.95 714.03L338.42 718.24L338.88 714.84L339.35 714.75L339.82 708.74L340.29 713.63L340.76 715.59L341.23 715.83L341.69 716.74L342.16 709.23L342.63 717.74L343.1 713.79L343.57 717.27L344.04 714.35L344.5 721.28L344.97 713.71L345.91 717.4L346.38 718.09L346.85 713.54L347.31 720.85L347.78 718.37L348.25 714.34L348.72 716.38L349.19 715.73L349.65 714.86L350.12 717L350.59 717.74L351.06 722.4L351.53 715.06L352.46 709.25L352.93 719.7L353.4 711.4L353.87 706.81L354.34 713.82L354.81 716.56L355.27 715.41L355.74 709.15L356.21 709.72L356.68 709.56L357.15 719.07L357.62 720.45L358.08 717.15L358.55 722.55L359.02 715.19L359.49 718.39L359.96 716.64L360.43 720.31L360.89 719.3L361.36 717.96L361.83 710.26L362.3 710L362.77 712.94L363.24 717.08L363.7 718.22L364.17 716.01L364.64 715.91L365.11 720.18L365.58 720.72L366.05 723.93L366.51 718.09L366.98 720.58L367.45 711.54L367.92 716.54L368.39 718.89L369.32 713.3L369.79 716.52L370.26 712.84L370.73 715.22L371.2 723.25L371.66 721.04L372.13 719.55L372.6 688.57L373.07 692.46L373.54 719.3L374.01 718.97L374.47 721.02L374.94 717.72L375.41 722.67L375.88 719.53L376.82 711.91L377.28 687.46L377.75 689.44L378.22 718.64L378.69 719.92L379.16 717.11L379.63 704.2L380.09 706.26L381.03 718.6L381.5 720.62L381.97 714.01L382.44 719.99L382.9 717.56L383.37 717.57L383.84 713.54L384.31 716.88L384.78 716.82L385.24 715.45L385.71 718.26L386.18 713.9L386.65 715.13L387.12 665.51L387.59 681.64L388.05 678.46L388.52 716.55L388.99 715.66L389.46 719.85L389.93 717.69L390.4 716.18L390.86 713.3L391.33 715.59L391.8 716.41L392.27 719.9L392.74 719.74L393.21 717.84L393.67 717.77L394.14 716.38L394.61 719.97L395.08 717.74L395.55 719.45L396.48 711.75L396.95 719.94L397.42 718.07L397.89 716.99L398.36 717.21L398.83 715.56L399.29 721.6L399.76 714.84L400.23 714.99L400.7 718.46L401.17 719.1L401.63 713.64L402.1 714.53L402.57 718.05L403.04 719.85L403.51 717.02L403.98 717.47L404.44 720.73L404.91 719.28L405.38 724.44L405.85 719.81L406.32 717.57L406.79 723.54L407.25 723.89L407.72 726.84L408.19 721.05L408.66 716.9L409.13 720.88L409.6 712.95L410.06 718.4L410.53 721.28L411.47 731.76L411.94 735.18L412.41 734.63L412.87 726.61L413.34 724.86L413.81 732.08L414.28 731.97L414.75 727.88L415.22 714.44L415.68 706.99L416.15 718.14L416.62 732.59L417.09 737.82L417.56 735.67L418.03 699.63L418.49 701.91L418.96 718.51L419.43 725.93L419.9 722.09L420.37 711.84L420.83 711.24L421.3 711.95L421.77 734.2L422.24 776.34L422.71 776.89L423.18 774.79L423.64 782.24L424.11 720.38L424.58 721.9L425.05 786.12L425.52 774.98L425.99 779.62L426.45 781.45L426.92 776.72L427.39 728.67L428.33 793.56L428.8 793.63L429.26 700.19L429.73 702.02L430.2 776.36L430.67 759.05L431.14 784.65L431.61 782.29L432.07 784.47L432.54 782.83L433.01 788.89L433.48 768.3L433.95 766.83L434.42 756.23L434.88 766.5L435.35 793.79L435.82 781.73L436.29 781.12L436.76 787.82L437.22 710.63L437.69 712.65L438.16 775.85L438.63 780.97L439.1 764.16L439.57 722.87L440.03 751.14L440.5 789.15L440.97 791.95L441.44 772.27L441.91 704.35L442.38 708.88L442.84 778.55L443.31 782.45L444.25 799.79L444.72 791.95L445.19 790.12L445.65 781.74L446.12 738.04L446.59 771.44L447.06 714.91L447.53 716.77L448 730.76L448.46 738.34L448.93 784.57L449.4 710.37L449.87 711.43L450.34 777.38L450.81 795.35L451.27 758.28L451.74 771.8L452.21 791.52L452.68 748.15L453.15 720.98L453.62 763.54L454.08 793.83L454.55 791.43L455.02 791.99L455.49 773.23L455.96 800.33L456.42 730.32L456.89 732.15L457.36 750.9L457.83 731.57L458.3 733.67L458.77 786.81L459.23 738.39L459.7 796.84L460.17 794.24L460.64 771.5L461.11 783.13L461.58 724.35L462.04 725.37L462.51 780.82L462.98 800.62L463.45 797.42L463.92 776.19L464.39 784.46L464.85 800.52L465.32 715.02L465.79 722.56L466.26 765.86L466.73 789.97L467.2 800.03L467.66 776.12L468.13 768.89L468.6 797.34L469.54 744.97L470.01 794.81L470.47 796.98L471.41 788.92L471.88 768.62L472.35 799.72L472.81 685.73L473.28 719.36L473.75 715.09L474.22 776.33L474.69 783.14L475.16 771.52L475.62 782.06L476.09 779.88L476.56 765.19L477.03 778.37L477.5 764.18L477.97 782.77L478.9 778.24L479.37 732.53L479.84 735.66L480.31 802.33L480.78 788.73L481.24 766.2L481.71 757.78L482.18 797.24L482.65 802.27L483.12 795.36L484.05 778.4L484.52 752.36L485.46 772.45L486.4 697.05L486.86 699.8L487.33 784.11L487.8 792.2L488.27 772.89L488.74 782.55L489.21 758.5L489.67 790.12L490.14 785.34L491.08 790.77L491.55 766.22L492.01 763.02L492.48 783.99L492.95 719.89L493.42 720.31L493.89 765.91L494.36 742.69L494.82 734.76L495.29 763.29L495.76 775.74L496.23 792.58L496.7 787.14L497.17 756.96L497.63 770.58L498.1 788.71L498.57 698.76L499.04 700.58L499.51 779.78L500.44 795.54L500.91 778.2L501.38 771.01L501.85 757.36L502.32 764.45L502.79 754.85L503.25 793.63L503.72 790.2L504.19 765.13L504.66 769.65L505.13 766.59L505.6 772.75L506.06 787.76L506.53 781.89L507 761.78L507.47 720.95L507.94 728.5L508.4 730.32L508.87 735.84L509.34 737.98L509.81 766.7L510.28 749.48L510.75 775.61L511.21 791.72L511.68 800.23L512.15 792.31L512.62 779.49L513.09 788.26L513.56 783.06L514.02 794.32L514.49 784.05L514.96 768.56L515.9 800.69L516.37 798.24L516.83 792.39L517.3 798.48L517.77 799.57L518.24 793.86L518.71 782.21L519.18 790.72L519.64 775.48L520.11 766.31L520.58 778.5L521.05 784.17L521.52 775.97L521.99 773.9L522.45 770.51L522.92 788.72L523.39 786.86L523.86 781.02L524.33 784.58L524.8 787.21L525.26 788.19L525.73 778.49L526.2 785.66L526.67 755.5L527.14 756.96L527.6 780.14L528.07 759.04L528.54 760.84L529.01 797.25L529.48 798.15L529.95 799.74L530.88 764.19L531.35 794.61L531.82 795.49L532.29 755.9L532.76 757.12L533.22 777.85L533.69 756.16L534.16 765.85L534.63 761.31L535.1 764.34L535.57 766.24L536.03 788.76L536.5 788.48L536.97 783.75L537.44 721.29L537.91 721.09L538.38 799.2L538.84 775.29L539.31 792.89L539.78 741.23L540.25 743.96L540.72 783.77L541.19 734.21L541.65 735.95L542.12 791.2L542.59 787.53L542.59 787.53" clip-path="url(#p14eb2305f6)" style="fill: none; stroke: #ff7f0e; stroke-opacity: 0.8; stroke-width: 1.6; stroke-linecap: square"/></g><g id="patch_15"><path d="M51.901 818.038L51.901 449.398" style="fill: none; stroke: #000000; stroke-width: 0.8; stroke-linejoin: miter; stroke-linecap: square"/></g><g id="patch_16"><path d="M566.701 818.038L566.701 449.398" style="fill: none; stroke: #000000; stroke-width: 0.8; stroke-linejoin: miter; stroke-linecap: square"/></g><g id="patch_17"><path d="M51.901 818.038L566.701 818.038" style="fill: none; stroke: #000000; stroke-width: 0.8; stroke-linejoin: miter; stroke-linecap: square"/></g><g id="patch_18"><path d="M51.901 449.398L566.701 449.398" style="fill: none; stroke: #000000; stroke-width: 0.8; stroke-linejoin: miter; stroke-linecap: square"/></g><g id="text_44" transform="translate(0.147 -0.044)"><text style="font-size: 12px; font-family: 'DejaVu Sans', 'Liberation Sans', sans-serif; text-anchor: middle" x="308.68" y="442.918">Physics Loss (PDE Residual)</text></g><g id="legend_3"><g id="patch_19"><path d="M477.42 487.56L559.5 487.56Q561.66 487.56 561.66 485.4L561.66 456.6Q561.66 454.44 559.5 454.44L477.42 454.44Q475.98 454.44 475.98 456.6L475.98 485.4Q475.98 487.56 477.42 487.56z" style="fill: #ffffff; opacity: 0.8; stroke: #cccccc; stroke-linejoin: miter"/></g><g id="line2d_180"><path d="M479.221 461.998L489.301 461.998L499.381 461.998" style="fill: none; stroke: #1f77b4; stroke-opacity: 0.8; stroke-width: 1.5; stroke-linecap: square"/></g><g id="text_45" transform="translate(0.012 0.95)"><text style="font-size: 10px; font-family: 'DejaVu Sans', 'Liberation Sans', sans-serif; text-anchor: start" x="507.6" y="465.517">Training</text></g><g id="line2d_181"><path d="M479.221 477.118L489.301 477.118L499.381 477.118" style="fill: none; stroke: #ff7f0e; stroke-opacity: 0.8; stroke-width: 1.5; stroke-linecap: square"/></g><g id="text_46" transform="translate(-0.752 1.494)"><text style="font-size: 10px; font-family: 'DejaVu Sans', 'Liberation Sans', sans-serif; text-anchor: start" x="507.6" y="480.195">Validation</text></g></g></g><g id="axes_4"><g id="patch_20"><path d="M621.781 817.678L1136.581 817.678L1136.581 449.038L621.781 449.038z" style="fill: #ffffff"/></g><g id="matplotlib.axis_7"><g id="xtick_19"><g id="line2d_182"><path d="M645.901 818.038L645.901 449.398" clip-path="url(#p7c5dd60a0a)" style="fill: none; stroke: #b0b0b0; stroke-opacity: 0.3; stroke-width: 0.8; stroke-linecap: square"/></g><g id="line2d_183"><g><use href="#m1504cfccaf" x="645.901" y="818.038" style="stroke: #000000; stroke-width: 0.8"/></g></g><g id="text_47" transform="translate(0.459 0.793)"><text style="font-size: 10px; font-family: 'DejaVu Sans', 'Liberation Sans', sans-serif; text-anchor: middle" x="645.369" y="832.077">0</text></g></g><g id="xtick_20"><g id="line2d_184"><path d="M739.501 818.038L739.501 449.398" clip-path="url(#p7c5dd60a0a)" style="fill: none; stroke: #b0b0b0; stroke-opacity: 0.3; stroke-width: 0.8; stroke-linecap: square"/></g><g id="line2d_185"><g><use href="#m1504cfccaf" x="739.501" y="818.038" style="stroke: #000000; stroke-width: 0.8"/></g></g><g id="text_48" transform="translate(0.292 0.997)"><text style="font-size: 10px; font-family: 'DejaVu Sans', 'Liberation Sans', sans-serif; text-anchor: middle" x="739.027" y="832.077">200</text></g></g><g id="xtick_21"><g id="line2d_186"><path d="M833.101 818.038L833.101 449.398" clip-path="url(#p7c5dd60a0a)" style="fill: none; stroke: #b0b0b0; stroke-opacity: 0.3; stroke-width: 0.8; stroke-linecap: square"/></g><g id="line2d_187"><g><use href="#m1504cfccaf" x="833.101" y="818.038" style="stroke: #000000; stroke-width: 0.8"/></g></g><g id="text_49" transform="translate(-0.265 0.916)"><text style="font-size: 10px; font-family: 'DejaVu Sans', 'Liberation Sans', sans-serif; text-anchor: middle" x="832.685" y="832.077">400</text></g></g><g id="xtick_22"><g id="line2d_188"><path d="M926.701 818.038L926.701 449.398" clip-path="url(#p7c5dd60a0a)" style="fill: none; stroke: #b0b0b0; stroke-opacity: 0.3; stroke-width: 0.8; stroke-linecap: square"/></g><g id="line2d_189"><g><use href="#m1504cfccaf" x="926.701" y="818.038" style="stroke: #000000; stroke-width: 0.8"/></g></g><g id="text_50" transform="translate(0.227 0.838)"><text style="font-size: 10px; font-family: 'DejaVu Sans', 'Liberation Sans', sans-serif; text-anchor: middle" x="926.343" y="832.077">600</text></g></g><g id="xtick_23"><g id="line2d_190"><path d="M1020.301 818.038L1020.301 449.398" clip-path="url(#p7c5dd60a0a)" style="fill: none; stroke: #b0b0b0; stroke-opacity: 0.3; stroke-width: 0.8; stroke-linecap: square"/></g><g id="line2d_191"><g><use href="#m1504cfccaf" x="1020.301" y="818.038" style="stroke: #000000; stroke-width: 0.8"/></g></g><g id="text_51" transform="translate(0.143 1.09)"><text style="font-size: 10px; font-family: 'DejaVu Sans', 'Liberation Sans', sans-serif; text-anchor: middle" x="1020" y="832.077">800</text></g></g><g id="xtick_24"><g id="line2d_192"><path d="M1113.901 818.038L1113.901 449.398" clip-path="url(#p7c5dd60a0a)" style="fill: none; stroke: #b0b0b0; stroke-opacity: 0.3; stroke-width: 0.8; stroke-linecap: square"/></g><g id="line2d_193"><g><use href="#m1504cfccaf" x="1113.901" y="818.038" style="stroke: #000000; stroke-width: 0.8"/></g></g><g id="text_52" transform="translate(-0.209 1.043)"><text style="font-size: 10px; font-family: 'DejaVu Sans', 'Liberation Sans', sans-serif; text-anchor: middle" x="1113.658" y="832.077">1000</text></g></g><g id="text_53" transform="translate(0.238 1.519)"><text style="font-size: 10px; font-family: 'DejaVu Sans', 'Liberation Sans', sans-serif; text-anchor: middle" x="879.28" y="845.755">Epoch</text></g></g><g id="matplotlib.axis_8"><g id="ytick_121"><g id="line2d_194"><path d="M622.141 764.038L1136.941 764.038" clip-path="url(#p7c5dd60a0a)" style="fill: none; stroke: #b0b0b0; stroke-opacity: 0.3; stroke-width: 0.8; stroke-linecap: square"/></g><g id="line2d_195"><g><use href="#m5d545ce8f8" x="622.141" y="764.038" style="stroke: #000000; stroke-width: 0.8"/></g></g><g id="text_54" transform="translate(-0.36 1.709)"><g transform="translate(591.478 767.24)"><text><tspan x="0" y="-0.064" style="font-size: 10px; font-family: 'DejaVu Sans', 'Liberation Sans', sans-serif">1</tspan><tspan x="6.362" y="-0.064" style="font-size: 10px; font-family: 'DejaVu Sans', 'Liberation Sans', sans-serif">0</tspan><tspan x="12.82" y="-3.892" style="font-size: 7px; font-family: 'DejaVu Sans', 'Liberation Sans', sans-serif">−</tspan><tspan x="18.686" y="-3.892" style="font-size: 7px; font-family: 'DejaVu Sans', 'Liberation Sans', sans-serif">7</tspan></text></g></g></g><g id="ytick_122"><g id="line2d_196"><path d="M622.141 705.718L1136.941 705.718" clip-path="url(#p7c5dd60a0a)" style="fill: none; stroke: #b0b0b0; stroke-opacity: 0.3; stroke-width: 0.8; stroke-linecap: square"/></g><g id="line2d_197"><g><use href="#m5d545ce8f8" x="622.141" y="705.718" style="stroke: #000000; stroke-width: 0.8"/></g></g><g id="text_55" transform="translate(-0.464 2.989)"><g transform="translate(591.478 709.244)"><text><tspan x="0" y="-0.977" style="font-size: 10px; font-family: 'DejaVu Sans', 'Liberation Sans', sans-serif">1</tspan><tspan x="6.362" y="-0.977" style="font-size: 10px; font-family: 'DejaVu Sans', 'Liberation Sans', sans-serif">0</tspan><tspan x="12.82" y="-4.805" style="font-size: 7px; font-family: 'DejaVu Sans', 'Liberation Sans', sans-serif">−</tspan><tspan x="18.686" y="-4.805" style="font-size: 7px; font-family: 'DejaVu Sans', 'Liberation Sans', sans-serif">6</tspan></text></g></g></g><g id="ytick_123"><g id="line2d_198"><path d="M622.141 648.118L1136.941 648.118" clip-path="url(#p7c5dd60a0a)" style="fill: none; stroke: #b0b0b0; stroke-opacity: 0.3; stroke-width: 0.8; stroke-linecap: square"/></g><g id="line2d_199"><g><use href="#m5d545ce8f8" x="622.141" y="648.118" style="stroke: #000000; stroke-width: 0.8"/></g></g><g id="text_56" transform="translate(-0.436 1.731)"><g transform="translate(591.478 651.248)"><text><tspan x="0" y="-0.064" style="font-size: 10px; font-family: 'DejaVu Sans', 'Liberation Sans', sans-serif">1</tspan><tspan x="6.362" y="-0.064" style="font-size: 10px; font-family: 'DejaVu Sans', 'Liberation Sans', sans-serif">0</tspan><tspan x="12.82" y="-3.892" style="font-size: 7px; font-family: 'DejaVu Sans', 'Liberation Sans', sans-serif">−</tspan><tspan x="18.686" y="-3.892" style="font-size: 7px; font-family: 'DejaVu Sans', 'Liberation Sans', sans-serif">5</tspan></text></g></g></g><g id="ytick_124"><g id="line2d_200"><path d="M622.141 589.798L1136.941 589.798" clip-path="url(#p7c5dd60a0a)" style="fill: none; stroke: #b0b0b0; stroke-opacity: 0.3; stroke-width: 0.8; stroke-linecap: square"/></g><g id="line2d_201"><g><use href="#m5d545ce8f8" x="622.141" y="589.798" style="stroke: #000000; stroke-width: 0.8"/></g></g><g id="text_57" transform="translate(-0.4 1.903)"><g transform="translate(591.478 593.252)"><text><tspan x="0" y="-0.064" style="font-size: 10px; font-family: 'DejaVu Sans', 'Liberation Sans', sans-serif">1</tspan><tspan x="6.362" y="-0.064" style="font-size: 10px; font-family: 'DejaVu Sans', 'Liberation Sans', sans-serif">0</tspan><tspan x="12.82" y="-3.892" style="font-size: 7px; font-family: 'DejaVu Sans', 'Liberation Sans', sans-serif">−</tspan><tspan x="18.686" y="-3.892" style="font-size: 7px; font-family: 'DejaVu Sans', 'Liberation Sans', sans-serif">4</tspan></text></g></g></g><g id="ytick_125"><g id="line2d_202"><path d="M622.141 531.478L1136.941 531.478" clip-path="url(#p7c5dd60a0a)" style="fill: none; stroke: #b0b0b0; stroke-opacity: 0.3; stroke-width: 0.8; stroke-linecap: square"/></g><g id="line2d_203"><g><use href="#m5d545ce8f8" x="622.141" y="531.478" style="stroke: #000000; stroke-width: 0.8"/></g></g><g id="text_58" transform="translate(-0.455 2.607)"><g transform="translate(591.478 535.256)"><text><tspan x="0" y="-0.977" style="font-size: 10px; font-family: 'DejaVu Sans', 'Liberation Sans', sans-serif">1</tspan><tspan x="6.362" y="-0.977" style="font-size: 10px; font-family: 'DejaVu Sans', 'Liberation Sans', sans-serif">0</tspan><tspan x="12.82" y="-4.805" style="font-size: 7px; font-family: 'DejaVu Sans', 'Liberation Sans', sans-serif">−</tspan><tspan x="18.686" y="-4.805" style="font-size: 7px; font-family: 'DejaVu Sans', 'Liberation Sans', sans-serif">3</tspan></text></g></g></g><g id="ytick_126"><g id="line2d_204"><path d="M622.141 473.878L1136.941 473.878" clip-path="url(#p7c5dd60a0a)" style="fill: none; stroke: #b0b0b0; stroke-opacity: 0.3; stroke-width: 0.8; stroke-linecap: square"/></g><g id="line2d_205"><g><use href="#m5d545ce8f8" x="622.141" y="473.878" style="stroke: #000000; stroke-width: 0.8"/></g></g><g id="text_59" transform="translate(-0.387 3.268)"><g transform="translate(591.478 477.26)"><text><tspan x="0" y="-0.977" style="font-size: 10px; font-family: 'DejaVu Sans', 'Liberation Sans', sans-serif">1</tspan><tspan x="6.362" y="-0.977" style="font-size: 10px; font-family: 'DejaVu Sans', 'Liberation Sans', sans-serif">0</tspan><tspan x="12.82" y="-4.805" style="font-size: 7px; font-family: 'DejaVu Sans', 'Liberation Sans', sans-serif">−</tspan><tspan x="18.686" y="-4.805" style="font-size: 7px; font-family: 'DejaVu Sans', 'Liberation Sans', sans-serif">2</tspan></text></g></g></g><g id="ytick_127"><g id="line2d_206"><g><use href="#mc3d89a154a" x="622.141" y="804.358" style="stroke: #000000; stroke-width: 0.6"/></g></g></g><g id="ytick_128"><g id="line2d_207"><g><use href="#mc3d89a154a" x="622.141" y="794.278" style="stroke: #000000; stroke-width: 0.6"/></g></g></g><g id="ytick_129"><g id="line2d_208"><g><use href="#mc3d89a154a" x="622.141" y="787.078" style="stroke: #000000; stroke-width: 0.6"/></g></g></g><g id="ytick_130"><g id="line2d_209"><g><use href="#mc3d89a154a" x="622.141" y="781.318" style="stroke: #000000; stroke-width: 0.6"/></g></g></g><g id="ytick_131"><g id="line2d_210"><g><use href="#mc3d89a154a" x="622.141" y="776.998" style="stroke: #000000; stroke-width: 0.6"/></g></g></g><g id="ytick_132"><g id="line2d_211"><g><use href="#mc3d89a154a" x="622.141" y="772.678" style="stroke: #000000; stroke-width: 0.6"/></g></g></g><g id="ytick_133"><g id="line2d_212"><g><use href="#mc3d89a154a" x="622.141" y="769.078" style="stroke: #000000; stroke-width: 0.6"/></g></g></g><g id="ytick_134"><g id="line2d_213"><g><use href="#mc3d89a154a" x="622.141" y="766.198" style="stroke: #000000; stroke-width: 0.6"/></g></g></g><g id="ytick_135"><g id="line2d_214"><g><use href="#mc3d89a154a" x="622.141" y="746.038" style="stroke: #000000; stroke-width: 0.6"/></g></g></g><g id="ytick_136"><g id="line2d_215"><g><use href="#mc3d89a154a" x="622.141" y="735.958" style="stroke: #000000; stroke-width: 0.6"/></g></g></g><g id="ytick_137"><g id="line2d_216"><g><use href="#mc3d89a154a" x="622.141" y="728.758" style="stroke: #000000; stroke-width: 0.6"/></g></g></g><g id="ytick_138"><g id="line2d_217"><g><use href="#mc3d89a154a" x="622.141" y="722.998" style="stroke: #000000; stroke-width: 0.6"/></g></g></g><g id="ytick_139"><g id="line2d_218"><g><use href="#mc3d89a154a" x="622.141" y="718.678" style="stroke: #000000; stroke-width: 0.6"/></g></g></g><g id="ytick_140"><g id="line2d_219"><g><use href="#mc3d89a154a" x="622.141" y="715.078" style="stroke: #000000; stroke-width: 0.6"/></g></g></g><g id="ytick_141"><g id="line2d_220"><g><use href="#mc3d89a154a" x="622.141" y="711.478" style="stroke: #000000; stroke-width: 0.6"/></g></g></g><g id="ytick_142"><g id="line2d_221"><g><use href="#mc3d89a154a" x="622.141" y="708.598" style="stroke: #000000; stroke-width: 0.6"/></g></g></g><g id="ytick_143"><g id="line2d_222"><g><use href="#mc3d89a154a" x="622.141" y="688.438" style="stroke: #000000; stroke-width: 0.6"/></g></g></g><g id="ytick_144"><g id="line2d_223"><g><use href="#mc3d89a154a" x="622.141" y="678.358" style="stroke: #000000; stroke-width: 0.6"/></g></g></g><g id="ytick_145"><g id="line2d_224"><g><use href="#mc3d89a154a" x="622.141" y="671.158" style="stroke: #000000; stroke-width: 0.6"/></g></g></g><g id="ytick_146"><g id="line2d_225"><g><use href="#mc3d89a154a" x="622.141" y="665.398" style="stroke: #000000; stroke-width: 0.6"/></g></g></g><g id="ytick_147"><g id="line2d_226"><g><use href="#mc3d89a154a" x="622.141" y="660.358" style="stroke: #000000; stroke-width: 0.6"/></g></g></g><g id="ytick_148"><g id="line2d_227"><g><use href="#mc3d89a154a" x="622.141" y="656.758" style="stroke: #000000; stroke-width: 0.6"/></g></g></g><g id="ytick_149"><g id="line2d_228"><g><use href="#mc3d89a154a" x="622.141" y="653.158" style="stroke: #000000; stroke-width: 0.6"/></g></g></g><g id="ytick_150"><g id="line2d_229"><g><use href="#mc3d89a154a" x="622.141" y="650.278" style="stroke: #000000; stroke-width: 0.6"/></g></g></g><g id="ytick_151"><g id="line2d_230"><g><use href="#mc3d89a154a" x="622.141" y="630.118" style="stroke: #000000; stroke-width: 0.6"/></g></g></g><g id="ytick_152"><g id="line2d_231"><g><use href="#mc3d89a154a" x="622.141" y="620.038" style="stroke: #000000; stroke-width: 0.6"/></g></g></g><g id="ytick_153"><g id="line2d_232"><g><use href="#mc3d89a154a" x="622.141" y="612.838" style="stroke: #000000; stroke-width: 0.6"/></g></g></g><g id="ytick_154"><g id="line2d_233"><g><use href="#mc3d89a154a" x="622.141" y="607.078" style="stroke: #000000; stroke-width: 0.6"/></g></g></g><g id="ytick_155"><g id="line2d_234"><g><use href="#mc3d89a154a" x="622.141" y="602.758" style="stroke: #000000; stroke-width: 0.6"/></g></g></g><g id="ytick_156"><g id="line2d_235"><g><use href="#mc3d89a154a" x="622.141" y="598.438" style="stroke: #000000; stroke-width: 0.6"/></g></g></g><g id="ytick_157"><g id="line2d_236"><g><use href="#mc3d89a154a" x="622.141" y="595.558" style="stroke: #000000; stroke-width: 0.6"/></g></g></g><g id="ytick_158"><g id="line2d_237"><g><use href="#mc3d89a154a" x="622.141" y="592.678" style="stroke: #000000; stroke-width: 0.6"/></g></g></g><g id="ytick_159"><g id="line2d_238"><g><use href="#mc3d89a154a" x="622.141" y="572.518" style="stroke: #000000; stroke-width: 0.6"/></g></g></g><g id="ytick_160"><g id="line2d_239"><g><use href="#mc3d89a154a" x="622.141" y="562.438" style="stroke: #000000; stroke-width: 0.6"/></g></g></g><g id="ytick_161"><g id="line2d_240"><g><use href="#mc3d89a154a" x="622.141" y="555.238" style="stroke: #000000; stroke-width: 0.6"/></g></g></g><g id="ytick_162"><g id="line2d_241"><g><use href="#mc3d89a154a" x="622.141" y="549.478" style="stroke: #000000; stroke-width: 0.6"/></g></g></g><g id="ytick_163"><g id="line2d_242"><g><use href="#mc3d89a154a" x="622.141" y="544.438" style="stroke: #000000; stroke-width: 0.6"/></g></g></g><g id="ytick_164"><g id="line2d_243"><g><use href="#mc3d89a154a" x="622.141" y="540.838" style="stroke: #000000; stroke-width: 0.6"/></g></g></g><g id="ytick_165"><g id="line2d_244"><g><use href="#mc3d89a154a" x="622.141" y="537.238" style="stroke: #000000; stroke-width: 0.6"/></g></g></g><g id="ytick_166"><g id="line2d_245"><g><use href="#mc3d89a154a" x="622.141" y="534.358" style="stroke: #000000; stroke-width: 0.6"/></g></g></g><g id="ytick_167"><g id="line2d_246"><g><use href="#mc3d89a154a" x="622.141" y="514.198" style="stroke: #000000; stroke-width: 0.6"/></g></g></g><g id="ytick_168"><g id="line2d_247"><g><use href="#mc3d89a154a" x="622.141" y="504.118" style="stroke: #000000; stroke-width: 0.6"/></g></g></g><g id="ytick_169"><g id="line2d_248"><g><use href="#mc3d89a154a" x="622.141" y="496.918" style="stroke: #000000; stroke-width: 0.6"/></g></g></g><g id="ytick_170"><g id="line2d_249"><g><use href="#mc3d89a154a" x="622.141" y="491.158" style="stroke: #000000; stroke-width: 0.6"/></g></g></g><g id="ytick_171"><g id="line2d_250"><g><use href="#mc3d89a154a" x="622.141" y="486.838" style="stroke: #000000; stroke-width: 0.6"/></g></g></g><g id="ytick_172"><g id="line2d_251"><g><use href="#mc3d89a154a" x="622.141" y="482.518" style="stroke: #000000; stroke-width: 0.6"/></g></g></g><g id="ytick_173"><g id="line2d_252"><g><use href="#mc3d89a154a" x="622.141" y="479.638" style="stroke: #000000; stroke-width: 0.6"/></g></g></g><g id="ytick_174"><g id="line2d_253"><g><use href="#mc3d89a154a" x="622.141" y="476.758" style="stroke: #000000; stroke-width: 0.6"/></g></g></g><g id="ytick_175"><g id="line2d_254"><g><use href="#mc3d89a154a" x="622.141" y="456.598" style="stroke: #000000; stroke-width: 0.6"/></g></g></g><g id="text_60" transform="translate(-0.548 2.45)"><text style="font-size: 10px; font-family: 'DejaVu Sans', 'Liberation Sans', sans-serif; text-anchor: middle" x="585.398" y="633.198" transform="rotate(-90 585.398 633.198)">Loss</text></g></g><g id="line2d_255"><path d="M645.37 465.67L645.84 566.25L646.31 606.85L646.77 636.3L647.24 655.91L647.71 626.88L648.18 606.84L648.65 605.69L649.12 603.93L649.58 612.75L650.05 630.97L650.52 634.14L650.99 602.27L651.46 621.89L651.93 633.37L652.39 638.7L652.86 639.43L653.33 634.27L653.8 623.26L654.27 627.76L655.2 638.25L655.67 628.78L656.14 646.71L656.61 635.51L657.08 603.19L657.54 627.2L658.01 632.49L658.48 588.44L658.95 618.61L659.42 574.95L659.89 576.11L660.35 599.27L660.82 588.68L661.29 629.02L661.76 626.41L662.23 621.04L662.7 635.58L663.16 661.08L663.63 625.12L664.1 671.81L664.57 670.65L665.04 622.29L665.51 594.54L665.97 591.28L666.44 635.65L666.91 640.21L667.38 611.37L667.85 639.88L668.32 643.97L668.78 625.98L669.25 651.4L669.72 660.41L670.19 661.79L670.66 636.04L671.13 633.66L671.59 616.06L672.06 617.27L672.53 616.47L673 623.58L673.47 615.23L673.93 622.51L674.4 644.18L674.87 615.67L675.34 601.17L675.81 590.21L676.28 610.86L676.74 638.08L677.21 656.1L677.68 662.56L678.15 662.61L678.62 630.27L679.09 638.18L679.55 662.75L680.02 639.05L680.49 632.45L680.96 638.61L681.43 637.92L681.9 633.64L682.36 621.15L682.83 652.71L683.77 638.32L684.24 613.47L684.71 635.85L685.17 609.64L685.64 604.61L686.11 596.35L686.58 626.53L687.52 615.74L687.98 650.24L688.45 645.22L688.92 638.21L689.39 648.34L689.86 649.36L690.32 658.88L690.79 648.39L691.26 627.13L691.73 638.97L692.2 588.87L692.67 590.03L693.13 626.57L693.6 631.8L694.07 632.93L694.54 640.26L695.01 623.99L695.48 633.37L695.94 633.59L696.41 653.45L696.88 665.03L697.35 649.98L697.82 601.68L698.29 611.36L698.75 596.77L699.69 619.22L700.16 636.47L700.63 635.86L701.1 601.31L701.56 596.43L702.03 631.52L702.5 644.01L702.97 612.92L703.44 628.71L703.91 620.39L704.37 638.89L704.84 628.69L705.31 601.2L705.78 605.3L706.25 562.77L706.72 563.93L707.18 632.28L707.65 633.22L708.12 612.93L708.59 603.49L709.06 616.14L709.52 650L709.99 651.67L710.46 632.12L710.93 629.52L711.4 654.89L711.87 633.24L712.33 596.13L712.8 632.02L713.27 642.42L713.74 606.09L714.68 643.82L715.61 623.03L716.08 636.03L716.55 621.21L717.02 657.53L717.95 622.79L718.42 633.99L718.89 629.41L719.36 630.61L719.83 612.31L720.3 631.44L720.76 639.41L721.23 658.31L721.7 665.19L722.17 648.49L722.64 663.04L723.11 662.29L723.57 664.45L724.04 654.73L724.98 619.21L725.45 660.2L725.91 655.36L726.38 623.42L726.85 606.19L727.32 601.6L727.79 648.48L728.26 656.84L728.72 631.49L729.19 616.48L729.66 624.34L730.13 630.15L730.6 630.79L731.07 647.78L731.53 640.85L732 622.5L732.47 636.26L732.94 620.87L733.41 672.72L733.88 666.58L734.34 612.33L735.28 606.84L735.75 623.69L736.22 656.5L736.69 591.77L737.15 592.93L737.62 656.25L738.09 669.53L738.56 673.8L739.5 650.26L739.96 632.89L740.43 647.96L740.9 617.71L741.37 614.48L741.84 641.93L742.31 659.92L742.77 672.73L743.24 650.22L743.71 606.15L744.18 626.36L744.65 658.55L745.11 649.78L745.58 649.46L746.05 659.78L746.52 675.89L746.99 657.41L747.46 616.79L747.92 608.41L748.39 614.7L748.86 629.63L749.33 631.8L749.8 620.83L750.27 634.11L750.73 637.46L751.2 646.06L751.67 626.47L752.14 647.98L752.61 638.53L753.08 622.45L753.54 621.44L754.01 623.79L754.48 644.4L754.95 655.89L755.89 652.57L756.35 664.81L756.82 597.57L757.29 598.73L757.76 664.4L758.23 645.38L758.7 653.18L759.16 645.91L759.63 617.44L760.1 607.34L760.57 629.81L761.04 627.13L761.5 631.71L761.97 607.84L762.44 607.96L762.91 612.5L763.38 638.1L763.85 650.33L764.31 638.01L764.78 641.13L765.25 649.61L765.72 635.88L766.66 681.23L767.12 679.27L767.59 673.57L768.06 657.05L768.53 661.36L769 656.84L769.47 681.73L769.93 592.93L770.4 594.09L770.87 657.96L771.34 648.95L771.81 624.06L772.28 623.05L772.74 641.9L773.21 638.05L773.68 627.82L774.15 660.51L774.62 681.9L775.09 669.89L775.55 636.73L776.02 615.53L776.49 633.89L776.96 622.36L777.43 619.5L778.36 661.88L778.83 665.92L779.3 653.14L779.77 625.19L780.24 623.71L780.7 664.24L781.17 680.93L781.64 646.43L782.11 639.83L782.58 664.12L783.05 646.7L783.51 621.83L783.98 625.67L784.45 642.02L784.92 627.4L785.86 663.87L786.32 671.21L786.79 627.18L787.26 614.55L787.73 634.26L788.2 641.84L788.67 639L789.6 624.04L790.07 630.53L791.01 661.42L791.94 687.94L792.41 675.76L793.35 659.08L793.82 654.27L794.29 670.87L794.75 669.91L795.22 650.44L795.69 647.04L796.16 666.68L796.63 673.41L797.09 650.45L797.56 645.1L798.03 646.82L798.5 654.2L798.97 643.23L799.44 646.58L799.9 617.9L800.84 670.29L801.31 633.22L801.78 642.43L802.25 668.62L802.71 654.48L803.18 690.19L803.65 667.29L804.12 651.58L804.59 651.14L805.06 666.99L805.52 640.85L805.99 640L806.46 653.96L806.93 650.53L807.4 667.36L807.87 665.7L808.33 682.74L808.8 687.67L809.27 661.33L810.21 644.04L810.68 662.3L811.14 664.94L811.61 670.05L812.08 659.34L812.55 625.99L813.02 627.15L813.48 640L813.95 666.87L814.42 661.69L814.89 674.19L815.36 694.08L815.83 672.08L816.29 656.38L816.76 646.35L817.23 639.69L817.7 673.24L818.17 685.04L818.64 667.56L819.1 658.95L819.57 652.88L820.04 678.64L820.51 675.52L821.45 624.14L821.91 666.04L822.38 644.67L822.85 652.58L823.32 687.64L823.79 651.45L824.26 668.33L824.72 689.98L825.19 659.73L825.66 639.01L826.13 652.56L827.07 693.17L827.53 680.59L828 711.78L828.47 719.12L828.94 687.42L829.41 741.98L829.88 740.82L830.34 684.3L830.81 713.04L831.28 701.86L831.75 721.72L832.22 703.48L832.68 673.83L833.15 705.09L833.62 692.71L834.09 692.37L834.56 702.92L835.03 728.66L835.49 716.49L835.96 688.88L836.43 718.45L836.9 719.3L837.37 714.07L837.84 728.01L838.3 698.01L838.77 693.14L839.24 700.88L839.71 685.92L840.18 705.15L840.65 665.45L841.11 683.46L841.58 720.47L842.05 701.08L842.52 690.91L842.99 712.09L843.46 720.31L843.92 695.82L844.39 690.59L844.86 692.91L845.33 684.73L845.8 703.93L846.27 686.55L846.73 691.26L847.2 690.06L847.67 709.11L848.14 697.02L848.61 691.29L849.07 666.29L849.54 684.47L850.01 678.69L850.48 679.49L850.95 671.81L851.42 685.46L851.88 692.11L852.35 728.18L852.82 730.5L853.29 695.25L853.76 686.76L854.23 686.19L854.69 699.79L855.16 691.48L855.63 701.28L856.1 705.11L856.57 683.2L857.04 675.37L857.5 700.39L857.97 704.37L858.44 697.98L858.91 698.42L859.38 696.35L859.85 703.31L860.31 684.37L860.78 692.1L861.25 701.82L861.72 669.4L862.19 646.93L862.66 646.93L863.12 661.71L863.59 686.72L864.06 674.37L864.53 651.55L865.47 686.53L865.93 706.95L866.4 710.77L866.87 668.09L867.34 690.1L867.81 700.74L868.74 680.45L869.21 697.73L870.15 668.44L870.62 676.37L871.08 689.94L871.55 691.24L872.02 710.45L872.49 686.69L872.96 685.01L873.43 704.06L873.89 691.93L874.36 674.78L874.83 672.8L875.3 669.73L875.77 659.09L876.24 681.51L876.7 683.43L877.17 677L877.64 700.3L878.11 676.91L879.05 681.38L879.51 676.07L879.98 691.6L880.92 661.01L881.39 672.47L881.86 710.77L882.32 683.9L882.79 674.45L883.26 692.42L883.73 694.93L884.2 701.2L884.66 694.97L885.13 676.07L885.6 693.48L886.07 687.39L886.54 689.37L887.01 690.25L887.47 689.49L887.94 680.99L888.41 664.55L888.88 675.12L889.35 668.85L889.82 652.41L890.28 692.24L890.75 681.94L891.22 681.41L891.69 687.25L892.16 668.95L892.63 678.82L893.09 692.7L893.56 667.79L894.03 656.19L894.5 667.81L894.97 646.93L895.9 710.77L896.37 696.13L896.84 699L897.31 684.97L897.78 687.72L898.25 694.27L898.71 694.88L899.18 710.89L899.65 736.87L900.12 738.06L900.59 721.19L901.06 727.19L901.52 722.64L901.99 710.27L902.46 715.1L903.4 741.91L903.86 733.47L904.33 713.77L904.8 709.4L905.27 715.91L905.74 737.65L906.21 732.4L906.67 723.2L907.14 716.66L907.61 740.69L908.08 747.16L908.55 736.45L909.02 732.26L909.48 739.66L909.95 732.23L910.42 734.85L910.89 723.63L911.36 733.68L911.83 734.87L912.29 753.54L912.76 742.52L913.23 739.82L913.7 730.19L914.17 732.38L914.64 721.57L915.1 733.5L915.57 750.71L916.51 726.55L917.45 750.4L918.38 718.33L918.85 720.27L919.32 729.3L919.79 733.92L920.25 716.05L920.72 716.21L921.19 736.76L921.66 745.67L922.6 707.12L923.06 723.03L923.53 730.55L924 708.17L924.47 714.44L924.94 706.78L925.41 725.72L925.87 736.59L926.34 744.21L926.81 728.26L927.28 722.29L927.75 740.92L928.22 725.68L928.68 722.72L929.15 723.17L929.62 697.66L930.09 691.95L930.56 702.31L931.49 734.26L931.96 732.94L932.43 725.97L932.9 700.96L933.37 720.79L933.84 729.85L934.77 711.23L935.24 697.86L935.71 689L936.18 709.31L936.65 689.25L937.11 692.5L937.58 722.76L938.05 734.5L938.99 722.93L939.45 707.11L939.92 722.44L940.39 729.54L940.86 731.54L941.33 719.09L941.8 733.91L942.26 719.33L942.73 723.66L943.2 724.9L943.67 712.24L944.14 709.39L944.61 683.41L945.07 709.87L945.54 744.21L946.01 744.21L946.48 714.52L946.95 725.47L947.42 709.74L947.88 712.69L948.35 707.61L948.82 731.88L949.76 691.96L950.23 721.62L951.16 683.41L951.63 697.37L952.1 729.05L952.57 730.69L953.04 724.58L953.97 683.41L954.44 709.6L955.38 736.22L955.84 732.6L956.31 713.93L956.78 739.69L957.72 698.46L958.19 692.23L959.12 740.72L959.59 730.63L960.06 732.06L960.53 744.21L961 738.02L961.46 684.57L961.93 685.73L962.87 698.25L963.34 725.62L963.81 704.8L964.27 712.4L964.74 707.1L965.21 724.65L965.68 715.35L966.15 734.47L966.62 729.97L967.08 721.27L967.55 736.07L968.02 725.45L968.49 724.16L968.96 725.09L969.89 690.1L970.36 707.68L970.83 695.97L971.3 688.41L971.77 693.72L972.23 682.32L972.7 720.16L973.17 701.74L973.64 694.1L974.11 711.66L974.58 713.05L975.04 693.72L975.51 681.4L975.98 686.6L976.45 715.93L976.92 731.09L977.85 693.77L978.32 707.73L978.79 694.23L979.26 685.82L979.73 689.07L980.2 706.9L980.66 686.59L981.13 674.98L981.6 670.56L982.07 681.63L982.54 710.57L983.01 699.4L983.47 679.61L983.94 690.39L984.41 709.66L985.35 679.58L985.82 705.27L986.75 716.36L987.22 698.28L987.69 688L988.16 665.66L988.63 693.63L989.09 679.86L989.56 686.2L990.03 690.43L990.5 706.81L990.97 700.27L991.43 699.23L991.9 697.35L993.31 676.16L993.78 686.29L994.24 703.66L994.71 683.36L995.18 683.04L995.65 699.07L996.12 675.75L997.05 678.56L997.52 708.49L997.99 710.16L998.46 665.77L998.93 668.59L999.4 680.13L999.86 697.03L1000.33 697.27L1000.8 686.4L1001.27 689.2L1001.74 693.65L1002.21 715.69L1002.67 714.82L1003.14 705.17L1003.61 690.14L1004.08 684.11L1004.55 693.29L1005.02 707.15L1005.48 712.55L1005.95 701.05L1006.42 716.12L1006.89 712.77L1007.36 707.61L1007.82 708.32L1008.29 681.06L1008.76 693.77L1009.23 692.24L1009.7 673.73L1010.17 684.44L1010.63 700.23L1011.1 720.04L1011.57 689.27L1012.51 730.97L1012.98 703.6L1013.91 728.9L1014.38 721.09L1014.85 724.11L1015.32 731.04L1015.79 716.04L1016.25 696.12L1016.72 689.91L1017.66 710.12L1018.13 714.18L1018.6 690.83L1019.06 683.39L1019.53 705.21L1020 703.85L1020.47 718.1L1020.94 706.2L1021.41 715.58L1021.87 713.82L1022.34 709.07L1022.81 731.22L1023.28 713.76L1023.75 700.89L1024.22 715.46L1024.68 719.48L1025.15 711.29L1025.62 708.21L1026.09 700.26L1026.56 700.19L1027.02 695.6L1027.49 697.61L1027.96 721.71L1028.43 731.35L1028.9 708.49L1029.37 696.39L1029.83 702.88L1030.3 722.13L1030.77 722.75L1031.24 720.25L1031.71 701.83L1032.18 711.5L1032.64 727.79L1033.11 724.17L1033.58 706.62L1034.05 679.83L1034.52 701.27L1034.99 692.64L1035.92 713.73L1036.39 718.93L1036.86 700.14L1037.33 706.5L1037.8 695.02L1038.26 704.44L1038.73 682.49L1039.2 689.12L1039.67 702.85L1040.14 719.85L1040.61 694.83L1041.07 691.01L1041.54 701.66L1042.01 704.1L1042.48 711.01L1042.95 714.55L1043.41 703.6L1043.88 712.75L1044.35 711.64L1044.82 672.14L1045.76 709.1L1046.22 693.44L1046.69 711.38L1047.16 691.15L1047.63 694.19L1048.1 719.41L1048.57 713.89L1049.03 714.39L1049.5 699.57L1049.97 651.51L1050.44 652.67L1050.91 724.54L1051.38 722.48L1051.84 699.58L1052.31 693.03L1052.78 700.12L1053.72 687.63L1054.19 699.06L1054.65 701.71L1055.12 689.88L1055.59 695.68L1056.06 732.01L1056.53 732.02L1057 723.19L1057.46 699.61L1057.93 698.88L1058.4 694.82L1058.87 685.18L1059.34 689.41L1059.81 713.53L1060.27 699.59L1060.74 716.9L1061.21 730.01L1061.68 719.01L1062.15 732.16L1062.61 697.6L1063.08 671.38L1064.49 732.21L1064.96 712.58L1065.42 711.67L1065.89 726L1066.36 731.6L1066.83 716.78L1067.3 710.07L1067.77 709.65L1068.23 715.31L1068.7 732.32L1069.17 698.55L1069.64 684.26L1070.11 709.16L1070.58 727.79L1071.04 728.32L1071.51 704.46L1071.98 694.51L1072.45 699.24L1072.92 687.3L1073.39 706.38L1073.85 690L1074.32 694.04L1074.79 715.41L1075.26 705.19L1075.73 698.6L1076.2 713.77L1076.66 685.64L1077.13 716.39L1077.6 714.07L1078.07 699.14L1078.54 713.34L1079 710.72L1079.47 687.11L1079.94 712.69L1080.41 727.67L1080.88 717.97L1081.35 713.41L1081.81 710.94L1082.28 726.13L1082.75 760.11L1083.22 745.22L1083.69 736.64L1084.16 735.28L1084.62 763.31L1085.09 772.41L1085.56 767.38L1086.03 760.04L1086.5 754.53L1086.97 763.39L1087.43 768.69L1087.9 753.4L1088.37 771.75L1088.84 772.41L1089.78 743.62L1090.24 744.96L1090.71 732.01L1091.18 739.56L1091.65 742.45L1092.12 738.78L1092.59 747.38L1093.05 765.63L1093.52 762.07L1093.99 756.1L1094.46 762.51L1094.93 750.24L1095.4 754.72L1095.86 770.6L1096.33 760.51L1096.8 763.17L1097.27 752.65L1097.74 772.41L1098.2 772.41L1099.14 750.35L1099.61 750.89L1100.08 734.79L1101.01 759.45L1101.48 746.53L1101.95 752.05L1102.42 750.58L1102.89 735.9L1103.36 747.69L1103.82 754.8L1104.29 759.57L1105.7 737L1106.17 738.85L1106.63 725.09L1107.1 733.46L1107.57 739.04L1108.04 738.49L1108.51 713.85L1108.98 714.35L1109.91 742.91L1110.38 734.44L1110.85 712.94L1111.32 750.01L1111.79 750.01L1112.25 704L1112.72 705.15L1113.19 717.04L1113.19 717.04" clip-path="url(#p7c5dd60a0a)" style="fill: none; stroke: #1f77b4; stroke-opacity: 0.8; stroke-width: 1.6; stroke-linecap: square"/></g><g id="line2d_256"><path d="M645.37 484.88L645.84 577.85L646.31 617.87L646.77 628.76L647.24 645.58L647.71 630.33L648.18 650.35L648.65 649.19L649.58 622.73L650.05 563.93L650.52 565.09L650.99 620.96L651.46 626.7L651.93 669.94L652.39 622.52L652.86 596.73L653.33 602.04L653.8 600.03L654.73 672.74L655.2 658.93L655.67 629.83L656.14 646.85L656.61 645.1L657.08 600.33L657.54 608.2L658.01 627.12L658.48 605.7L658.95 589.67L659.42 619.32L659.89 633.93L660.35 631.96L660.82 632.87L661.29 673.41L661.76 657.08L662.23 622.93L662.7 636.19L663.16 655.93L663.63 624.45L664.1 616.88L664.57 653.68L665.04 662.79L665.51 603.22L665.97 593.22L666.91 651.65L667.38 602.13L667.85 577.1L668.32 578.26L668.78 646.05L669.25 650.68L669.72 648.09L670.19 656.24L670.66 609.32L671.13 600.22L671.59 612.16L672.06 632.77L672.53 634.66L673 625.02L673.47 665.64L673.93 644.64L674.4 564.28L674.87 565.44L675.34 585.96L675.81 597.22L676.28 618.59L676.74 646.84L677.21 666L677.68 675.08L678.15 675.13L678.62 648.06L679.09 664.98L679.55 675.27L680.02 655.62L680.49 691.35L680.96 690.19L681.43 598.8L681.9 629.49L682.36 632.88L682.83 647.73L683.3 638.91L684.24 598.55L684.71 629.22L685.17 584.24L685.64 581.77L686.11 581.78L686.58 613.7L687.05 584.06L687.52 585.22L687.98 638.58L688.45 657.26L688.92 640.76L689.39 665.75L689.86 649.61L690.32 617.62L690.79 609.01L691.26 613.75L691.73 639L692.2 641.24L692.67 638.08L693.13 657.67L693.6 664.32L694.07 637.13L694.54 656.87L695.01 627.86L695.48 610.8L695.94 588.29L696.41 589.45L696.88 651.28L697.35 661.49L697.82 618.55L698.29 588.17L698.75 583.78L699.22 629.96L699.69 638.64L700.16 642.12L701.1 599.5L701.56 607.98L702.03 644.36L702.5 644.05L702.97 621.18L703.44 631.06L703.91 627.29L704.37 660.17L704.84 634.5L705.31 601.1L705.78 607.55L706.25 575.53L706.72 576.69L707.18 604.77L707.65 596.85L708.12 594.51L708.59 593.69L709.06 614.53L709.52 663.02L709.99 675.7L710.46 634.77L710.93 625.33L711.4 638.9L711.87 669.15L712.8 587.71L713.27 588.87L714.21 664.32L714.68 660.34L715.14 616.32L715.61 690.95L716.08 689.79L717.02 587.13L717.49 588.29L717.95 616.34L718.42 630.26L718.89 619.79L719.36 629.75L719.83 601.08L720.3 658.64L720.76 693.27L721.23 692.11L721.7 682.77L722.17 660.15L722.64 677.67L723.11 673.73L723.57 638.41L724.04 630.58L724.51 589.2L724.98 596.86L725.45 654.77L725.91 683.66L726.85 626.23L727.32 610.89L727.79 642.43L728.26 663.58L728.72 674.51L729.19 629.06L729.66 636.37L730.13 670.45L730.6 643.59L731.07 678.11L731.53 670.36L732 671.01L732.47 662.61L732.94 661L733.41 631.21L733.88 616.84L734.34 606.37L734.81 612.1L735.28 606.22L735.75 611.82L736.69 670.87L737.15 634.38L737.62 679.86L738.09 683.16L738.56 663.39L739.03 673.52L739.5 652.27L739.96 643.16L740.43 612.18L740.9 614.37L741.37 620.85L741.84 629.98L742.31 649.45L742.77 659.18L743.24 652.32L743.71 620.35L744.18 629.93L744.65 601.63L745.11 602.79L745.58 638.92L746.05 632.33L746.52 657.74L746.99 670.87L747.46 642.36L747.92 636.11L748.39 634.76L748.86 636.14L749.33 632.43L749.8 607.21L750.27 615.46L750.73 641.56L751.2 640.72L751.67 629.61L752.14 635.18L752.61 613.51L753.08 621.77L753.54 617.6L754.01 601.21L754.48 627.3L754.95 668.92L755.42 663.6L755.89 667.47L756.35 650.15L756.82 644.23L757.29 647.45L757.76 626.21L758.23 618.4L758.7 643.01L759.16 699.07L759.63 697.91L760.1 634.72L761.04 657.33L761.5 637.54L761.97 598.35L762.44 609.7L762.91 652.78L763.38 652.9L763.85 653.74L764.31 627.2L764.78 636.89L765.25 663.5L765.72 671.06L766.19 669.45L766.66 693.75L767.12 693.88L767.59 664.01L768.06 652.14L768.53 660.72L769 660.04L769.47 694.5L770.4 631.43L770.87 643.69L771.34 663.78L772.28 616.32L772.74 633.48L773.21 614.98L773.68 622.97L774.15 686.46L774.62 687.37L775.09 662.37L775.55 629.53L776.02 613.55L776.49 610.16L776.96 609.28L777.43 622.15L777.89 653.05L778.36 668.13L779.3 610L779.77 612.31L780.24 627.21L780.7 663.01L781.17 601.63L781.64 602.79L782.11 652.69L782.58 650.16L783.05 660.55L783.51 639.41L783.98 631.14L784.45 633.79L784.92 633.57L785.39 666.86L785.86 671.32L786.32 684.98L786.79 651.43L787.26 634.18L787.73 606.63L788.2 663.12L788.67 683.96L789.13 629.55L789.6 627.78L790.07 664.48L790.54 652.09L791.01 619.07L791.94 674.5L792.41 685.71L792.88 716.46L793.35 715.3L793.82 650.88L794.29 677.05L794.75 682.19L795.22 668.77L795.69 669.66L796.16 680.5L796.63 683.47L797.09 650.6L797.56 670.22L798.03 654.7L798.5 622.01L798.97 630.94L799.44 657.6L799.9 647.12L800.37 664.34L800.84 692.36L801.31 648.07L801.78 579.59L802.25 580.75L802.71 645.49L803.18 664.95L803.65 632.61L804.12 624.95L804.59 609.66L805.06 621.42L805.52 644.52L805.99 712.4L806.46 711.24L806.93 644.24L807.4 650.41L807.87 646.61L808.33 646.69L808.8 668.36L809.27 676.74L809.74 669.37L810.21 684.78L810.68 705.39L811.14 703.57L811.61 684.66L812.08 676.05L812.55 634.3L813.02 651.21L813.48 677.08L813.95 641.74L814.42 671.14L814.89 670.39L815.36 682.82L815.83 706.72L816.29 663.34L816.76 648.68L817.23 643.25L817.7 662.73L818.17 670.15L818.64 647.55L819.1 614.99L819.57 632.64L820.04 674.46L820.98 639.71L821.45 675.78L821.91 679.05L822.38 625.99L822.85 627.15L823.32 706.93L823.79 635.18L824.26 642.12L824.72 685.31L825.19 672.36L825.66 654.01L826.13 659.95L826.6 658.44L827.53 683.54L828 712.5L828.94 701.29L829.41 703.62L829.88 672.11L830.34 682.35L830.81 687.86L831.28 708.1L831.75 755.32L832.22 754.16L832.68 703.29L833.15 699.34L833.62 671.97L834.09 684.91L834.56 703.42L835.03 694.91L835.49 672.32L835.96 711.34L836.43 728.32L836.9 739.4L837.37 739.45L837.84 739.33L838.3 719.81L838.77 695L839.24 702.64L839.71 697.74L840.18 706.69L840.65 656.47L841.11 669.57L841.58 698.95L842.05 684.76L842.52 654.99L842.99 656.15L843.46 714.76L843.92 676.77L844.39 680.45L844.86 717.48L845.33 720.37L845.8 718L846.27 686.47L846.73 702.85L847.2 675.29L848.61 714.49L849.07 671.73L849.54 673.95L850.01 699.81L850.48 674.38L850.95 657.5L851.42 657.55L852.82 740.99L853.29 706.99L853.76 695.31L854.23 696.62L854.69 694.44L856.1 720.13L856.57 710.05L857.04 708.82L857.5 705.3L857.97 681.6L858.91 728.46L860.31 678.81L860.78 704.79L861.25 705.13L861.72 688L862.19 624.25L862.66 625.41L863.12 677.92L863.59 683.53L864.06 683.07L864.53 642.46L865 659.81L865.47 701.65L865.93 695.03L866.4 646.29L866.87 647.45L867.34 687.45L867.81 691.84L868.27 673.8L868.74 677.73L869.21 683.88L869.68 686.61L870.15 670.96L870.62 690.77L871.08 691.2L871.55 678.95L872.02 706.6L872.49 685.59L872.96 708.88L873.43 712.92L873.89 694.73L874.36 670.7L874.83 672.93L875.3 659.07L875.77 637.95L876.24 666.19L876.7 669.61L877.17 645.87L877.64 669.12L878.11 654.45L878.58 675.88L879.05 678.07L879.51 690.82L879.98 684.55L880.45 664.97L880.92 657.99L881.39 699.83L881.86 707.6L882.32 651.01L882.79 642.33L883.26 671.86L883.73 667.23L884.2 685.64L884.66 634.69L885.13 635.85L885.6 700.04L886.07 663.61L886.54 708.69L887.01 701.18L887.47 697.25L887.94 695L888.88 630.63L889.35 631.79L889.82 655.52L890.28 692.21L890.75 681.79L891.22 661.35L891.69 646.29L892.16 647.45L892.63 690.77L893.09 700.34L893.56 694.75L894.5 668.88L894.97 637.95L895.44 660.23L895.9 707.77L896.37 676.21L896.84 708.62L897.31 690.55L897.78 660.79L898.25 661.95L898.71 714.2L899.18 738.59L899.65 747.35L900.12 713.16L900.59 707.12L901.52 726.57L901.99 721.09L902.46 731.33L902.93 767.5L903.4 766.34L903.86 726.27L904.33 712.64L904.8 725.29L905.27 776.2L905.74 775.04L906.21 733.3L906.67 722.09L907.14 719.27L907.61 731.3L908.08 735.49L908.55 717.44L909.02 734.27L909.48 735.57L909.95 731.76L910.42 726.22L910.89 728.46L911.36 753.43L911.83 747.83L912.29 756.64L912.76 754.5L913.23 748.01L913.7 721.5L914.17 731.19L914.64 720.7L915.1 715.21L915.57 728.9L916.04 727.81L916.51 716.76L917.45 760.92L917.91 755.57L918.38 722.3L918.85 704.9L919.32 727.47L920.25 746.97L920.72 727.81L921.19 733.44L921.66 761.44L922.6 699.95L923.06 705.87L923.53 723.13L924 708.6L924.47 725.9L924.94 668.33L925.41 669.49L925.87 716.65L926.34 721.72L926.81 724.72L927.28 765.18L927.75 764.02L928.22 722.76L928.68 716.68L929.15 722.24L929.62 701.88L930.09 687.65L931.03 726.72L931.49 734.71L931.96 736.47L932.43 739.64L932.9 709.47L933.37 740.62L933.84 738.77L934.3 727.06L934.77 676.45L935.24 677.61L935.71 691.92L936.18 711.43L936.65 679.61L937.11 699.68L937.58 741.24L938.05 741.26L938.52 718.99L938.99 690.6L939.45 782.58L939.92 781.42L940.39 707.65L940.86 696.13L941.33 714.31L941.8 712.14L942.26 701.27L942.73 720.79L943.2 716.22L943.67 664.27L944.14 665.43L944.61 701.36L945.07 708.64L945.54 747.45L946.01 740.48L946.48 720.28L946.95 736.52L947.42 720.45L947.88 741.88L948.35 719.98L948.82 718.65L949.29 706.51L949.76 690.24L950.23 723.4L950.69 720.98L951.16 773.88L951.63 772.72L952.57 720.88L953.04 718L953.5 689.62L953.97 674.94L954.44 722.43L955.38 749.59L955.84 754.28L956.31 723.01L956.78 762.28L957.25 761.12L957.72 639.62L958.19 640.78L958.65 719.94L959.12 733.92L959.59 737.96L960.53 731.38L961 753.2L961.46 726.83L962.4 712.2L962.87 711.99L963.34 715.27L963.81 716.28L964.27 727.36L964.74 674.94L965.21 674.94L965.68 690.39L966.15 733.29L966.62 726.72L967.55 751.83L968.02 723.17L968.49 708.14L968.96 722.58L969.89 680.43L970.36 645.13L970.83 646.29L971.3 695.99L971.77 679.03L972.7 720.58L973.17 704.45L973.64 757.64L974.11 756.48L974.58 704.65L975.04 689.13L975.51 683.9L976.45 740.82L976.92 657.89L977.39 659.05L977.85 730.84L978.32 732.34L978.79 709.5L979.73 685.34L980.2 697.27L980.66 694.06L981.6 713.12L982.54 686.36L983.01 689.08L983.47 672.08L983.94 702.84L984.41 701.81L984.88 691.35L985.35 685.53L985.82 693.43L986.28 691.83L986.75 702.13L987.22 690.71L987.69 683.01L988.16 684.18L988.63 703.56L989.09 687.61L989.56 657.31L990.03 658.47L990.5 710.27L990.97 684.05L991.43 681.05L991.9 704.85L992.37 715.27L992.84 704.06L993.31 682.22L993.78 674.79L994.24 698.91L994.71 687.31L995.18 692.45L995.65 653.25L996.12 654.41L996.59 649.67L997.05 672.97L997.52 716.22L997.99 702.51L998.46 692.85L998.93 706.6L999.4 693.06L999.86 646.87L1000.33 648.03L1000.8 691.3L1001.27 666.96L1002.21 729.88L1002.67 690.72L1003.14 672.23L1003.61 691.38L1004.55 677.82L1005.02 703.09L1005.48 674.38L1005.95 706.89L1006.42 702.11L1006.89 693.35L1007.36 701.91L1007.82 703.06L1008.29 697.32L1008.76 706L1009.23 706.16L1009.7 709.79L1010.17 693.82L1011.1 737.66L1011.57 672.76L1012.04 701.54L1012.51 711.37L1012.98 672.91L1013.44 701.69L1013.91 699.75L1014.38 714.4L1014.85 734.63L1015.32 773.3L1015.79 772.14L1016.25 695.41L1016.72 661.97L1017.19 700.64L1017.66 719.11L1018.13 714.91L1018.6 692.96L1019.06 694.79L1019.53 688.19L1020 701.3L1020.47 730.43L1020.94 688.9L1021.41 680.37L1022.34 721.02L1022.81 734.61L1023.75 673.68L1024.22 677.02L1024.68 708.91L1025.15 711.18L1025.62 710.22L1026.09 703.22L1026.56 708.64L1027.02 644.55L1027.49 645.71L1027.96 716.89L1028.43 741.42L1028.9 725.54L1029.37 691.63L1029.83 691.7L1030.3 705.39L1030.77 703.19L1031.24 704.03L1031.71 683.21L1032.18 702.5L1032.64 737.27L1033.11 710.5L1033.58 691.98L1034.05 711.43L1034.52 703.35L1034.99 678.59L1035.45 717.24L1035.92 714.82L1036.39 641.07L1036.86 642.23L1037.33 712.17L1037.8 677.55L1038.26 707.09L1038.73 713.08L1039.2 709.6L1039.67 708.53L1040.14 759.38L1040.61 758.22L1041.07 701.12L1041.54 676.18L1042.01 709.44L1042.48 714.05L1042.95 683.69L1043.41 640.9L1043.88 642.06L1044.35 731.74L1044.82 706.2L1045.29 708.75L1045.76 703L1046.22 707.49L1046.69 703.85L1047.16 703.47L1047.63 693.13L1048.1 671.72L1049.03 688.79L1049.5 689.29L1049.97 708.77L1050.44 693.89L1050.91 706.9L1051.38 741.97L1051.84 731.13L1052.31 670.26L1052.78 675.95L1053.25 688.83L1053.72 697.24L1054.19 657.89L1054.65 659.05L1055.12 739.84L1055.59 696.92L1056.06 710.13L1056.53 737.83L1057 705.41L1057.93 680.22L1058.4 697.04L1058.87 683.76L1059.34 712.88L1059.81 710.89L1060.74 723.44L1061.21 717.19L1061.68 733.89L1062.15 736.36L1063.08 674.94L1063.55 679.47L1064.02 703.04L1064.49 709.26L1064.96 713.26L1065.42 728.17L1065.89 713.66L1066.36 731.26L1066.83 715.79L1067.3 800.73L1067.77 799.57L1068.23 707.91L1068.7 731.79L1069.17 716.18L1069.64 717.59L1070.11 707.65L1070.58 728.08L1071.04 740.68L1071.51 762.86L1071.98 761.7L1072.45 716.51L1072.92 695.97L1073.39 703.98L1073.85 706.71L1074.32 711.82L1074.79 699.85L1075.26 696.11L1075.73 709.9L1076.2 718.21L1076.66 686.75L1077.13 683.01L1077.6 716.66L1078.07 706.04L1078.54 647.45L1079 648.61L1079.47 701.49L1079.94 725.89L1080.41 737.54L1081.35 716.22L1081.81 690.34L1082.75 773L1083.22 758.6L1083.69 726.97L1084.16 717.35L1085.09 757.53L1085.56 785.48L1086.03 784.32L1086.5 760.48L1086.97 793.6L1087.43 792.44L1087.9 763.27L1088.37 780.82L1088.84 771.01L1089.31 756.65L1089.78 737.07L1090.24 750.75L1090.71 750.99L1091.18 733.99L1091.65 738.51L1092.12 761.43L1092.59 766.49L1093.05 777.31L1093.52 767.72L1093.99 783.16L1094.46 782L1094.93 739.99L1095.86 767.7L1096.33 784.9L1096.8 783.74L1097.27 743.85L1097.74 775.27L1098.2 755.27L1098.67 758.73L1099.14 755L1099.61 761.32L1100.08 756.44L1100.55 756.39L1101.01 775.23L1101.48 752.31L1102.42 744.35L1102.89 729.6L1103.36 755.2L1103.82 761.41L1104.29 761.84L1104.76 740.88L1105.23 741.86L1105.7 777.94L1106.17 776.78L1106.63 737.79L1107.1 730.65L1107.57 679.93L1108.04 681.09L1108.51 724.3L1108.98 710.68L1109.44 733.37L1109.91 748.57L1110.38 721.55L1110.85 706.57L1111.32 717L1111.79 722.72L1112.25 730L1112.72 719.33L1113.19 740.24L1113.19 740.24" clip-path="url(#p7c5dd60a0a)" style="fill: none; stroke: #ff7f0e; stroke-opacity: 0.8; stroke-width: 1.6; stroke-linecap: square"/></g><g id="patch_21"><path d="M622.141 818.038L622.141 449.398" style="fill: none; stroke: #000000; stroke-width: 0.8; stroke-linejoin: miter; stroke-linecap: square"/></g><g id="patch_22"><path d="M1136.941 818.038L1136.941 449.398" style="fill: none; stroke: #000000; stroke-width: 0.8; stroke-linejoin: miter; stroke-linecap: square"/></g><g id="patch_23"><path d="M622.141 818.038L1136.941 818.038" style="fill: none; stroke: #000000; stroke-width: 0.8; stroke-linejoin: miter; stroke-linecap: square"/></g><g id="patch_24"><path d="M622.141 449.398L1136.941 449.398" style="fill: none; stroke: #000000; stroke-width: 0.8; stroke-linejoin: miter; stroke-linecap: square"/></g><g id="text_61" transform="translate(0.542 0.198)"><text style="font-size: 12px; font-family: 'DejaVu Sans', 'Liberation Sans', sans-serif; text-anchor: middle" x="879.28" y="442.918">Boundary Loss</text></g><g id="legend_4"><g id="patch_25"><path d="M1048.38 487.56L1129.74 487.56Q1131.9 487.56 1131.9 485.4L1131.9 456.6Q1131.9 454.44 1129.74 454.44L1048.38 454.44Q1046.22 454.44 1046.22 456.6L1046.22 485.4Q1046.22 487.56 1048.38 487.56z" style="fill: #ffffff; opacity: 0.8; stroke: #cccccc; stroke-linejoin: miter"/></g><g id="line2d_257"><path d="M1050.181 461.998L1060.261 461.998L1070.341 461.998" style="fill: none; stroke: #1f77b4; stroke-opacity: 0.8; stroke-width: 1.5; stroke-linecap: square"/></g><g id="text_62" transform="translate(0.376 0.945)"><text style="font-size: 10px; font-family: 'DejaVu Sans', 'Liberation Sans', sans-serif; text-anchor: start" x="1078.2" y="465.517">Training</text></g><g id="line2d_258"><path d="M1050.181 477.118L1060.261 477.118L1070.341 477.118" style="fill: none; stroke: #ff7f0e; stroke-opacity: 0.8; stroke-width: 1.5; stroke-linecap: square"/></g><g id="text_63" transform="translate(-0.385 1.5)"><text style="font-size: 10px; font-family: 'DejaVu Sans', 'Liberation Sans', sans-serif; text-anchor: start" x="1078.2" y="480.195">Validation</text></g></g></g></g><defs><clipPath id="pe0cba275ca"><rect x="51.378" y="22.318" width="514.603" height="368.56"/></clipPath><clipPath id="pb84562664e"><rect x="621.978" y="22.318" width="514.603" height="368.56"/></clipPath><clipPath id="p14eb2305f6"><rect x="51.378" y="448.918" width="514.603" height="368.56"/></clipPath><clipPath id="p7c5dd60a0a"><rect x="621.978" y="448.918" width="514.603" height="368.56"/></clipPath></defs></g></svg> 
</body></html>
